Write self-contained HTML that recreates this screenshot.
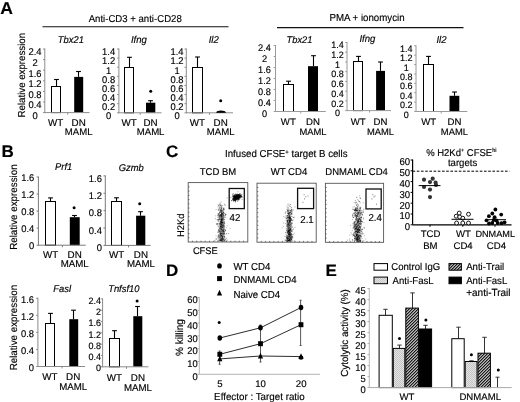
<!DOCTYPE html>
<html><head><meta charset="utf-8"><style>
html,body{margin:0;padding:0;background:#fff;}
svg{display:block;font-family:"Liberation Sans", sans-serif;filter:blur(0.3px);}
text{stroke:#000;stroke-width:0.15px;text-rendering:geometricPrecision;}
</style></head><body>
<svg width="520" height="402" viewBox="0 0 520 402">
<rect width="520" height="402" fill="#fff"/>
<text transform="translate(0.3 14) scale(1 0.98)" font-size="17.6" text-anchor="start" font-weight="bold" fill="#000">A</text>
<text transform="translate(135.2 21.6) scale(1 1.04)" font-size="9.6" text-anchor="middle" fill="#000">Anti-CD3 + anti-CD28</text>
<line x1="42.5" y1="26.8" x2="228.5" y2="26.8" stroke="#111" stroke-width="1.1"/>
<text transform="translate(367 21.4) scale(1 1.04)" font-size="9.7" text-anchor="middle" fill="#000">PMA + ionomycin</text>
<line x1="277" y1="27.6" x2="463.5" y2="27.6" stroke="#111" stroke-width="1.1"/>
<text transform="translate(70.9 42.7) scale(1 1.04)" font-size="9.4" text-anchor="middle" font-style="italic" fill="#000">Tbx21</text>
<text transform="translate(138.9 42.6) scale(1 1.04)" font-size="9.6" text-anchor="middle" font-style="italic" fill="#000">Ifng</text>
<text transform="translate(213.7 43.3) scale(1 1.04)" font-size="9.6" text-anchor="middle" font-style="italic" fill="#000">Il2</text>
<text transform="translate(299.5 42.7) scale(1 1.04)" font-size="9.3" text-anchor="middle" font-style="italic" fill="#000">Tbx21</text>
<text transform="translate(367.4 42.2) scale(1 1.04)" font-size="9.6" text-anchor="middle" font-style="italic" fill="#000">Ifng</text>
<text transform="translate(441.5 43) scale(1 1.04)" font-size="9.6" text-anchor="middle" font-style="italic" fill="#000">Il2</text>
<line x1="56.5" y1="79.5" x2="56.5" y2="86.1" stroke="#000" stroke-width="1.1"/>
<line x1="54.1" y1="79.5" x2="58.9" y2="79.5" stroke="#000" stroke-width="1.1"/>
<rect x="51.5" y="86.5" width="9" height="26.1" fill="#fff" stroke="#000" stroke-width="1"/>
<line x1="78.5" y1="71.5" x2="78.5" y2="76.9" stroke="#000" stroke-width="1.1"/>
<line x1="76.1" y1="71.5" x2="80.9" y2="71.5" stroke="#000" stroke-width="1.1"/>
<rect x="74.2" y="76.9" width="9" height="35.7" fill="#000" stroke="none" stroke-width="1"/>
<line x1="44.8" y1="48.5" x2="44.8" y2="113.1" stroke="#8c8c8c" stroke-width="1"/>
<line x1="44.8" y1="112.6" x2="89.5" y2="112.6" stroke="#8c8c8c" stroke-width="1"/>
<line x1="43" y1="49" x2="44.8" y2="49" stroke="#8c8c8c" stroke-width="1"/>
<text transform="translate(35 55.49) scale(1 1.04)" font-size="9.4" text-anchor="middle" fill="#000">2.4</text>
<line x1="43" y1="59.6" x2="44.8" y2="59.6" stroke="#8c8c8c" stroke-width="1"/>
<text transform="translate(35 66.09) scale(1 1.04)" font-size="9.4" text-anchor="middle" fill="#000">2</text>
<line x1="43" y1="70.2" x2="44.8" y2="70.2" stroke="#8c8c8c" stroke-width="1"/>
<text transform="translate(35 76.69) scale(1 1.04)" font-size="9.4" text-anchor="middle" fill="#000">1.6</text>
<line x1="43" y1="80.8" x2="44.8" y2="80.8" stroke="#8c8c8c" stroke-width="1"/>
<text transform="translate(35 87.29) scale(1 1.04)" font-size="9.4" text-anchor="middle" fill="#000">1.2</text>
<line x1="43" y1="91.4" x2="44.8" y2="91.4" stroke="#8c8c8c" stroke-width="1"/>
<text transform="translate(35 97.89) scale(1 1.04)" font-size="9.4" text-anchor="middle" fill="#000">0.8</text>
<line x1="43" y1="102" x2="44.8" y2="102" stroke="#8c8c8c" stroke-width="1"/>
<text transform="translate(35 108.49) scale(1 1.04)" font-size="9.4" text-anchor="middle" fill="#000">0.4</text>
<line x1="43" y1="112.6" x2="44.8" y2="112.6" stroke="#8c8c8c" stroke-width="1"/>
<text transform="translate(35 119.09) scale(1 1.04)" font-size="9.4" text-anchor="middle" fill="#000">0</text>
<line x1="67.7" y1="112.6" x2="67.7" y2="114.6" stroke="#8c8c8c" stroke-width="1"/>
<line x1="129.5" y1="57.3" x2="129.5" y2="67.3" stroke="#000" stroke-width="1.1"/>
<line x1="127.1" y1="57.3" x2="131.9" y2="57.3" stroke="#000" stroke-width="1.1"/>
<rect x="124.5" y="67.5" width="9" height="45.3" fill="#fff" stroke="#000" stroke-width="1"/>
<line x1="150.5" y1="100.7" x2="150.5" y2="102.7" stroke="#000" stroke-width="1.1"/>
<line x1="148.1" y1="100.7" x2="152.9" y2="100.7" stroke="#000" stroke-width="1.1"/>
<rect x="146" y="102.7" width="9.3" height="10.1" fill="#000" stroke="none" stroke-width="1"/>
<line x1="118.9" y1="48.5" x2="118.9" y2="113.3" stroke="#8c8c8c" stroke-width="1"/>
<line x1="118.9" y1="112.8" x2="161.5" y2="112.8" stroke="#8c8c8c" stroke-width="1"/>
<line x1="117.1" y1="49" x2="118.9" y2="49" stroke="#8c8c8c" stroke-width="1"/>
<text transform="translate(108.6 55.29) scale(1 1.04)" font-size="9.4" text-anchor="middle" fill="#000">1.4</text>
<line x1="117.1" y1="58.11" x2="118.9" y2="58.11" stroke="#8c8c8c" stroke-width="1"/>
<text transform="translate(108.6 64.4) scale(1 1.04)" font-size="9.4" text-anchor="middle" fill="#000">1.2</text>
<line x1="117.1" y1="67.23" x2="118.9" y2="67.23" stroke="#8c8c8c" stroke-width="1"/>
<text transform="translate(108.6 73.52) scale(1 1.04)" font-size="9.4" text-anchor="middle" fill="#000">1</text>
<line x1="117.1" y1="76.34" x2="118.9" y2="76.34" stroke="#8c8c8c" stroke-width="1"/>
<text transform="translate(108.6 82.63) scale(1 1.04)" font-size="9.4" text-anchor="middle" fill="#000">0.8</text>
<line x1="117.1" y1="85.46" x2="118.9" y2="85.46" stroke="#8c8c8c" stroke-width="1"/>
<text transform="translate(108.6 91.75) scale(1 1.04)" font-size="9.4" text-anchor="middle" fill="#000">0.6</text>
<line x1="117.1" y1="94.57" x2="118.9" y2="94.57" stroke="#8c8c8c" stroke-width="1"/>
<text transform="translate(108.6 100.86) scale(1 1.04)" font-size="9.4" text-anchor="middle" fill="#000">0.4</text>
<line x1="117.1" y1="103.69" x2="118.9" y2="103.69" stroke="#8c8c8c" stroke-width="1"/>
<text transform="translate(108.6 109.98) scale(1 1.04)" font-size="9.4" text-anchor="middle" fill="#000">0.2</text>
<line x1="117.1" y1="112.8" x2="118.9" y2="112.8" stroke="#8c8c8c" stroke-width="1"/>
<text transform="translate(108.6 119.09) scale(1 1.04)" font-size="9.4" text-anchor="middle" fill="#000">0</text>
<line x1="140.2" y1="112.8" x2="140.2" y2="114.8" stroke="#8c8c8c" stroke-width="1"/>
<circle cx="150.7" cy="91.3" r="1.5" fill="#000"/>
<line x1="197.5" y1="57" x2="197.5" y2="67.3" stroke="#000" stroke-width="1.1"/>
<line x1="195.1" y1="57" x2="199.9" y2="57" stroke="#000" stroke-width="1.1"/>
<rect x="192.5" y="67.5" width="10" height="45.3" fill="#fff" stroke="#000" stroke-width="1"/>
<rect x="216.8" y="111.6" width="7.9" height="1.2" fill="#000" stroke="none" stroke-width="1"/>
<line x1="186.3" y1="48.5" x2="186.3" y2="113.3" stroke="#8c8c8c" stroke-width="1"/>
<line x1="186.3" y1="112.8" x2="233" y2="112.8" stroke="#8c8c8c" stroke-width="1"/>
<line x1="184.5" y1="49" x2="186.3" y2="49" stroke="#8c8c8c" stroke-width="1"/>
<text transform="translate(177 55.29) scale(1 1.04)" font-size="9.4" text-anchor="middle" fill="#000">1.4</text>
<line x1="184.5" y1="58.11" x2="186.3" y2="58.11" stroke="#8c8c8c" stroke-width="1"/>
<text transform="translate(177 64.4) scale(1 1.04)" font-size="9.4" text-anchor="middle" fill="#000">1.2</text>
<line x1="184.5" y1="67.23" x2="186.3" y2="67.23" stroke="#8c8c8c" stroke-width="1"/>
<text transform="translate(177 73.52) scale(1 1.04)" font-size="9.4" text-anchor="middle" fill="#000">1</text>
<line x1="184.5" y1="76.34" x2="186.3" y2="76.34" stroke="#8c8c8c" stroke-width="1"/>
<text transform="translate(177 82.63) scale(1 1.04)" font-size="9.4" text-anchor="middle" fill="#000">0.8</text>
<line x1="184.5" y1="85.46" x2="186.3" y2="85.46" stroke="#8c8c8c" stroke-width="1"/>
<text transform="translate(177 91.75) scale(1 1.04)" font-size="9.4" text-anchor="middle" fill="#000">0.6</text>
<line x1="184.5" y1="94.57" x2="186.3" y2="94.57" stroke="#8c8c8c" stroke-width="1"/>
<text transform="translate(177 100.86) scale(1 1.04)" font-size="9.4" text-anchor="middle" fill="#000">0.4</text>
<line x1="184.5" y1="103.69" x2="186.3" y2="103.69" stroke="#8c8c8c" stroke-width="1"/>
<text transform="translate(177 109.98) scale(1 1.04)" font-size="9.4" text-anchor="middle" fill="#000">0.2</text>
<line x1="184.5" y1="112.8" x2="186.3" y2="112.8" stroke="#8c8c8c" stroke-width="1"/>
<text transform="translate(177 119.09) scale(1 1.04)" font-size="9.4" text-anchor="middle" fill="#000">0</text>
<line x1="209.5" y1="112.8" x2="209.5" y2="114.8" stroke="#8c8c8c" stroke-width="1"/>
<circle cx="220.7" cy="100.7" r="1.5" fill="#000"/>
<path d="M216,112.7 Q217,110.5 221,110.5 Q225,110.5 226.2,112.7 Z" fill="#000"/>
<text transform="translate(55.6 125.6) scale(1 1.0)" font-size="9.8" text-anchor="middle" fill="#000">WT</text>
<text transform="translate(78.7 125.6) scale(1 1.0)" font-size="9.8" text-anchor="middle" fill="#000">DN</text>
<text transform="translate(78.7 134.7) scale(1 1.0)" font-size="9.6" text-anchor="middle" fill="#000">MAML</text>
<text transform="translate(129.1 125.6) scale(1 1.0)" font-size="9.8" text-anchor="middle" fill="#000">WT</text>
<text transform="translate(150.6 125.6) scale(1 1.0)" font-size="9.8" text-anchor="middle" fill="#000">DN</text>
<text transform="translate(150.6 134.7) scale(1 1.0)" font-size="9.6" text-anchor="middle" fill="#000">MAML</text>
<text transform="translate(197.4 125.6) scale(1 1.0)" font-size="9.8" text-anchor="middle" fill="#000">WT</text>
<text transform="translate(220.7 125.6) scale(1 1.0)" font-size="9.8" text-anchor="middle" fill="#000">DN</text>
<text transform="translate(220.7 134.7) scale(1 1.0)" font-size="9.6" text-anchor="middle" fill="#000">MAML</text>
<line x1="288.5" y1="81.2" x2="288.5" y2="84.2" stroke="#000" stroke-width="1.1"/>
<line x1="286.1" y1="81.2" x2="290.9" y2="81.2" stroke="#000" stroke-width="1.1"/>
<rect x="283.5" y="84.5" width="10" height="27" fill="#fff" stroke="#000" stroke-width="1"/>
<line x1="313.5" y1="55.7" x2="313.5" y2="66.2" stroke="#000" stroke-width="1.1"/>
<line x1="311.1" y1="55.7" x2="315.9" y2="55.7" stroke="#000" stroke-width="1.1"/>
<rect x="308" y="66.2" width="10" height="45.3" fill="#000" stroke="none" stroke-width="1"/>
<line x1="275.5" y1="45" x2="275.5" y2="112" stroke="#9a9a9a" stroke-width="1"/>
<line x1="275.5" y1="111.5" x2="325.8" y2="111.5" stroke="#9a9a9a" stroke-width="1"/>
<line x1="273.7" y1="45.5" x2="275.5" y2="45.5" stroke="#9a9a9a" stroke-width="1"/>
<text transform="translate(264.5 50.52) scale(1 1.04)" font-size="9.2" text-anchor="middle" fill="#000">2.4</text>
<line x1="273.7" y1="56.5" x2="275.5" y2="56.5" stroke="#9a9a9a" stroke-width="1"/>
<text transform="translate(264.5 61.52) scale(1 1.04)" font-size="9.2" text-anchor="middle" fill="#000">2</text>
<line x1="273.7" y1="67.5" x2="275.5" y2="67.5" stroke="#9a9a9a" stroke-width="1"/>
<text transform="translate(264.5 72.52) scale(1 1.04)" font-size="9.2" text-anchor="middle" fill="#000">1.6</text>
<line x1="273.7" y1="78.5" x2="275.5" y2="78.5" stroke="#9a9a9a" stroke-width="1"/>
<text transform="translate(264.5 83.52) scale(1 1.04)" font-size="9.2" text-anchor="middle" fill="#000">1.2</text>
<line x1="273.7" y1="89.5" x2="275.5" y2="89.5" stroke="#9a9a9a" stroke-width="1"/>
<text transform="translate(264.5 94.52) scale(1 1.04)" font-size="9.2" text-anchor="middle" fill="#000">0.8</text>
<line x1="273.7" y1="100.5" x2="275.5" y2="100.5" stroke="#9a9a9a" stroke-width="1"/>
<text transform="translate(264.5 105.52) scale(1 1.04)" font-size="9.2" text-anchor="middle" fill="#000">0.4</text>
<line x1="273.7" y1="111.5" x2="275.5" y2="111.5" stroke="#9a9a9a" stroke-width="1"/>
<text transform="translate(264.5 116.52) scale(1 1.04)" font-size="9.2" text-anchor="middle" fill="#000">0</text>
<line x1="300.8" y1="111.5" x2="300.8" y2="113.5" stroke="#9a9a9a" stroke-width="1"/>
<line x1="358.5" y1="56.4" x2="358.5" y2="61.9" stroke="#000" stroke-width="1.1"/>
<line x1="356.1" y1="56.4" x2="360.9" y2="56.4" stroke="#000" stroke-width="1.1"/>
<rect x="353.5" y="61.5" width="9" height="49.1" fill="#fff" stroke="#000" stroke-width="1"/>
<line x1="380.5" y1="62" x2="380.5" y2="70.9" stroke="#000" stroke-width="1.1"/>
<line x1="378.1" y1="62" x2="382.9" y2="62" stroke="#000" stroke-width="1.1"/>
<rect x="376.1" y="70.9" width="8.9" height="39.7" fill="#000" stroke="none" stroke-width="1"/>
<line x1="347" y1="42" x2="347" y2="111.1" stroke="#9a9a9a" stroke-width="1"/>
<line x1="347" y1="110.6" x2="391" y2="110.6" stroke="#9a9a9a" stroke-width="1"/>
<line x1="345.2" y1="42.5" x2="347" y2="42.5" stroke="#9a9a9a" stroke-width="1"/>
<text transform="translate(337.4 48.15) scale(1 1.04)" font-size="9" text-anchor="middle" fill="#000">1.4</text>
<line x1="345.2" y1="52.23" x2="347" y2="52.23" stroke="#9a9a9a" stroke-width="1"/>
<text transform="translate(337.4 57.88) scale(1 1.04)" font-size="9" text-anchor="middle" fill="#000">1.2</text>
<line x1="345.2" y1="61.96" x2="347" y2="61.96" stroke="#9a9a9a" stroke-width="1"/>
<text transform="translate(337.4 67.61) scale(1 1.04)" font-size="9" text-anchor="middle" fill="#000">1</text>
<line x1="345.2" y1="71.69" x2="347" y2="71.69" stroke="#9a9a9a" stroke-width="1"/>
<text transform="translate(337.4 77.34) scale(1 1.04)" font-size="9" text-anchor="middle" fill="#000">0.8</text>
<line x1="345.2" y1="81.41" x2="347" y2="81.41" stroke="#9a9a9a" stroke-width="1"/>
<text transform="translate(337.4 87.06) scale(1 1.04)" font-size="9" text-anchor="middle" fill="#000">0.6</text>
<line x1="345.2" y1="91.14" x2="347" y2="91.14" stroke="#9a9a9a" stroke-width="1"/>
<text transform="translate(337.4 96.79) scale(1 1.04)" font-size="9" text-anchor="middle" fill="#000">0.4</text>
<line x1="345.2" y1="100.87" x2="347" y2="100.87" stroke="#9a9a9a" stroke-width="1"/>
<text transform="translate(337.4 106.52) scale(1 1.04)" font-size="9" text-anchor="middle" fill="#000">0.2</text>
<line x1="345.2" y1="110.6" x2="347" y2="110.6" stroke="#9a9a9a" stroke-width="1"/>
<text transform="translate(337.4 116.25) scale(1 1.04)" font-size="9" text-anchor="middle" fill="#000">0</text>
<line x1="369.6" y1="110.6" x2="369.6" y2="112.6" stroke="#9a9a9a" stroke-width="1"/>
<line x1="428.5" y1="56.4" x2="428.5" y2="64.4" stroke="#000" stroke-width="1.1"/>
<line x1="426.1" y1="56.4" x2="430.9" y2="56.4" stroke="#000" stroke-width="1.1"/>
<rect x="423.5" y="64.5" width="10" height="47" fill="#fff" stroke="#000" stroke-width="1"/>
<line x1="454.5" y1="92" x2="454.5" y2="95.8" stroke="#000" stroke-width="1.1"/>
<line x1="452.1" y1="92" x2="456.9" y2="92" stroke="#000" stroke-width="1.1"/>
<rect x="449.5" y="95.8" width="9.8" height="15.7" fill="#000" stroke="none" stroke-width="1"/>
<line x1="416" y1="45.3" x2="416" y2="112" stroke="#9a9a9a" stroke-width="1"/>
<line x1="416" y1="111.5" x2="467.3" y2="111.5" stroke="#9a9a9a" stroke-width="1"/>
<line x1="414.2" y1="45.8" x2="416" y2="45.8" stroke="#9a9a9a" stroke-width="1"/>
<text transform="translate(406.2 51.95) scale(1 1.04)" font-size="9" text-anchor="middle" fill="#000">1.4</text>
<line x1="414.2" y1="55.19" x2="416" y2="55.19" stroke="#9a9a9a" stroke-width="1"/>
<text transform="translate(406.2 61.34) scale(1 1.04)" font-size="9" text-anchor="middle" fill="#000">1.2</text>
<line x1="414.2" y1="64.57" x2="416" y2="64.57" stroke="#9a9a9a" stroke-width="1"/>
<text transform="translate(406.2 70.72) scale(1 1.04)" font-size="9" text-anchor="middle" fill="#000">1</text>
<line x1="414.2" y1="73.96" x2="416" y2="73.96" stroke="#9a9a9a" stroke-width="1"/>
<text transform="translate(406.2 80.11) scale(1 1.04)" font-size="9" text-anchor="middle" fill="#000">0.8</text>
<line x1="414.2" y1="83.34" x2="416" y2="83.34" stroke="#9a9a9a" stroke-width="1"/>
<text transform="translate(406.2 89.49) scale(1 1.04)" font-size="9" text-anchor="middle" fill="#000">0.6</text>
<line x1="414.2" y1="92.73" x2="416" y2="92.73" stroke="#9a9a9a" stroke-width="1"/>
<text transform="translate(406.2 98.88) scale(1 1.04)" font-size="9" text-anchor="middle" fill="#000">0.4</text>
<line x1="414.2" y1="102.11" x2="416" y2="102.11" stroke="#9a9a9a" stroke-width="1"/>
<text transform="translate(406.2 108.26) scale(1 1.04)" font-size="9" text-anchor="middle" fill="#000">0.2</text>
<line x1="414.2" y1="111.5" x2="416" y2="111.5" stroke="#9a9a9a" stroke-width="1"/>
<text transform="translate(406.2 117.65) scale(1 1.04)" font-size="9" text-anchor="middle" fill="#000">0</text>
<line x1="441.2" y1="111.5" x2="441.2" y2="113.5" stroke="#9a9a9a" stroke-width="1"/>
<text transform="translate(288.3 125) scale(1 1.0)" font-size="9.6" text-anchor="middle" fill="#000">WT</text>
<text transform="translate(313 125) scale(1 1.0)" font-size="9.6" text-anchor="middle" fill="#000">DN</text>
<text transform="translate(313 134.8) scale(1 1.0)" font-size="9.4" text-anchor="middle" fill="#000">MAML</text>
<text transform="translate(358.1 125) scale(1 1.0)" font-size="9.6" text-anchor="middle" fill="#000">WT</text>
<text transform="translate(380.5 125) scale(1 1.0)" font-size="9.6" text-anchor="middle" fill="#000">DN</text>
<text transform="translate(380.5 134.8) scale(1 1.0)" font-size="9.4" text-anchor="middle" fill="#000">MAML</text>
<text transform="translate(428.6 125) scale(1 1.0)" font-size="9.6" text-anchor="middle" fill="#000">WT</text>
<text transform="translate(454.4 125) scale(1 1.0)" font-size="9.6" text-anchor="middle" fill="#000">DN</text>
<text transform="translate(454.4 134.8) scale(1 1.0)" font-size="9.4" text-anchor="middle" fill="#000">MAML</text>
<text transform="translate(25 75.2) rotate(-90) scale(1 1.04)" font-size="9.7" text-anchor="middle" fill="#000">Relative expression</text>
<text transform="translate(1.5 157) scale(1 1.0)" font-size="17" text-anchor="start" font-weight="bold" fill="#000">B</text>
<text transform="translate(63.6 169.9) scale(1 1.04)" font-size="9.4" text-anchor="middle" font-style="italic" fill="#000">Prf1</text>
<text transform="translate(131.2 170.5) scale(1 1.04)" font-size="9.4" text-anchor="middle" font-style="italic" fill="#000">Gzmb</text>
<text transform="translate(62.2 292.3) scale(1 1.04)" font-size="9.4" text-anchor="middle" font-style="italic" fill="#000">Fasl</text>
<text transform="translate(123.8 292.3) scale(1 1.04)" font-size="9.4" text-anchor="middle" font-style="italic" fill="#000">Tnfsf10</text>
<line x1="50.5" y1="197.9" x2="50.5" y2="201.5" stroke="#000" stroke-width="1.1"/>
<line x1="48.1" y1="197.9" x2="52.9" y2="197.9" stroke="#000" stroke-width="1.1"/>
<rect x="45.5" y="201.5" width="10" height="43.7" fill="#fff" stroke="#000" stroke-width="1"/>
<line x1="74.5" y1="215.5" x2="74.5" y2="217.2" stroke="#000" stroke-width="1.1"/>
<line x1="72.1" y1="215.5" x2="76.9" y2="215.5" stroke="#000" stroke-width="1.1"/>
<rect x="69.8" y="217.2" width="9.9" height="28" fill="#000" stroke="none" stroke-width="1"/>
<line x1="38.4" y1="176.5" x2="38.4" y2="245.7" stroke="#7a7a7a" stroke-width="1"/>
<line x1="38.4" y1="245.2" x2="85.7" y2="245.2" stroke="#7a7a7a" stroke-width="1"/>
<line x1="36.6" y1="177" x2="38.4" y2="177" stroke="#7a7a7a" stroke-width="1"/>
<text transform="translate(34.3 180.99) scale(1 1.04)" font-size="9.4" text-anchor="end" fill="#000">1.6</text>
<line x1="36.6" y1="194.05" x2="38.4" y2="194.05" stroke="#7a7a7a" stroke-width="1"/>
<text transform="translate(34.3 198.04) scale(1 1.04)" font-size="9.4" text-anchor="end" fill="#000">1.2</text>
<line x1="36.6" y1="211.1" x2="38.4" y2="211.1" stroke="#7a7a7a" stroke-width="1"/>
<text transform="translate(34.3 215.09) scale(1 1.04)" font-size="9.4" text-anchor="end" fill="#000">0.8</text>
<line x1="36.6" y1="228.15" x2="38.4" y2="228.15" stroke="#7a7a7a" stroke-width="1"/>
<text transform="translate(34.3 232.14) scale(1 1.04)" font-size="9.4" text-anchor="end" fill="#000">0.4</text>
<line x1="36.6" y1="245.2" x2="38.4" y2="245.2" stroke="#7a7a7a" stroke-width="1"/>
<text transform="translate(34.3 249.19) scale(1 1.04)" font-size="9.4" text-anchor="end" fill="#000">0</text>
<line x1="62.4" y1="245.2" x2="62.4" y2="247.2" stroke="#7a7a7a" stroke-width="1"/>
<circle cx="74.1" cy="207.8" r="1.5" fill="#000"/>
<line x1="116.5" y1="197.8" x2="116.5" y2="201.3" stroke="#000" stroke-width="1.1"/>
<line x1="114.1" y1="197.8" x2="118.9" y2="197.8" stroke="#000" stroke-width="1.1"/>
<rect x="111.5" y="201.5" width="10" height="43.9" fill="#fff" stroke="#000" stroke-width="1"/>
<line x1="140.5" y1="211.7" x2="140.5" y2="215.7" stroke="#000" stroke-width="1.1"/>
<line x1="138.1" y1="211.7" x2="142.9" y2="211.7" stroke="#000" stroke-width="1.1"/>
<rect x="136.1" y="215.7" width="9.2" height="29.7" fill="#000" stroke="none" stroke-width="1"/>
<line x1="105.3" y1="175.4" x2="105.3" y2="245.9" stroke="#7a7a7a" stroke-width="1"/>
<line x1="105.3" y1="245.4" x2="150.6" y2="245.4" stroke="#7a7a7a" stroke-width="1"/>
<line x1="103.5" y1="175.9" x2="105.3" y2="175.9" stroke="#7a7a7a" stroke-width="1"/>
<text transform="translate(101.9 181.69) scale(1 1.04)" font-size="9.4" text-anchor="end" fill="#000">1.6</text>
<line x1="103.5" y1="193.28" x2="105.3" y2="193.28" stroke="#7a7a7a" stroke-width="1"/>
<text transform="translate(101.9 199.06) scale(1 1.04)" font-size="9.4" text-anchor="end" fill="#000">1.2</text>
<line x1="103.5" y1="210.65" x2="105.3" y2="210.65" stroke="#7a7a7a" stroke-width="1"/>
<text transform="translate(101.9 216.44) scale(1 1.04)" font-size="9.4" text-anchor="end" fill="#000">0.8</text>
<line x1="103.5" y1="228.03" x2="105.3" y2="228.03" stroke="#7a7a7a" stroke-width="1"/>
<text transform="translate(101.9 233.81) scale(1 1.04)" font-size="9.4" text-anchor="end" fill="#000">0.4</text>
<line x1="103.5" y1="245.4" x2="105.3" y2="245.4" stroke="#7a7a7a" stroke-width="1"/>
<text transform="translate(101.9 251.19) scale(1 1.04)" font-size="9.4" text-anchor="end" fill="#000">0</text>
<line x1="128.5" y1="245.4" x2="128.5" y2="247.4" stroke="#7a7a7a" stroke-width="1"/>
<circle cx="139.7" cy="203.7" r="1.5" fill="#000"/>
<line x1="50.5" y1="313.4" x2="50.5" y2="323.4" stroke="#000" stroke-width="1.1"/>
<line x1="48.1" y1="313.4" x2="52.9" y2="313.4" stroke="#000" stroke-width="1.1"/>
<rect x="45.5" y="323.5" width="9" height="43" fill="#fff" stroke="#000" stroke-width="1"/>
<line x1="73.5" y1="310.2" x2="73.5" y2="319.2" stroke="#000" stroke-width="1.1"/>
<line x1="71.1" y1="310.2" x2="75.9" y2="310.2" stroke="#000" stroke-width="1.1"/>
<rect x="69.3" y="319.2" width="8.9" height="47.3" fill="#000" stroke="none" stroke-width="1"/>
<line x1="37.9" y1="297.8" x2="37.9" y2="367" stroke="#8a8a8a" stroke-width="1"/>
<line x1="37.9" y1="366.5" x2="85" y2="366.5" stroke="#8a8a8a" stroke-width="1"/>
<line x1="36.1" y1="298.3" x2="37.9" y2="298.3" stroke="#8a8a8a" stroke-width="1"/>
<text transform="translate(34 302.59) scale(1 1.04)" font-size="9.4" text-anchor="end" fill="#000">1.6</text>
<line x1="36.1" y1="315.35" x2="37.9" y2="315.35" stroke="#8a8a8a" stroke-width="1"/>
<text transform="translate(34 319.64) scale(1 1.04)" font-size="9.4" text-anchor="end" fill="#000">1.2</text>
<line x1="36.1" y1="332.4" x2="37.9" y2="332.4" stroke="#8a8a8a" stroke-width="1"/>
<text transform="translate(34 336.69) scale(1 1.04)" font-size="9.4" text-anchor="end" fill="#000">0.8</text>
<line x1="36.1" y1="349.45" x2="37.9" y2="349.45" stroke="#8a8a8a" stroke-width="1"/>
<text transform="translate(34 353.74) scale(1 1.04)" font-size="9.4" text-anchor="end" fill="#000">0.4</text>
<line x1="36.1" y1="366.5" x2="37.9" y2="366.5" stroke="#8a8a8a" stroke-width="1"/>
<text transform="translate(34 370.79) scale(1 1.04)" font-size="9.4" text-anchor="end" fill="#000">0</text>
<line x1="62" y1="366.5" x2="62" y2="368.5" stroke="#8a8a8a" stroke-width="1"/>
<line x1="114.5" y1="330.7" x2="114.5" y2="338.3" stroke="#000" stroke-width="1.1"/>
<line x1="112.1" y1="330.7" x2="116.9" y2="330.7" stroke="#000" stroke-width="1.1"/>
<rect x="109.5" y="338.5" width="10" height="28.3" fill="#fff" stroke="#000" stroke-width="1"/>
<line x1="137.5" y1="306.5" x2="137.5" y2="316.2" stroke="#000" stroke-width="1.1"/>
<line x1="135.1" y1="306.5" x2="139.9" y2="306.5" stroke="#000" stroke-width="1.1"/>
<rect x="133.3" y="316.2" width="9" height="50.6" fill="#000" stroke="none" stroke-width="1"/>
<line x1="102.6" y1="298.4" x2="102.6" y2="367.3" stroke="#8a8a8a" stroke-width="1"/>
<line x1="102.6" y1="366.8" x2="148.5" y2="366.8" stroke="#8a8a8a" stroke-width="1"/>
<line x1="100.8" y1="298.9" x2="102.6" y2="298.9" stroke="#8a8a8a" stroke-width="1"/>
<text transform="translate(100.9 303.55) scale(1 1.04)" font-size="9" text-anchor="end" fill="#000">2.4</text>
<line x1="100.8" y1="310.22" x2="102.6" y2="310.22" stroke="#8a8a8a" stroke-width="1"/>
<text transform="translate(100.9 314.87) scale(1 1.04)" font-size="9" text-anchor="end" fill="#000">2</text>
<line x1="100.8" y1="321.53" x2="102.6" y2="321.53" stroke="#8a8a8a" stroke-width="1"/>
<text transform="translate(100.9 326.18) scale(1 1.04)" font-size="9" text-anchor="end" fill="#000">1.6</text>
<line x1="100.8" y1="332.85" x2="102.6" y2="332.85" stroke="#8a8a8a" stroke-width="1"/>
<text transform="translate(100.9 337.5) scale(1 1.04)" font-size="9" text-anchor="end" fill="#000">1.2</text>
<line x1="100.8" y1="344.17" x2="102.6" y2="344.17" stroke="#8a8a8a" stroke-width="1"/>
<text transform="translate(100.9 348.82) scale(1 1.04)" font-size="9" text-anchor="end" fill="#000">0.8</text>
<line x1="100.8" y1="355.48" x2="102.6" y2="355.48" stroke="#8a8a8a" stroke-width="1"/>
<text transform="translate(100.9 360.13) scale(1 1.04)" font-size="9" text-anchor="end" fill="#000">0.4</text>
<line x1="100.8" y1="366.8" x2="102.6" y2="366.8" stroke="#8a8a8a" stroke-width="1"/>
<text transform="translate(100.9 371.45) scale(1 1.04)" font-size="9" text-anchor="end" fill="#000">0</text>
<line x1="126.5" y1="366.8" x2="126.5" y2="368.8" stroke="#8a8a8a" stroke-width="1"/>
<circle cx="137.1" cy="300.9" r="1.5" fill="#000"/>
<text transform="translate(50.6 257.7) scale(1 1.0)" font-size="9.8" text-anchor="middle" fill="#000">WT</text>
<text transform="translate(74.7 257.7) scale(1 1.0)" font-size="9.8" text-anchor="middle" fill="#000">DN</text>
<text transform="translate(74.7 266.7) scale(1 1.0)" font-size="9.7" text-anchor="middle" fill="#000">MAML</text>
<text transform="translate(116.5 257.7) scale(1 1.0)" font-size="9.8" text-anchor="middle" fill="#000">WT</text>
<text transform="translate(140.9 257.7) scale(1 1.0)" font-size="9.8" text-anchor="middle" fill="#000">DN</text>
<text transform="translate(140.9 266.7) scale(1 1.0)" font-size="9.7" text-anchor="middle" fill="#000">MAML</text>
<text transform="translate(49.8 380.1) scale(1 1.0)" font-size="9.8" text-anchor="middle" fill="#000">WT</text>
<text transform="translate(73.2 380.1) scale(1 1.0)" font-size="9.8" text-anchor="middle" fill="#000">DN</text>
<text transform="translate(73.2 390) scale(1 1.0)" font-size="9.7" text-anchor="middle" fill="#000">MAML</text>
<text transform="translate(114.4 380.8) scale(1 1.0)" font-size="9.8" text-anchor="middle" fill="#000">WT</text>
<text transform="translate(137.9 380.8) scale(1 1.0)" font-size="9.8" text-anchor="middle" fill="#000">DN</text>
<text transform="translate(137.9 390.5) scale(1 1.0)" font-size="9.7" text-anchor="middle" fill="#000">MAML</text>
<text transform="translate(17.3 207.1) rotate(-90) scale(1 1.04)" font-size="9.8" text-anchor="middle" fill="#000">Relative expression</text>
<text transform="translate(17.3 327.6) rotate(-90) scale(1 1.04)" font-size="9.8" text-anchor="middle" fill="#000">Relative expression</text>
<text transform="translate(166 156.6) scale(1 0.98)" font-size="17" text-anchor="start" font-weight="bold" fill="#000">C</text>
<text transform="translate(225 157.2) scale(1 1.04)" font-size="9.7" text-anchor="start" fill="#000">Infused CFSE<tspan font-size="6" dy="-3.5">+</tspan><tspan dy="3.5"> target B cells</tspan></text>
<text transform="translate(218 175) scale(1 1.04)" font-size="9.5" text-anchor="middle" fill="#000">TCD BM</text>
<text transform="translate(289 175.4) scale(1 1.04)" font-size="9.6" text-anchor="middle" fill="#000">WT CD4</text>
<text transform="translate(356.6 175.4) scale(1 1.04)" font-size="9.5" text-anchor="middle" fill="#000">DNMAML CD4</text>
<rect x="222.4" y="221.5" width="1.0" height="1.0" fill-opacity="0.42"/>
<rect x="222.9" y="211.7" width="1.0" height="1.0" fill-opacity="0.42"/>
<rect x="220.6" y="228.2" width="1.0" height="1.0" fill-opacity="0.42"/>
<rect x="221.4" y="227.3" width="1.0" height="1.0" fill-opacity="0.42"/>
<rect x="220.4" y="209.9" width="1.0" height="1.0" fill-opacity="0.42"/>
<rect x="221.2" y="212.6" width="1.0" height="1.0" fill-opacity="0.42"/>
<rect x="221.4" y="224.8" width="1.0" height="1.0" fill-opacity="0.42"/>
<rect x="220.3" y="218.0" width="1.0" height="1.0" fill-opacity="0.42"/>
<rect x="223.0" y="230.8" width="1.0" height="1.0" fill-opacity="0.42"/>
<rect x="220.3" y="223.9" width="1.0" height="1.0" fill-opacity="0.42"/>
<rect x="224.0" y="240.2" width="1.0" height="1.0" fill-opacity="0.42"/>
<rect x="221.9" y="220.3" width="1.0" height="1.0" fill-opacity="0.42"/>
<rect x="222.0" y="214.9" width="1.0" height="1.0" fill-opacity="0.42"/>
<rect x="221.9" y="236.0" width="1.0" height="1.0" fill-opacity="0.42"/>
<rect x="219.0" y="216.4" width="1.0" height="1.0" fill-opacity="0.42"/>
<rect x="219.9" y="223.1" width="1.0" height="1.0" fill-opacity="0.42"/>
<rect x="221.5" y="228.5" width="1.0" height="1.0" fill-opacity="0.42"/>
<rect x="221.2" y="217.3" width="1.0" height="1.0" fill-opacity="0.42"/>
<rect x="219.8" y="232.3" width="1.0" height="1.0" fill-opacity="0.42"/>
<rect x="221.6" y="229.6" width="1.0" height="1.0" fill-opacity="0.42"/>
<rect x="220.1" y="225.7" width="1.0" height="1.0" fill-opacity="0.42"/>
<rect x="223.7" y="232.8" width="1.0" height="1.0" fill-opacity="0.42"/>
<rect x="219.3" y="218.7" width="1.0" height="1.0" fill-opacity="0.42"/>
<rect x="220.1" y="237.6" width="1.0" height="1.0" fill-opacity="0.42"/>
<rect x="219.9" y="233.7" width="1.0" height="1.0" fill-opacity="0.42"/>
<rect x="225.4" y="213.8" width="1.0" height="1.0" fill-opacity="0.42"/>
<rect x="221.0" y="224.6" width="1.0" height="1.0" fill-opacity="0.42"/>
<rect x="220.1" y="226.8" width="1.0" height="1.0" fill-opacity="0.42"/>
<rect x="219.7" y="210.0" width="1.0" height="1.0" fill-opacity="0.42"/>
<rect x="218.6" y="229.3" width="1.0" height="1.0" fill-opacity="0.42"/>
<rect x="220.0" y="237.6" width="1.0" height="1.0" fill-opacity="0.42"/>
<rect x="223.3" y="229.9" width="1.0" height="1.0" fill-opacity="0.42"/>
<rect x="218.1" y="229.5" width="1.0" height="1.0" fill-opacity="0.42"/>
<rect x="221.8" y="239.4" width="1.0" height="1.0" fill-opacity="0.42"/>
<rect x="220.7" y="226.3" width="1.0" height="1.0" fill-opacity="0.42"/>
<rect x="220.5" y="232.9" width="1.0" height="1.0" fill-opacity="0.42"/>
<rect x="224.0" y="231.4" width="1.0" height="1.0" fill-opacity="0.42"/>
<rect x="220.9" y="220.2" width="1.0" height="1.0" fill-opacity="0.42"/>
<rect x="220.8" y="223.5" width="1.0" height="1.0" fill-opacity="0.42"/>
<rect x="220.7" y="225.9" width="1.0" height="1.0" fill-opacity="0.42"/>
<rect x="221.4" y="215.9" width="1.0" height="1.0" fill-opacity="0.42"/>
<rect x="221.4" y="234.7" width="1.0" height="1.0" fill-opacity="0.42"/>
<rect x="221.0" y="214.3" width="1.0" height="1.0" fill-opacity="0.42"/>
<rect x="222.6" y="237.5" width="1.0" height="1.0" fill-opacity="0.42"/>
<rect x="219.1" y="212.1" width="1.0" height="1.0" fill-opacity="0.42"/>
<rect x="221.6" y="237.8" width="1.0" height="1.0" fill-opacity="0.42"/>
<rect x="221.8" y="236.1" width="1.0" height="1.0" fill-opacity="0.42"/>
<rect x="220.0" y="224.5" width="1.0" height="1.0" fill-opacity="0.42"/>
<rect x="224.0" y="222.7" width="1.0" height="1.0" fill-opacity="0.42"/>
<rect x="218.3" y="215.2" width="1.0" height="1.0" fill-opacity="0.42"/>
<rect x="221.1" y="216.2" width="1.0" height="1.0" fill-opacity="0.42"/>
<rect x="222.2" y="226.6" width="1.0" height="1.0" fill-opacity="0.42"/>
<rect x="221.0" y="229.7" width="1.0" height="1.0" fill-opacity="0.42"/>
<rect x="221.1" y="224.6" width="1.0" height="1.0" fill-opacity="0.42"/>
<rect x="217.4" y="223.0" width="1.0" height="1.0" fill-opacity="0.42"/>
<rect x="219.4" y="232.6" width="1.0" height="1.0" fill-opacity="0.42"/>
<rect x="219.2" y="227.6" width="1.0" height="1.0" fill-opacity="0.42"/>
<rect x="219.4" y="210.8" width="1.0" height="1.0" fill-opacity="0.42"/>
<rect x="221.6" y="238.2" width="1.0" height="1.0" fill-opacity="0.42"/>
<rect x="217.8" y="235.5" width="1.0" height="1.0" fill-opacity="0.42"/>
<rect x="220.4" y="223.8" width="1.0" height="1.0" fill-opacity="0.42"/>
<rect x="221.4" y="231.0" width="1.0" height="1.0" fill-opacity="0.42"/>
<rect x="222.0" y="211.2" width="1.0" height="1.0" fill-opacity="0.42"/>
<rect x="221.4" y="215.6" width="1.0" height="1.0" fill-opacity="0.42"/>
<rect x="221.0" y="222.1" width="1.0" height="1.0" fill-opacity="0.42"/>
<rect x="221.0" y="215.2" width="1.0" height="1.0" fill-opacity="0.42"/>
<rect x="220.8" y="213.1" width="1.0" height="1.0" fill-opacity="0.42"/>
<rect x="221.3" y="237.6" width="1.0" height="1.0" fill-opacity="0.42"/>
<rect x="221.7" y="230.4" width="1.0" height="1.0" fill-opacity="0.42"/>
<rect x="222.0" y="222.3" width="1.0" height="1.0" fill-opacity="0.42"/>
<rect x="223.2" y="222.8" width="1.0" height="1.0" fill-opacity="0.42"/>
<rect x="223.2" y="240.6" width="1.0" height="1.0" fill-opacity="0.42"/>
<rect x="220.3" y="226.1" width="1.0" height="1.0" fill-opacity="0.42"/>
<rect x="221.1" y="213.1" width="1.0" height="1.0" fill-opacity="0.42"/>
<rect x="220.7" y="222.1" width="1.0" height="1.0" fill-opacity="0.42"/>
<rect x="224.0" y="215.6" width="1.0" height="1.0" fill-opacity="0.42"/>
<rect x="222.9" y="209.0" width="1.0" height="1.0" fill-opacity="0.42"/>
<rect x="220.4" y="215.0" width="1.0" height="1.0" fill-opacity="0.42"/>
<rect x="222.9" y="228.4" width="1.0" height="1.0" fill-opacity="0.42"/>
<rect x="221.3" y="240.3" width="1.0" height="1.0" fill-opacity="0.42"/>
<rect x="220.6" y="237.3" width="1.0" height="1.0" fill-opacity="0.42"/>
<rect x="219.8" y="222.9" width="1.0" height="1.0" fill-opacity="0.42"/>
<rect x="221.3" y="215.8" width="1.0" height="1.0" fill-opacity="0.42"/>
<rect x="219.0" y="235.0" width="1.0" height="1.0" fill-opacity="0.42"/>
<rect x="221.5" y="221.7" width="1.0" height="1.0" fill-opacity="0.42"/>
<rect x="223.9" y="240.4" width="1.0" height="1.0" fill-opacity="0.42"/>
<rect x="222.0" y="237.0" width="1.0" height="1.0" fill-opacity="0.42"/>
<rect x="218.2" y="234.0" width="1.0" height="1.0" fill-opacity="0.42"/>
<rect x="219.5" y="218.1" width="1.0" height="1.0" fill-opacity="0.42"/>
<rect x="220.8" y="209.4" width="1.0" height="1.0" fill-opacity="0.42"/>
<rect x="220.8" y="209.3" width="1.0" height="1.0" fill-opacity="0.42"/>
<rect x="222.2" y="232.7" width="1.0" height="1.0" fill-opacity="0.42"/>
<rect x="217.4" y="239.7" width="1.0" height="1.0" fill-opacity="0.42"/>
<rect x="222.2" y="240.5" width="1.0" height="1.0" fill-opacity="0.42"/>
<rect x="220.3" y="239.7" width="1.0" height="1.0" fill-opacity="0.42"/>
<rect x="221.8" y="218.1" width="1.0" height="1.0" fill-opacity="0.42"/>
<rect x="221.6" y="217.0" width="1.0" height="1.0" fill-opacity="0.42"/>
<rect x="223.1" y="238.2" width="1.0" height="1.0" fill-opacity="0.42"/>
<rect x="218.7" y="236.7" width="1.0" height="1.0" fill-opacity="0.42"/>
<rect x="221.3" y="235.6" width="1.0" height="1.0" fill-opacity="0.42"/>
<rect x="219.1" y="212.3" width="1.0" height="1.0" fill-opacity="0.42"/>
<rect x="218.0" y="235.1" width="1.0" height="1.0" fill-opacity="0.42"/>
<rect x="220.0" y="234.2" width="1.0" height="1.0" fill-opacity="0.42"/>
<rect x="221.1" y="235.3" width="1.0" height="1.0" fill-opacity="0.42"/>
<rect x="222.3" y="221.8" width="1.0" height="1.0" fill-opacity="0.42"/>
<rect x="216.9" y="223.9" width="1.0" height="1.0" fill-opacity="0.42"/>
<rect x="223.4" y="224.0" width="1.0" height="1.0" fill-opacity="0.42"/>
<rect x="220.2" y="215.9" width="1.0" height="1.0" fill-opacity="0.42"/>
<rect x="223.0" y="214.2" width="1.0" height="1.0" fill-opacity="0.42"/>
<rect x="223.8" y="235.8" width="1.0" height="1.0" fill-opacity="0.42"/>
<rect x="223.1" y="215.0" width="1.0" height="1.0" fill-opacity="0.42"/>
<rect x="217.0" y="231.7" width="1.0" height="1.0" fill-opacity="0.42"/>
<rect x="220.2" y="222.4" width="1.0" height="1.0" fill-opacity="0.42"/>
<rect x="220.7" y="208.4" width="1.0" height="1.0" fill-opacity="0.42"/>
<rect x="219.8" y="240.1" width="1.0" height="1.0" fill-opacity="0.42"/>
<rect x="219.4" y="239.1" width="1.0" height="1.0" fill-opacity="0.42"/>
<rect x="223.1" y="225.1" width="1.0" height="1.0" fill-opacity="0.42"/>
<rect x="218.8" y="217.5" width="1.0" height="1.0" fill-opacity="0.42"/>
<rect x="220.7" y="219.0" width="1.0" height="1.0" fill-opacity="0.42"/>
<rect x="222.1" y="229.7" width="1.0" height="1.0" fill-opacity="0.42"/>
<rect x="220.3" y="219.3" width="1.0" height="1.0" fill-opacity="0.42"/>
<rect x="221.4" y="238.5" width="1.0" height="1.0" fill-opacity="0.42"/>
<rect x="219.0" y="222.5" width="1.0" height="1.0" fill-opacity="0.42"/>
<rect x="221.6" y="238.3" width="1.0" height="1.0" fill-opacity="0.42"/>
<rect x="222.6" y="224.7" width="1.0" height="1.0" fill-opacity="0.42"/>
<rect x="220.1" y="228.0" width="1.0" height="1.0" fill-opacity="0.42"/>
<rect x="222.7" y="227.8" width="1.0" height="1.0" fill-opacity="0.42"/>
<rect x="221.2" y="216.5" width="1.0" height="1.0" fill-opacity="0.42"/>
<rect x="221.3" y="207.5" width="1.0" height="1.0" fill-opacity="0.42"/>
<rect x="220.1" y="226.3" width="1.0" height="1.0" fill-opacity="0.42"/>
<rect x="219.7" y="233.6" width="1.0" height="1.0" fill-opacity="0.42"/>
<rect x="220.5" y="227.6" width="1.0" height="1.0" fill-opacity="0.42"/>
<rect x="221.2" y="228.7" width="1.0" height="1.0" fill-opacity="0.42"/>
<rect x="220.3" y="228.9" width="1.0" height="1.0" fill-opacity="0.42"/>
<rect x="220.5" y="218.9" width="1.0" height="1.0" fill-opacity="0.42"/>
<rect x="223.7" y="227.3" width="1.0" height="1.0" fill-opacity="0.42"/>
<rect x="221.2" y="228.9" width="1.0" height="1.0" fill-opacity="0.42"/>
<rect x="217.5" y="225.4" width="1.0" height="1.0" fill-opacity="0.42"/>
<rect x="219.1" y="230.4" width="1.0" height="1.0" fill-opacity="0.42"/>
<rect x="220.9" y="232.7" width="1.0" height="1.0" fill-opacity="0.42"/>
<rect x="219.2" y="225.6" width="1.0" height="1.0" fill-opacity="0.42"/>
<rect x="220.6" y="239.3" width="1.0" height="1.0" fill-opacity="0.42"/>
<rect x="223.7" y="232.8" width="1.0" height="1.0" fill-opacity="0.42"/>
<rect x="218.3" y="219.3" width="1.0" height="1.0" fill-opacity="0.42"/>
<rect x="223.9" y="228.9" width="1.0" height="1.0" fill-opacity="0.42"/>
<rect x="219.9" y="214.6" width="1.0" height="1.0" fill-opacity="0.42"/>
<rect x="220.4" y="214.0" width="1.0" height="1.0" fill-opacity="0.42"/>
<rect x="221.2" y="218.6" width="1.0" height="1.0" fill-opacity="0.42"/>
<rect x="219.6" y="211.8" width="1.0" height="1.0" fill-opacity="0.42"/>
<rect x="218.6" y="238.2" width="1.0" height="1.0" fill-opacity="0.42"/>
<rect x="220.5" y="215.3" width="1.0" height="1.0" fill-opacity="0.42"/>
<rect x="218.7" y="214.9" width="1.0" height="1.0" fill-opacity="0.42"/>
<rect x="222.1" y="237.8" width="1.0" height="1.0" fill-opacity="0.42"/>
<rect x="220.8" y="239.6" width="1.0" height="1.0" fill-opacity="0.42"/>
<rect x="216.2" y="223.9" width="1.0" height="1.0" fill-opacity="0.42"/>
<rect x="221.4" y="236.5" width="1.0" height="1.0" fill-opacity="0.42"/>
<rect x="219.2" y="215.6" width="1.0" height="1.0" fill-opacity="0.42"/>
<rect x="221.8" y="222.0" width="1.0" height="1.0" fill-opacity="0.42"/>
<rect x="219.9" y="216.9" width="1.0" height="1.0" fill-opacity="0.42"/>
<rect x="223.3" y="208.8" width="1.0" height="1.0" fill-opacity="0.42"/>
<rect x="220.7" y="228.7" width="1.0" height="1.0" fill-opacity="0.42"/>
<rect x="221.1" y="221.8" width="1.0" height="1.0" fill-opacity="0.42"/>
<rect x="220.4" y="230.7" width="1.0" height="1.0" fill-opacity="0.42"/>
<rect x="221.0" y="240.4" width="1.0" height="1.0" fill-opacity="0.42"/>
<rect x="221.7" y="235.3" width="1.0" height="1.0" fill-opacity="0.42"/>
<rect x="220.9" y="219.5" width="1.0" height="1.0" fill-opacity="0.42"/>
<rect x="221.2" y="210.0" width="1.0" height="1.0" fill-opacity="0.42"/>
<rect x="219.8" y="214.3" width="1.0" height="1.0" fill-opacity="0.42"/>
<rect x="223.5" y="224.7" width="1.0" height="1.0" fill-opacity="0.42"/>
<rect x="219.4" y="219.3" width="1.0" height="1.0" fill-opacity="0.42"/>
<rect x="222.8" y="215.1" width="1.0" height="1.0" fill-opacity="0.42"/>
<rect x="220.0" y="232.9" width="1.0" height="1.0" fill-opacity="0.42"/>
<rect x="223.3" y="212.5" width="1.0" height="1.0" fill-opacity="0.42"/>
<rect x="221.9" y="224.8" width="1.0" height="1.0" fill-opacity="0.42"/>
<rect x="223.1" y="211.7" width="1.0" height="1.0" fill-opacity="0.42"/>
<rect x="220.1" y="235.6" width="1.0" height="1.0" fill-opacity="0.42"/>
<rect x="221.4" y="212.3" width="1.0" height="1.0" fill-opacity="0.42"/>
<rect x="220.5" y="237.3" width="1.0" height="1.0" fill-opacity="0.42"/>
<rect x="219.9" y="225.7" width="1.0" height="1.0" fill-opacity="0.42"/>
<rect x="222.7" y="238.9" width="1.0" height="1.0" fill-opacity="0.42"/>
<rect x="222.3" y="219.6" width="1.0" height="1.0" fill-opacity="0.42"/>
<rect x="222.4" y="218.5" width="1.0" height="1.0" fill-opacity="0.42"/>
<rect x="221.3" y="213.4" width="1.0" height="1.0" fill-opacity="0.42"/>
<rect x="221.4" y="217.2" width="1.0" height="1.0" fill-opacity="0.42"/>
<rect x="220.1" y="221.1" width="1.0" height="1.0" fill-opacity="0.42"/>
<rect x="223.5" y="220.4" width="1.0" height="1.0" fill-opacity="0.42"/>
<rect x="221.6" y="227.1" width="1.0" height="1.0" fill-opacity="0.42"/>
<rect x="222.3" y="208.7" width="1.0" height="1.0" fill-opacity="0.42"/>
<rect x="223.6" y="219.0" width="1.0" height="1.0" fill-opacity="0.42"/>
<rect x="221.3" y="228.6" width="1.0" height="1.0" fill-opacity="0.42"/>
<rect x="217.3" y="216.7" width="1.0" height="1.0" fill-opacity="0.42"/>
<rect x="221.6" y="213.3" width="1.0" height="1.0" fill-opacity="0.42"/>
<rect x="219.3" y="236.1" width="1.0" height="1.0" fill-opacity="0.42"/>
<rect x="221.8" y="236.5" width="1.0" height="1.0" fill-opacity="0.42"/>
<rect x="218.6" y="223.8" width="1.0" height="1.0" fill-opacity="0.42"/>
<rect x="220.9" y="240.4" width="1.0" height="1.0" fill-opacity="0.42"/>
<rect x="222.2" y="222.1" width="1.0" height="1.0" fill-opacity="0.42"/>
<rect x="218.8" y="231.1" width="1.0" height="1.0" fill-opacity="0.42"/>
<rect x="220.7" y="224.2" width="1.0" height="1.0" fill-opacity="0.42"/>
<rect x="221.4" y="214.3" width="1.0" height="1.0" fill-opacity="0.42"/>
<rect x="220.9" y="211.6" width="1.0" height="1.0" fill-opacity="0.42"/>
<rect x="219.8" y="215.7" width="1.0" height="1.0" fill-opacity="0.42"/>
<rect x="222.8" y="212.3" width="1.0" height="1.0" fill-opacity="0.42"/>
<rect x="218.3" y="232.0" width="1.0" height="1.0" fill-opacity="0.42"/>
<rect x="221.1" y="220.1" width="1.0" height="1.0" fill-opacity="0.42"/>
<rect x="222.3" y="225.9" width="1.0" height="1.0" fill-opacity="0.42"/>
<rect x="219.8" y="215.5" width="1.0" height="1.0" fill-opacity="0.42"/>
<rect x="221.4" y="239.8" width="1.0" height="1.0" fill-opacity="0.42"/>
<rect x="219.9" y="240.1" width="1.0" height="1.0" fill-opacity="0.42"/>
<rect x="220.7" y="239.9" width="1.0" height="1.0" fill-opacity="0.42"/>
<rect x="221.0" y="221.0" width="1.0" height="1.0" fill-opacity="0.42"/>
<rect x="221.1" y="223.4" width="1.0" height="1.0" fill-opacity="0.42"/>
<rect x="219.9" y="226.3" width="1.0" height="1.0" fill-opacity="0.42"/>
<rect x="221.0" y="227.2" width="1.0" height="1.0" fill-opacity="0.42"/>
<rect x="220.9" y="207.6" width="1.0" height="1.0" fill-opacity="0.42"/>
<rect x="221.7" y="224.0" width="1.0" height="1.0" fill-opacity="0.42"/>
<rect x="222.3" y="210.1" width="1.0" height="1.0" fill-opacity="0.42"/>
<rect x="221.2" y="218.3" width="1.0" height="1.0" fill-opacity="0.42"/>
<rect x="218.4" y="229.6" width="1.0" height="1.0" fill-opacity="0.42"/>
<rect x="220.5" y="231.7" width="1.0" height="1.0" fill-opacity="0.42"/>
<rect x="222.2" y="233.3" width="1.0" height="1.0" fill-opacity="0.42"/>
<rect x="219.9" y="221.6" width="1.0" height="1.0" fill-opacity="0.42"/>
<rect x="222.5" y="240.4" width="1.0" height="1.0" fill-opacity="0.42"/>
<rect x="223.1" y="231.3" width="1.0" height="1.0" fill-opacity="0.42"/>
<rect x="222.7" y="210.2" width="1.0" height="1.0" fill-opacity="0.42"/>
<rect x="218.1" y="230.8" width="1.0" height="1.0" fill-opacity="0.42"/>
<rect x="221.3" y="233.8" width="1.0" height="1.0" fill-opacity="0.42"/>
<rect x="220.2" y="227.8" width="1.0" height="1.0" fill-opacity="0.42"/>
<rect x="222.5" y="227.2" width="1.0" height="1.0" fill-opacity="0.42"/>
<rect x="218.5" y="236.3" width="1.0" height="1.0" fill-opacity="0.42"/>
<rect x="222.9" y="229.6" width="1.0" height="1.0" fill-opacity="0.42"/>
<rect x="219.5" y="232.7" width="1.0" height="1.0" fill-opacity="0.42"/>
<rect x="221.8" y="218.2" width="1.0" height="1.0" fill-opacity="0.42"/>
<rect x="221.2" y="222.7" width="1.0" height="1.0" fill-opacity="0.42"/>
<rect x="222.1" y="213.2" width="1.0" height="1.0" fill-opacity="0.42"/>
<rect x="219.2" y="230.8" width="1.0" height="1.0" fill-opacity="0.42"/>
<rect x="220.2" y="230.8" width="1.0" height="1.0" fill-opacity="0.42"/>
<rect x="219.3" y="207.5" width="1.0" height="1.0" fill-opacity="0.42"/>
<rect x="221.0" y="235.5" width="1.0" height="1.0" fill-opacity="0.42"/>
<rect x="219.1" y="228.1" width="1.0" height="1.0" fill-opacity="0.42"/>
<rect x="223.4" y="231.7" width="1.0" height="1.0" fill-opacity="0.42"/>
<rect x="222.1" y="219.0" width="1.0" height="1.0" fill-opacity="0.42"/>
<rect x="220.7" y="211.8" width="1.0" height="1.0" fill-opacity="0.42"/>
<rect x="223.6" y="217.3" width="1.0" height="1.0" fill-opacity="0.42"/>
<rect x="222.8" y="234.0" width="1.0" height="1.0" fill-opacity="0.42"/>
<rect x="220.7" y="223.4" width="1.0" height="1.0" fill-opacity="0.42"/>
<rect x="219.9" y="226.5" width="1.0" height="1.0" fill-opacity="0.42"/>
<rect x="218.5" y="230.5" width="1.0" height="1.0" fill-opacity="0.42"/>
<rect x="221.8" y="231.3" width="1.0" height="1.0" fill-opacity="0.42"/>
<rect x="221.4" y="219.1" width="1.0" height="1.0" fill-opacity="0.42"/>
<rect x="220.3" y="234.1" width="1.0" height="1.0" fill-opacity="0.42"/>
<rect x="223.0" y="208.3" width="1.0" height="1.0" fill-opacity="0.42"/>
<rect x="220.7" y="211.1" width="1.0" height="1.0" fill-opacity="0.42"/>
<rect x="223.4" y="232.6" width="1.0" height="1.0" fill-opacity="0.42"/>
<rect x="220.5" y="232.2" width="1.0" height="1.0" fill-opacity="0.42"/>
<rect x="222.9" y="226.0" width="1.0" height="1.0" fill-opacity="0.42"/>
<rect x="223.5" y="226.1" width="1.0" height="1.0" fill-opacity="0.42"/>
<rect x="223.3" y="217.1" width="1.0" height="1.0" fill-opacity="0.42"/>
<rect x="221.3" y="240.2" width="1.0" height="1.0" fill-opacity="0.42"/>
<rect x="220.9" y="225.8" width="1.0" height="1.0" fill-opacity="0.42"/>
<rect x="222.7" y="236.1" width="1.0" height="1.0" fill-opacity="0.42"/>
<rect x="220.7" y="219.6" width="1.0" height="1.0" fill-opacity="0.42"/>
<rect x="222.0" y="217.5" width="1.0" height="1.0" fill-opacity="0.42"/>
<rect x="220.6" y="229.5" width="1.0" height="1.0" fill-opacity="0.42"/>
<rect x="217.1" y="214.8" width="1.0" height="1.0" fill-opacity="0.42"/>
<rect x="220.4" y="214.4" width="1.0" height="1.0" fill-opacity="0.42"/>
<rect x="217.7" y="236.1" width="1.0" height="1.0" fill-opacity="0.42"/>
<rect x="220.8" y="233.0" width="1.0" height="1.0" fill-opacity="0.42"/>
<rect x="222.5" y="218.3" width="1.0" height="1.0" fill-opacity="0.42"/>
<rect x="219.9" y="209.1" width="1.0" height="1.0" fill-opacity="0.42"/>
<rect x="219.3" y="207.5" width="1.0" height="1.0" fill-opacity="0.42"/>
<rect x="221.1" y="220.8" width="1.0" height="1.0" fill-opacity="0.42"/>
<rect x="220.2" y="214.8" width="1.0" height="1.0" fill-opacity="0.42"/>
<rect x="222.2" y="236.7" width="1.0" height="1.0" fill-opacity="0.42"/>
<rect x="221.0" y="207.3" width="1.0" height="1.0" fill-opacity="0.42"/>
<rect x="217.9" y="213.9" width="1.0" height="1.0" fill-opacity="0.42"/>
<rect x="220.2" y="238.9" width="1.0" height="1.0" fill-opacity="0.42"/>
<rect x="217.6" y="220.4" width="1.0" height="1.0" fill-opacity="0.42"/>
<rect x="216.4" y="223.1" width="1.0" height="1.0" fill-opacity="0.42"/>
<rect x="224.7" y="229.7" width="1.0" height="1.0" fill-opacity="0.42"/>
<rect x="219.8" y="222.7" width="1.0" height="1.0" fill-opacity="0.42"/>
<rect x="221.6" y="210.5" width="1.0" height="1.0" fill-opacity="0.42"/>
<rect x="221.7" y="213.1" width="1.0" height="1.0" fill-opacity="0.42"/>
<rect x="219.9" y="239.2" width="1.0" height="1.0" fill-opacity="0.42"/>
<rect x="220.8" y="218.9" width="1.0" height="1.0" fill-opacity="0.42"/>
<rect x="222.9" y="216.7" width="1.0" height="1.0" fill-opacity="0.42"/>
<rect x="224.2" y="223.1" width="1.0" height="1.0" fill-opacity="0.42"/>
<rect x="220.1" y="235.9" width="1.0" height="1.0" fill-opacity="0.42"/>
<rect x="224.3" y="230.9" width="1.0" height="1.0" fill-opacity="0.42"/>
<rect x="219.0" y="228.6" width="1.0" height="1.0" fill-opacity="0.42"/>
<rect x="223.5" y="233.4" width="1.0" height="1.0" fill-opacity="0.42"/>
<rect x="221.8" y="225.6" width="1.0" height="1.0" fill-opacity="0.42"/>
<rect x="220.2" y="234.3" width="1.0" height="1.0" fill-opacity="0.42"/>
<rect x="220.0" y="210.5" width="1.0" height="1.0" fill-opacity="0.42"/>
<rect x="222.3" y="238.9" width="1.0" height="1.0" fill-opacity="0.42"/>
<rect x="222.3" y="222.2" width="1.0" height="1.0" fill-opacity="0.42"/>
<rect x="220.7" y="220.6" width="1.0" height="1.0" fill-opacity="0.42"/>
<rect x="216.6" y="219.3" width="1.0" height="1.0" fill-opacity="0.42"/>
<rect x="220.4" y="231.6" width="1.0" height="1.0" fill-opacity="0.42"/>
<rect x="222.9" y="223.8" width="1.0" height="1.0" fill-opacity="0.42"/>
<rect x="221.6" y="215.8" width="1.0" height="1.0" fill-opacity="0.42"/>
<rect x="221.9" y="238.4" width="1.0" height="1.0" fill-opacity="0.42"/>
<rect x="221.7" y="227.0" width="1.0" height="1.0" fill-opacity="0.42"/>
<rect x="224.4" y="240.7" width="1.0" height="1.0" fill-opacity="0.42"/>
<rect x="221.7" y="225.6" width="1.0" height="1.0" fill-opacity="0.42"/>
<rect x="221.8" y="212.6" width="1.0" height="1.0" fill-opacity="0.42"/>
<rect x="222.0" y="222.1" width="1.0" height="1.0" fill-opacity="0.42"/>
<rect x="221.6" y="219.2" width="1.0" height="1.0" fill-opacity="0.42"/>
<rect x="223.0" y="229.2" width="1.0" height="1.0" fill-opacity="0.42"/>
<rect x="219.3" y="224.4" width="1.0" height="1.0" fill-opacity="0.42"/>
<rect x="219.5" y="224.4" width="1.0" height="1.0" fill-opacity="0.42"/>
<rect x="220.8" y="222.0" width="1.0" height="1.0" fill-opacity="0.42"/>
<rect x="220.3" y="211.2" width="1.0" height="1.0" fill-opacity="0.42"/>
<rect x="225.1" y="214.1" width="1.0" height="1.0" fill-opacity="0.42"/>
<rect x="218.8" y="227.2" width="1.0" height="1.0" fill-opacity="0.42"/>
<rect x="218.7" y="217.7" width="1.0" height="1.0" fill-opacity="0.42"/>
<rect x="221.0" y="219.7" width="1.0" height="1.0" fill-opacity="0.42"/>
<rect x="222.6" y="225.4" width="1.0" height="1.0" fill-opacity="0.42"/>
<rect x="222.9" y="239.6" width="1.0" height="1.0" fill-opacity="0.42"/>
<rect x="218.4" y="208.9" width="1.0" height="1.0" fill-opacity="0.42"/>
<rect x="220.1" y="209.6" width="1.0" height="1.0" fill-opacity="0.42"/>
<rect x="217.7" y="226.3" width="1.0" height="1.0" fill-opacity="0.42"/>
<rect x="222.6" y="229.7" width="1.0" height="1.0" fill-opacity="0.42"/>
<rect x="221.0" y="238.9" width="1.0" height="1.0" fill-opacity="0.42"/>
<rect x="223.6" y="236.3" width="1.0" height="1.0" fill-opacity="0.42"/>
<rect x="217.6" y="218.9" width="1.0" height="1.0" fill-opacity="0.42"/>
<rect x="222.1" y="213.4" width="1.0" height="1.0" fill-opacity="0.42"/>
<rect x="222.6" y="232.4" width="1.0" height="1.0" fill-opacity="0.42"/>
<rect x="220.6" y="239.3" width="1.0" height="1.0" fill-opacity="0.42"/>
<rect x="218.7" y="234.6" width="1.0" height="1.0" fill-opacity="0.42"/>
<rect x="220.6" y="225.8" width="1.0" height="1.0" fill-opacity="0.42"/>
<rect x="220.9" y="235.1" width="1.0" height="1.0" fill-opacity="0.42"/>
<rect x="223.0" y="218.3" width="1.0" height="1.0" fill-opacity="0.42"/>
<rect x="219.9" y="220.8" width="1.0" height="1.0" fill-opacity="0.42"/>
<rect x="221.0" y="214.2" width="1.0" height="1.0" fill-opacity="0.42"/>
<rect x="223.3" y="232.8" width="1.0" height="1.0" fill-opacity="0.42"/>
<rect x="222.8" y="213.5" width="1.0" height="1.0" fill-opacity="0.42"/>
<rect x="221.8" y="229.5" width="1.0" height="1.0" fill-opacity="0.42"/>
<rect x="221.4" y="223.6" width="1.0" height="1.0" fill-opacity="0.42"/>
<rect x="223.1" y="208.1" width="1.0" height="1.0" fill-opacity="0.42"/>
<rect x="215.0" y="218.2" width="1.0" height="1.0" fill-opacity="0.3"/>
<rect x="222.8" y="230.3" width="1.0" height="1.0" fill-opacity="0.3"/>
<rect x="218.7" y="237.5" width="1.0" height="1.0" fill-opacity="0.3"/>
<rect x="221.3" y="216.0" width="1.0" height="1.0" fill-opacity="0.3"/>
<rect x="220.2" y="239.7" width="1.0" height="1.0" fill-opacity="0.3"/>
<rect x="219.4" y="203.7" width="1.0" height="1.0" fill-opacity="0.3"/>
<rect x="219.7" y="225.4" width="1.0" height="1.0" fill-opacity="0.3"/>
<rect x="218.8" y="216.4" width="1.0" height="1.0" fill-opacity="0.3"/>
<rect x="222.9" y="231.0" width="1.0" height="1.0" fill-opacity="0.3"/>
<rect x="220.4" y="204.7" width="1.0" height="1.0" fill-opacity="0.3"/>
<rect x="217.7" y="219.6" width="1.0" height="1.0" fill-opacity="0.3"/>
<rect x="222.7" y="213.8" width="1.0" height="1.0" fill-opacity="0.3"/>
<rect x="220.8" y="235.0" width="1.0" height="1.0" fill-opacity="0.3"/>
<rect x="218.3" y="214.1" width="1.0" height="1.0" fill-opacity="0.3"/>
<rect x="218.7" y="240.0" width="1.0" height="1.0" fill-opacity="0.3"/>
<rect x="225.0" y="215.3" width="1.0" height="1.0" fill-opacity="0.3"/>
<rect x="221.1" y="214.9" width="1.0" height="1.0" fill-opacity="0.3"/>
<rect x="218.3" y="239.5" width="1.0" height="1.0" fill-opacity="0.3"/>
<rect x="221.7" y="225.4" width="1.0" height="1.0" fill-opacity="0.3"/>
<rect x="222.7" y="222.6" width="1.0" height="1.0" fill-opacity="0.3"/>
<rect x="222.6" y="230.9" width="1.0" height="1.0" fill-opacity="0.3"/>
<rect x="220.5" y="221.7" width="1.0" height="1.0" fill-opacity="0.3"/>
<rect x="222.3" y="214.5" width="1.0" height="1.0" fill-opacity="0.3"/>
<rect x="220.8" y="206.0" width="1.0" height="1.0" fill-opacity="0.3"/>
<rect x="217.6" y="206.6" width="1.0" height="1.0" fill-opacity="0.3"/>
<rect x="225.2" y="237.5" width="1.0" height="1.0" fill-opacity="0.3"/>
<rect x="228.0" y="233.0" width="1.0" height="1.0" fill-opacity="0.3"/>
<rect x="220.9" y="219.3" width="1.0" height="1.0" fill-opacity="0.3"/>
<rect x="224.5" y="213.2" width="1.0" height="1.0" fill-opacity="0.3"/>
<rect x="219.7" y="204.6" width="1.0" height="1.0" fill-opacity="0.3"/>
<rect x="218.9" y="230.9" width="1.0" height="1.0" fill-opacity="0.3"/>
<rect x="222.7" y="219.4" width="1.0" height="1.0" fill-opacity="0.3"/>
<rect x="222.8" y="212.5" width="1.0" height="1.0" fill-opacity="0.3"/>
<rect x="221.0" y="220.1" width="1.0" height="1.0" fill-opacity="0.3"/>
<rect x="227.0" y="239.6" width="1.0" height="1.0" fill-opacity="0.3"/>
<rect x="225.2" y="214.2" width="1.0" height="1.0" fill-opacity="0.3"/>
<rect x="223.0" y="220.3" width="1.0" height="1.0" fill-opacity="0.3"/>
<rect x="216.6" y="223.1" width="1.0" height="1.0" fill-opacity="0.3"/>
<rect x="219.1" y="205.8" width="1.0" height="1.0" fill-opacity="0.3"/>
<rect x="221.5" y="238.5" width="1.0" height="1.0" fill-opacity="0.3"/>
<rect x="217.8" y="213.6" width="1.0" height="1.0" fill-opacity="0.3"/>
<rect x="224.1" y="204.4" width="1.0" height="1.0" fill-opacity="0.3"/>
<rect x="222.7" y="222.4" width="1.0" height="1.0" fill-opacity="0.3"/>
<rect x="217.9" y="205.2" width="1.0" height="1.0" fill-opacity="0.3"/>
<rect x="225.1" y="204.8" width="1.0" height="1.0" fill-opacity="0.3"/>
<rect x="223.1" y="216.4" width="1.0" height="1.0" fill-opacity="0.3"/>
<rect x="223.2" y="233.5" width="1.0" height="1.0" fill-opacity="0.3"/>
<rect x="219.7" y="217.0" width="1.0" height="1.0" fill-opacity="0.3"/>
<rect x="219.1" y="239.6" width="1.0" height="1.0" fill-opacity="0.3"/>
<rect x="219.4" y="232.5" width="1.0" height="1.0" fill-opacity="0.3"/>
<rect x="221.0" y="218.8" width="1.0" height="1.0" fill-opacity="0.3"/>
<rect x="221.3" y="233.7" width="1.0" height="1.0" fill-opacity="0.3"/>
<rect x="215.9" y="238.4" width="1.0" height="1.0" fill-opacity="0.3"/>
<rect x="217.6" y="203.9" width="1.0" height="1.0" fill-opacity="0.3"/>
<rect x="215.2" y="215.4" width="1.0" height="1.0" fill-opacity="0.3"/>
<rect x="222.3" y="239.5" width="1.0" height="1.0" fill-opacity="0.3"/>
<rect x="221.0" y="221.5" width="1.0" height="1.0" fill-opacity="0.3"/>
<rect x="223.9" y="225.3" width="1.0" height="1.0" fill-opacity="0.3"/>
<rect x="223.4" y="238.8" width="1.0" height="1.0" fill-opacity="0.3"/>
<rect x="226.0" y="233.2" width="1.0" height="1.0" fill-opacity="0.3"/>
<rect x="221.6" y="235.7" width="1.0" height="1.0" fill-opacity="0.3"/>
<rect x="217.6" y="219.2" width="1.0" height="1.0" fill-opacity="0.3"/>
<rect x="218.2" y="218.9" width="1.0" height="1.0" fill-opacity="0.3"/>
<rect x="223.8" y="207.7" width="1.0" height="1.0" fill-opacity="0.3"/>
<rect x="221.0" y="213.8" width="1.0" height="1.0" fill-opacity="0.3"/>
<rect x="219.5" y="206.9" width="1.0" height="1.0" fill-opacity="0.3"/>
<rect x="219.4" y="204.7" width="1.0" height="1.0" fill-opacity="0.3"/>
<rect x="220.1" y="240.2" width="1.0" height="1.0" fill-opacity="0.3"/>
<rect x="223.5" y="237.5" width="1.0" height="1.0" fill-opacity="0.3"/>
<rect x="220.9" y="208.0" width="1.0" height="1.0" fill-opacity="0.3"/>
<rect x="217.7" y="208.7" width="1.0" height="1.0" fill-opacity="0.3"/>
<rect x="221.0" y="223.7" width="1.0" height="1.0" fill-opacity="0.3"/>
<rect x="218.2" y="215.4" width="1.0" height="1.0" fill-opacity="0.3"/>
<rect x="223.0" y="231.2" width="1.0" height="1.0" fill-opacity="0.3"/>
<rect x="223.6" y="233.5" width="1.0" height="1.0" fill-opacity="0.3"/>
<rect x="218.4" y="210.1" width="1.0" height="1.0" fill-opacity="0.3"/>
<rect x="219.9" y="236.3" width="1.0" height="1.0" fill-opacity="0.3"/>
<rect x="224.2" y="221.0" width="1.0" height="1.0" fill-opacity="0.3"/>
<rect x="221.7" y="233.2" width="1.0" height="1.0" fill-opacity="0.3"/>
<rect x="222.7" y="215.9" width="1.0" height="1.0" fill-opacity="0.3"/>
<rect x="223.2" y="211.7" width="1.0" height="1.0" fill-opacity="0.3"/>
<rect x="218.8" y="219.2" width="1.0" height="1.0" fill-opacity="0.3"/>
<rect x="224.1" y="221.8" width="1.0" height="1.0" fill-opacity="0.3"/>
<rect x="220.9" y="215.3" width="1.0" height="1.0" fill-opacity="0.3"/>
<rect x="215.6" y="235.3" width="1.0" height="1.0" fill-opacity="0.3"/>
<rect x="215.7" y="209.1" width="1.0" height="1.0" fill-opacity="0.3"/>
<rect x="223.2" y="224.6" width="1.0" height="1.0" fill-opacity="0.3"/>
<rect x="215.4" y="238.4" width="1.0" height="1.0" fill-opacity="0.3"/>
<rect x="220.7" y="205.2" width="1.0" height="1.0" fill-opacity="0.3"/>
<rect x="222.1" y="213.4" width="1.0" height="1.0" fill-opacity="0.3"/>
<rect x="214.5" y="240.0" width="1.0" height="1.0" fill-opacity="0.3"/>
<rect x="218.1" y="220.9" width="1.0" height="1.0" fill-opacity="0.3"/>
<rect x="218.7" y="237.0" width="1.0" height="1.0" fill-opacity="0.3"/>
<rect x="221.7" y="234.4" width="1.0" height="1.0" fill-opacity="0.3"/>
<rect x="224.4" y="239.3" width="1.0" height="1.0" fill-opacity="0.3"/>
<rect x="223.4" y="229.5" width="1.0" height="1.0" fill-opacity="0.3"/>
<rect x="220.1" y="214.7" width="1.0" height="1.0" fill-opacity="0.3"/>
<rect x="221.9" y="214.1" width="1.0" height="1.0" fill-opacity="0.3"/>
<rect x="218.2" y="216.3" width="1.0" height="1.0" fill-opacity="0.3"/>
<rect x="219.0" y="214.1" width="1.0" height="1.0" fill-opacity="0.3"/>
<rect x="219.7" y="202.7" width="1.0" height="1.0" fill-opacity="0.3"/>
<rect x="224.0" y="213.2" width="1.0" height="1.0" fill-opacity="0.3"/>
<rect x="222.3" y="218.6" width="1.0" height="1.0" fill-opacity="0.3"/>
<rect x="225.8" y="227.1" width="1.0" height="1.0" fill-opacity="0.3"/>
<rect x="222.6" y="206.8" width="1.0" height="1.0" fill-opacity="0.3"/>
<rect x="222.7" y="227.2" width="1.0" height="1.0" fill-opacity="0.3"/>
<rect x="222.5" y="230.1" width="1.0" height="1.0" fill-opacity="0.3"/>
<rect x="222.0" y="231.9" width="1.0" height="1.0" fill-opacity="0.3"/>
<rect x="220.5" y="222.3" width="1.0" height="1.0" fill-opacity="0.3"/>
<rect x="223.7" y="239.5" width="1.0" height="1.0" fill-opacity="0.3"/>
<rect x="218.9" y="218.6" width="1.0" height="1.0" fill-opacity="0.3"/>
<rect x="220.0" y="222.6" width="1.0" height="1.0" fill-opacity="0.3"/>
<rect x="224.0" y="236.9" width="1.0" height="1.0" fill-opacity="0.3"/>
<rect x="221.0" y="213.8" width="1.0" height="1.0" fill-opacity="0.3"/>
<rect x="221.1" y="232.9" width="1.0" height="1.0" fill-opacity="0.3"/>
<rect x="221.3" y="238.0" width="1.0" height="1.0" fill-opacity="0.3"/>
<rect x="222.1" y="222.8" width="1.0" height="1.0" fill-opacity="0.3"/>
<rect x="218.1" y="237.5" width="1.0" height="1.0" fill-opacity="0.3"/>
<rect x="221.2" y="224.1" width="1.0" height="1.0" fill-opacity="0.3"/>
<rect x="221.4" y="227.2" width="1.0" height="1.0" fill-opacity="0.3"/>
<rect x="222.1" y="230.1" width="1.0" height="1.0" fill-opacity="0.3"/>
<rect x="220.3" y="229.6" width="1.0" height="1.0" fill-opacity="0.3"/>
<rect x="219.6" y="220.9" width="1.0" height="1.0" fill-opacity="0.3"/>
<rect x="221.0" y="217.5" width="1.0" height="1.0" fill-opacity="0.3"/>
<rect x="222.2" y="226.2" width="1.0" height="1.0" fill-opacity="0.3"/>
<rect x="220.4" y="225.2" width="1.0" height="1.0" fill-opacity="0.3"/>
<rect x="223.0" y="235.2" width="1.0" height="1.0" fill-opacity="0.3"/>
<rect x="220.7" y="210.4" width="1.0" height="1.0" fill-opacity="0.3"/>
<rect x="224.7" y="239.2" width="1.0" height="1.0" fill-opacity="0.3"/>
<rect x="220.6" y="206.1" width="1.0" height="1.0" fill-opacity="0.3"/>
<rect x="215.7" y="238.7" width="1.0" height="1.0" fill-opacity="0.3"/>
<rect x="225.0" y="229.5" width="1.0" height="1.0" fill-opacity="0.3"/>
<rect x="223.9" y="235.8" width="1.0" height="1.0" fill-opacity="0.3"/>
<rect x="224.5" y="214.9" width="1.0" height="1.0" fill-opacity="0.3"/>
<rect x="223.8" y="222.1" width="1.0" height="1.0" fill-opacity="0.3"/>
<rect x="217.5" y="213.1" width="1.0" height="1.0" fill-opacity="0.3"/>
<rect x="218.7" y="214.7" width="1.0" height="1.0" fill-opacity="0.3"/>
<rect x="222.8" y="221.4" width="1.0" height="1.0" fill-opacity="0.3"/>
<rect x="221.1" y="210.2" width="1.0" height="1.0" fill-opacity="0.3"/>
<rect x="226.1" y="237.9" width="1.0" height="1.0" fill-opacity="0.3"/>
<rect x="217.9" y="205.3" width="1.0" height="1.0" fill-opacity="0.3"/>
<rect x="219.7" y="205.0" width="1.0" height="1.0" fill-opacity="0.3"/>
<rect x="224.1" y="236.2" width="1.0" height="1.0" fill-opacity="0.3"/>
<rect x="223.5" y="227.2" width="1.0" height="1.0" fill-opacity="0.3"/>
<rect x="220.0" y="229.7" width="1.0" height="1.0" fill-opacity="0.3"/>
<rect x="223.8" y="228.3" width="1.0" height="1.0" fill-opacity="0.3"/>
<rect x="219.4" y="222.9" width="1.0" height="1.0" fill-opacity="0.3"/>
<rect x="218.6" y="223.3" width="1.0" height="1.0" fill-opacity="0.3"/>
<rect x="219.4" y="203.9" width="1.0" height="1.0" fill-opacity="0.3"/>
<rect x="219.1" y="215.5" width="1.0" height="1.0" fill-opacity="0.3"/>
<rect x="221.6" y="234.0" width="1.0" height="1.0" fill-opacity="0.3"/>
<rect x="218.5" y="213.0" width="1.0" height="1.0" fill-opacity="0.3"/>
<rect x="222.1" y="224.6" width="1.0" height="1.0" fill-opacity="0.3"/>
<rect x="221.9" y="223.1" width="1.0" height="1.0" fill-opacity="0.3"/>
<rect x="218.7" y="208.5" width="1.0" height="1.0" fill-opacity="0.3"/>
<rect x="221.8" y="205.2" width="1.0" height="1.0" fill-opacity="0.3"/>
<rect x="225.1" y="230.0" width="1.0" height="1.0" fill-opacity="0.3"/>
<rect x="223.5" y="234.4" width="1.0" height="1.0" fill-opacity="0.3"/>
<rect x="224.1" y="225.9" width="1.0" height="1.0" fill-opacity="0.3"/>
<rect x="222.0" y="221.1" width="1.0" height="1.0" fill-opacity="0.3"/>
<rect x="225.2" y="239.4" width="1.0" height="1.0" fill-opacity="0.3"/>
<rect x="225.9" y="240.7" width="1.0" height="1.0" fill-opacity="0.3"/>
<rect x="221.8" y="233.0" width="1.0" height="1.0" fill-opacity="0.3"/>
<rect x="219.0" y="240.3" width="1.0" height="1.0" fill-opacity="0.3"/>
<rect x="226.8" y="225.2" width="1.0" height="1.0" fill-opacity="0.3"/>
<rect x="219.7" y="212.3" width="1.0" height="1.0" fill-opacity="0.3"/>
<rect x="222.0" y="234.7" width="1.0" height="1.0" fill-opacity="0.3"/>
<rect x="220.6" y="220.1" width="1.0" height="1.0" fill-opacity="0.3"/>
<rect x="224.5" y="233.7" width="1.0" height="1.0" fill-opacity="0.3"/>
<rect x="225.3" y="217.1" width="1.0" height="1.0" fill-opacity="0.3"/>
<rect x="223.3" y="235.5" width="1.0" height="1.0" fill-opacity="0.3"/>
<rect x="224.0" y="238.5" width="1.0" height="1.0" fill-opacity="0.3"/>
<rect x="220.8" y="214.3" width="1.0" height="1.0" fill-opacity="0.3"/>
<rect x="223.9" y="218.9" width="1.0" height="1.0" fill-opacity="0.3"/>
<rect x="221.5" y="204.9" width="1.0" height="1.0" fill-opacity="0.3"/>
<rect x="222.7" y="239.0" width="1.0" height="1.0" fill-opacity="0.3"/>
<rect x="222.4" y="231.4" width="1.0" height="1.0" fill-opacity="0.3"/>
<rect x="219.9" y="234.6" width="1.0" height="1.0" fill-opacity="0.3"/>
<rect x="218.0" y="209.8" width="1.0" height="1.0" fill-opacity="0.3"/>
<rect x="220.3" y="220.5" width="1.0" height="1.0" fill-opacity="0.3"/>
<rect x="217.1" y="237.2" width="1.0" height="1.0" fill-opacity="0.3"/>
<rect x="219.6" y="237.5" width="1.0" height="1.0" fill-opacity="0.3"/>
<rect x="224.0" y="209.2" width="1.0" height="1.0" fill-opacity="0.3"/>
<rect x="220.8" y="221.7" width="1.0" height="1.0" fill-opacity="0.3"/>
<rect x="220.1" y="235.0" width="1.0" height="1.0" fill-opacity="0.3"/>
<rect x="229.6" y="228.1" width="1.0" height="1.0" fill-opacity="0.3"/>
<rect x="221.3" y="220.5" width="1.0" height="1.0" fill-opacity="0.3"/>
<rect x="218.6" y="212.8" width="1.0" height="1.0" fill-opacity="0.3"/>
<rect x="226.3" y="233.3" width="1.0" height="1.0" fill-opacity="0.3"/>
<rect x="222.3" y="216.2" width="1.0" height="1.0" fill-opacity="0.3"/>
<rect x="224.8" y="230.1" width="1.0" height="1.0" fill-opacity="0.3"/>
<rect x="220.6" y="230.9" width="1.0" height="1.0" fill-opacity="0.3"/>
<rect x="221.6" y="218.6" width="1.0" height="1.0" fill-opacity="0.3"/>
<rect x="221.0" y="211.5" width="1.0" height="1.0" fill-opacity="0.3"/>
<rect x="217.9" y="229.4" width="1.0" height="1.0" fill-opacity="0.3"/>
<rect x="222.6" y="237.8" width="1.0" height="1.0" fill-opacity="0.3"/>
<rect x="221.5" y="210.6" width="1.0" height="1.0" fill-opacity="0.3"/>
<rect x="223.8" y="203.8" width="1.0" height="1.0" fill-opacity="0.3"/>
<rect x="220.5" y="201.6" width="1.0" height="1.0" fill-opacity="0.3"/>
<rect x="222.0" y="220.4" width="1.0" height="1.0" fill-opacity="0.3"/>
<rect x="237.5" y="198.0" width="1.0" height="1.0" fill-opacity="0.6"/>
<rect x="234.8" y="197.1" width="1.0" height="1.0" fill-opacity="0.6"/>
<rect x="234.1" y="196.8" width="1.0" height="1.0" fill-opacity="0.6"/>
<rect x="240.4" y="197.0" width="1.0" height="1.0" fill-opacity="0.6"/>
<rect x="236.6" y="197.4" width="1.0" height="1.0" fill-opacity="0.6"/>
<rect x="239.0" y="196.4" width="1.0" height="1.0" fill-opacity="0.6"/>
<rect x="237.8" y="194.0" width="1.0" height="1.0" fill-opacity="0.6"/>
<rect x="235.2" y="198.0" width="1.0" height="1.0" fill-opacity="0.6"/>
<rect x="239.1" y="195.3" width="1.0" height="1.0" fill-opacity="0.6"/>
<rect x="234.3" y="197.4" width="1.0" height="1.0" fill-opacity="0.6"/>
<rect x="234.3" y="196.6" width="1.0" height="1.0" fill-opacity="0.6"/>
<rect x="238.8" y="194.4" width="1.0" height="1.0" fill-opacity="0.6"/>
<rect x="237.6" y="199.2" width="1.0" height="1.0" fill-opacity="0.6"/>
<rect x="238.8" y="195.8" width="1.0" height="1.0" fill-opacity="0.6"/>
<rect x="235.3" y="198.0" width="1.0" height="1.0" fill-opacity="0.6"/>
<rect x="239.8" y="195.6" width="1.0" height="1.0" fill-opacity="0.6"/>
<rect x="238.8" y="195.5" width="1.0" height="1.0" fill-opacity="0.6"/>
<rect x="237.1" y="196.0" width="1.0" height="1.0" fill-opacity="0.6"/>
<rect x="237.9" y="197.8" width="1.0" height="1.0" fill-opacity="0.6"/>
<rect x="233.3" y="198.4" width="1.0" height="1.0" fill-opacity="0.6"/>
<rect x="236.3" y="195.9" width="1.0" height="1.0" fill-opacity="0.6"/>
<rect x="236.1" y="198.0" width="1.0" height="1.0" fill-opacity="0.6"/>
<rect x="240.6" y="195.2" width="1.0" height="1.0" fill-opacity="0.6"/>
<rect x="235.8" y="194.7" width="1.0" height="1.0" fill-opacity="0.6"/>
<rect x="240.1" y="194.7" width="1.0" height="1.0" fill-opacity="0.6"/>
<rect x="235.4" y="195.6" width="1.0" height="1.0" fill-opacity="0.6"/>
<rect x="235.4" y="195.6" width="1.0" height="1.0" fill-opacity="0.6"/>
<rect x="236.6" y="197.2" width="1.0" height="1.0" fill-opacity="0.6"/>
<rect x="236.4" y="197.1" width="1.0" height="1.0" fill-opacity="0.6"/>
<rect x="235.4" y="199.4" width="1.0" height="1.0" fill-opacity="0.6"/>
<rect x="233.7" y="195.5" width="1.0" height="1.0" fill-opacity="0.6"/>
<rect x="235.3" y="196.2" width="1.0" height="1.0" fill-opacity="0.6"/>
<rect x="234.0" y="197.6" width="1.0" height="1.0" fill-opacity="0.6"/>
<rect x="236.0" y="195.1" width="1.0" height="1.0" fill-opacity="0.6"/>
<rect x="236.9" y="198.6" width="1.0" height="1.0" fill-opacity="0.6"/>
<rect x="237.5" y="195.8" width="1.0" height="1.0" fill-opacity="0.6"/>
<rect x="236.4" y="196.5" width="1.0" height="1.0" fill-opacity="0.6"/>
<rect x="236.6" y="197.7" width="1.0" height="1.0" fill-opacity="0.6"/>
<rect x="234.5" y="194.2" width="1.0" height="1.0" fill-opacity="0.6"/>
<rect x="235.6" y="195.8" width="1.0" height="1.0" fill-opacity="0.6"/>
<rect x="237.1" y="195.4" width="1.0" height="1.0" fill-opacity="0.6"/>
<rect x="237.9" y="199.1" width="1.0" height="1.0" fill-opacity="0.6"/>
<rect x="233.4" y="196.7" width="1.0" height="1.0" fill-opacity="0.6"/>
<rect x="231.9" y="195.7" width="1.0" height="1.0" fill-opacity="0.6"/>
<rect x="232.7" y="199.4" width="1.0" height="1.0" fill-opacity="0.6"/>
<rect x="233.7" y="195.4" width="1.0" height="1.0" fill-opacity="0.6"/>
<rect x="233.7" y="199.2" width="1.0" height="1.0" fill-opacity="0.6"/>
<rect x="234.4" y="197.3" width="1.0" height="1.0" fill-opacity="0.6"/>
<rect x="237.7" y="197.9" width="1.0" height="1.0" fill-opacity="0.6"/>
<rect x="240.7" y="195.7" width="1.0" height="1.0" fill-opacity="0.6"/>
<rect x="236.6" y="196.8" width="1.0" height="1.0" fill-opacity="0.6"/>
<rect x="240.7" y="196.3" width="1.0" height="1.0" fill-opacity="0.6"/>
<rect x="235.9" y="197.7" width="1.0" height="1.0" fill-opacity="0.6"/>
<rect x="236.8" y="196.5" width="1.0" height="1.0" fill-opacity="0.6"/>
<rect x="234.3" y="195.9" width="1.0" height="1.0" fill-opacity="0.6"/>
<rect x="234.1" y="195.7" width="1.0" height="1.0" fill-opacity="0.6"/>
<rect x="239.0" y="196.0" width="1.0" height="1.0" fill-opacity="0.6"/>
<rect x="234.7" y="199.7" width="1.0" height="1.0" fill-opacity="0.6"/>
<rect x="236.7" y="193.6" width="1.0" height="1.0" fill-opacity="0.6"/>
<rect x="240.4" y="195.6" width="1.0" height="1.0" fill-opacity="0.6"/>
<rect x="239.5" y="193.0" width="1.0" height="1.0" fill-opacity="0.6"/>
<rect x="237.5" y="196.7" width="1.0" height="1.0" fill-opacity="0.6"/>
<rect x="236.7" y="196.8" width="1.0" height="1.0" fill-opacity="0.6"/>
<rect x="237.3" y="193.9" width="1.0" height="1.0" fill-opacity="0.6"/>
<rect x="232.8" y="196.7" width="1.0" height="1.0" fill-opacity="0.6"/>
<rect x="234.7" y="196.8" width="1.0" height="1.0" fill-opacity="0.6"/>
<rect x="237.1" y="196.7" width="1.0" height="1.0" fill-opacity="0.6"/>
<rect x="235.8" y="196.0" width="1.0" height="1.0" fill-opacity="0.6"/>
<rect x="235.9" y="198.4" width="1.0" height="1.0" fill-opacity="0.6"/>
<rect x="237.8" y="196.0" width="1.0" height="1.0" fill-opacity="0.6"/>
<rect x="236.6" y="198.9" width="1.0" height="1.0" fill-opacity="0.6"/>
<rect x="235.4" y="198.2" width="1.0" height="1.0" fill-opacity="0.6"/>
<rect x="238.3" y="195.2" width="1.0" height="1.0" fill-opacity="0.6"/>
<rect x="237.1" y="194.6" width="1.0" height="1.0" fill-opacity="0.6"/>
<rect x="238.3" y="195.9" width="1.0" height="1.0" fill-opacity="0.6"/>
<rect x="233.5" y="199.4" width="1.0" height="1.0" fill-opacity="0.6"/>
<rect x="235.3" y="199.3" width="1.0" height="1.0" fill-opacity="0.6"/>
<rect x="234.7" y="197.4" width="1.0" height="1.0" fill-opacity="0.6"/>
<rect x="236.5" y="196.1" width="1.0" height="1.0" fill-opacity="0.6"/>
<rect x="236.4" y="195.9" width="1.0" height="1.0" fill-opacity="0.6"/>
<rect x="237.5" y="196.0" width="1.0" height="1.0" fill-opacity="0.6"/>
<rect x="234.8" y="193.5" width="1.0" height="1.0" fill-opacity="0.6"/>
<rect x="238.5" y="195.5" width="1.0" height="1.0" fill-opacity="0.6"/>
<rect x="232.7" y="199.0" width="1.0" height="1.0" fill-opacity="0.6"/>
<rect x="237.8" y="197.5" width="1.0" height="1.0" fill-opacity="0.6"/>
<rect x="235.1" y="199.8" width="1.0" height="1.0" fill-opacity="0.6"/>
<rect x="237.4" y="199.7" width="1.0" height="1.0" fill-opacity="0.6"/>
<rect x="236.4" y="197.7" width="1.0" height="1.0" fill-opacity="0.6"/>
<rect x="234.7" y="196.0" width="1.0" height="1.0" fill-opacity="0.6"/>
<rect x="239.0" y="196.6" width="1.0" height="1.0" fill-opacity="0.6"/>
<rect x="239.8" y="196.0" width="1.0" height="1.0" fill-opacity="0.6"/>
<rect x="234.0" y="195.6" width="1.0" height="1.0" fill-opacity="0.6"/>
<rect x="234.5" y="196.8" width="1.0" height="1.0" fill-opacity="0.6"/>
<rect x="235.0" y="198.4" width="1.0" height="1.0" fill-opacity="0.6"/>
<rect x="236.7" y="196.1" width="1.0" height="1.0" fill-opacity="0.6"/>
<rect x="236.4" y="196.4" width="1.0" height="1.0" fill-opacity="0.6"/>
<rect x="237.1" y="197.4" width="1.0" height="1.0" fill-opacity="0.6"/>
<rect x="237.7" y="194.9" width="1.0" height="1.0" fill-opacity="0.6"/>
<rect x="234.1" y="200.1" width="1.0" height="1.0" fill-opacity="0.6"/>
<rect x="237.1" y="197.9" width="1.0" height="1.0" fill-opacity="0.6"/>
<rect x="232.7" y="198.3" width="1.0" height="1.0" fill-opacity="0.6"/>
<rect x="235.3" y="195.2" width="1.0" height="1.0" fill-opacity="0.6"/>
<rect x="235.7" y="198.2" width="1.0" height="1.0" fill-opacity="0.6"/>
<rect x="239.4" y="197.3" width="1.0" height="1.0" fill-opacity="0.6"/>
<rect x="233.6" y="196.2" width="1.0" height="1.0" fill-opacity="0.6"/>
<rect x="237.8" y="197.3" width="1.0" height="1.0" fill-opacity="0.6"/>
<rect x="235.7" y="195.1" width="1.0" height="1.0" fill-opacity="0.6"/>
<rect x="238.3" y="196.8" width="1.0" height="1.0" fill-opacity="0.6"/>
<rect x="237.0" y="195.6" width="1.0" height="1.0" fill-opacity="0.6"/>
<rect x="237.3" y="197.3" width="1.0" height="1.0" fill-opacity="0.6"/>
<rect x="233.9" y="195.4" width="1.0" height="1.0" fill-opacity="0.6"/>
<rect x="237.2" y="197.0" width="1.0" height="1.0" fill-opacity="0.6"/>
<rect x="236.8" y="197.8" width="1.0" height="1.0" fill-opacity="0.6"/>
<rect x="235.0" y="197.4" width="1.0" height="1.0" fill-opacity="0.6"/>
<rect x="236.0" y="197.8" width="1.0" height="1.0" fill-opacity="0.6"/>
<rect x="239.2" y="194.7" width="1.0" height="1.0" fill-opacity="0.6"/>
<rect x="241.3" y="196.1" width="1.0" height="1.0" fill-opacity="0.6"/>
<rect x="238.1" y="196.5" width="1.0" height="1.0" fill-opacity="0.6"/>
<rect x="239.6" y="194.6" width="1.0" height="1.0" fill-opacity="0.6"/>
<rect x="235.3" y="195.7" width="1.0" height="1.0" fill-opacity="0.6"/>
<rect x="238.0" y="197.8" width="1.0" height="1.0" fill-opacity="0.6"/>
<rect x="237.5" y="196.7" width="1.0" height="1.0" fill-opacity="0.6"/>
<rect x="235.9" y="197.2" width="1.0" height="1.0" fill-opacity="0.6"/>
<rect x="234.1" y="199.6" width="1.0" height="1.0" fill-opacity="0.6"/>
<rect x="234.7" y="196.0" width="1.0" height="1.0" fill-opacity="0.6"/>
<rect x="234.2" y="196.7" width="1.0" height="1.0" fill-opacity="0.6"/>
<rect x="238.6" y="197.0" width="1.0" height="1.0" fill-opacity="0.6"/>
<rect x="234.1" y="199.4" width="1.0" height="1.0" fill-opacity="0.6"/>
<rect x="237.6" y="195.1" width="1.0" height="1.0" fill-opacity="0.6"/>
<rect x="232.8" y="197.7" width="1.0" height="1.0" fill-opacity="0.6"/>
<rect x="235.2" y="197.9" width="1.0" height="1.0" fill-opacity="0.6"/>
<rect x="234.2" y="194.9" width="1.0" height="1.0" fill-opacity="0.6"/>
<rect x="235.7" y="194.8" width="1.0" height="1.0" fill-opacity="0.6"/>
<rect x="237.2" y="194.4" width="1.0" height="1.0" fill-opacity="0.6"/>
<rect x="234.3" y="196.6" width="1.0" height="1.0" fill-opacity="0.6"/>
<rect x="236.0" y="198.9" width="1.0" height="1.0" fill-opacity="0.6"/>
<rect x="238.3" y="196.5" width="1.0" height="1.0" fill-opacity="0.6"/>
<rect x="235.8" y="194.7" width="1.0" height="1.0" fill-opacity="0.6"/>
<rect x="234.8" y="196.8" width="1.0" height="1.0" fill-opacity="0.6"/>
<rect x="234.6" y="198.5" width="1.0" height="1.0" fill-opacity="0.6"/>
<rect x="234.3" y="196.9" width="1.0" height="1.0" fill-opacity="0.6"/>
<rect x="232.8" y="195.7" width="1.0" height="1.0" fill-opacity="0.6"/>
<rect x="238.2" y="197.6" width="1.0" height="1.0" fill-opacity="0.6"/>
<rect x="235.9" y="195.5" width="1.0" height="1.0" fill-opacity="0.6"/>
<rect x="231.0" y="200.1" width="1.0" height="1.0" fill-opacity="0.6"/>
<rect x="238.8" y="195.7" width="1.0" height="1.0" fill-opacity="0.6"/>
<rect x="239.0" y="197.4" width="1.0" height="1.0" fill-opacity="0.6"/>
<rect x="238.1" y="195.0" width="1.0" height="1.0" fill-opacity="0.6"/>
<rect x="238.8" y="196.5" width="1.0" height="1.0" fill-opacity="0.6"/>
<rect x="232.9" y="198.1" width="1.0" height="1.0" fill-opacity="0.6"/>
<rect x="233.3" y="198.3" width="1.0" height="1.0" fill-opacity="0.6"/>
<rect x="236.6" y="194.9" width="1.0" height="1.0" fill-opacity="0.6"/>
<rect x="233.0" y="200.6" width="1.0" height="1.0" fill-opacity="0.6"/>
<rect x="237.9" y="198.0" width="1.0" height="1.0" fill-opacity="0.6"/>
<rect x="234.3" y="199.5" width="1.0" height="1.0" fill-opacity="0.6"/>
<rect x="241.6" y="196.7" width="1.0" height="1.0" fill-opacity="0.6"/>
<rect x="236.0" y="197.3" width="1.0" height="1.0" fill-opacity="0.6"/>
<rect x="236.5" y="198.1" width="1.0" height="1.0" fill-opacity="0.6"/>
<rect x="238.3" y="195.7" width="1.0" height="1.0" fill-opacity="0.6"/>
<rect x="234.0" y="199.2" width="1.0" height="1.0" fill-opacity="0.6"/>
<rect x="235.7" y="198.0" width="1.0" height="1.0" fill-opacity="0.6"/>
<rect x="237.8" y="198.3" width="1.0" height="1.0" fill-opacity="0.6"/>
<rect x="238.2" y="195.0" width="1.0" height="1.0" fill-opacity="0.6"/>
<rect x="238.0" y="198.4" width="1.0" height="1.0" fill-opacity="0.6"/>
<rect x="235.4" y="197.9" width="1.0" height="1.0" fill-opacity="0.6"/>
<rect x="239.4" y="196.8" width="1.0" height="1.0" fill-opacity="0.6"/>
<rect x="236.4" y="194.7" width="1.0" height="1.0" fill-opacity="0.6"/>
<rect x="233.9" y="198.5" width="1.0" height="1.0" fill-opacity="0.6"/>
<rect x="238.6" y="199.2" width="1.0" height="1.0" fill-opacity="0.6"/>
<rect x="235.2" y="199.1" width="1.0" height="1.0" fill-opacity="0.6"/>
<rect x="236.6" y="194.0" width="1.0" height="1.0" fill-opacity="0.6"/>
<rect x="234.7" y="197.9" width="1.0" height="1.0" fill-opacity="0.6"/>
<rect x="235.1" y="197.2" width="1.0" height="1.0" fill-opacity="0.6"/>
<rect x="236.6" y="195.4" width="1.0" height="1.0" fill-opacity="0.6"/>
<rect x="236.7" y="195.6" width="1.0" height="1.0" fill-opacity="0.6"/>
<rect x="235.5" y="198.0" width="1.0" height="1.0" fill-opacity="0.6"/>
<rect x="235.3" y="197.8" width="1.0" height="1.0" fill-opacity="0.6"/>
<rect x="239.4" y="195.0" width="1.0" height="1.0" fill-opacity="0.6"/>
<rect x="236.4" y="197.8" width="1.0" height="1.0" fill-opacity="0.6"/>
<rect x="236.2" y="198.4" width="1.0" height="1.0" fill-opacity="0.6"/>
<rect x="234.1" y="199.0" width="1.0" height="1.0" fill-opacity="0.6"/>
<rect x="234.7" y="196.5" width="1.0" height="1.0" fill-opacity="0.6"/>
<rect x="239.1" y="193.8" width="1.0" height="1.0" fill-opacity="0.6"/>
<rect x="240.1" y="195.5" width="1.0" height="1.0" fill-opacity="0.6"/>
<rect x="238.4" y="194.0" width="1.0" height="1.0" fill-opacity="0.6"/>
<rect x="239.5" y="197.0" width="1.0" height="1.0" fill-opacity="0.6"/>
<rect x="235.9" y="196.8" width="1.0" height="1.0" fill-opacity="0.6"/>
<rect x="241.2" y="194.2" width="1.0" height="1.0" fill-opacity="0.6"/>
<rect x="235.0" y="196.6" width="1.0" height="1.0" fill-opacity="0.6"/>
<rect x="237.3" y="196.7" width="1.0" height="1.0" fill-opacity="0.6"/>
<rect x="237.7" y="198.5" width="1.0" height="1.0" fill-opacity="0.6"/>
<rect x="235.9" y="197.7" width="1.0" height="1.0" fill-opacity="0.6"/>
<rect x="238.4" y="194.0" width="1.0" height="1.0" fill-opacity="0.6"/>
<rect x="239.4" y="197.7" width="1.0" height="1.0" fill-opacity="0.6"/>
<rect x="232.8" y="197.1" width="1.0" height="1.0" fill-opacity="0.6"/>
<rect x="232.9" y="195.9" width="1.0" height="1.0" fill-opacity="0.6"/>
<rect x="235.9" y="194.2" width="1.0" height="1.0" fill-opacity="0.6"/>
<rect x="238.1" y="197.9" width="1.0" height="1.0" fill-opacity="0.6"/>
<rect x="232.8" y="198.3" width="1.0" height="1.0" fill-opacity="0.6"/>
<rect x="232.9" y="199.9" width="1.0" height="1.0" fill-opacity="0.6"/>
<rect x="234.6" y="197.4" width="1.0" height="1.0" fill-opacity="0.6"/>
<rect x="236.7" y="197.3" width="1.0" height="1.0" fill-opacity="0.6"/>
<rect x="235.5" y="197.2" width="1.0" height="1.0" fill-opacity="0.6"/>
<rect x="235.2" y="197.6" width="1.0" height="1.0" fill-opacity="0.6"/>
<rect x="233.9" y="198.2" width="1.0" height="1.0" fill-opacity="0.6"/>
<rect x="232.1" y="198.5" width="1.0" height="1.0" fill-opacity="0.6"/>
<rect x="240.0" y="194.7" width="1.0" height="1.0" fill-opacity="0.6"/>
<rect x="233.9" y="198.5" width="1.0" height="1.0" fill-opacity="0.6"/>
<rect x="233.2" y="196.1" width="1.0" height="1.0" fill-opacity="0.6"/>
<rect x="235.2" y="198.5" width="1.0" height="1.0" fill-opacity="0.6"/>
<rect x="236.9" y="196.3" width="1.0" height="1.0" fill-opacity="0.6"/>
<rect x="233.7" y="196.7" width="1.0" height="1.0" fill-opacity="0.6"/>
<rect x="239.0" y="195.5" width="1.0" height="1.0" fill-opacity="0.6"/>
<rect x="232.9" y="195.5" width="1.0" height="1.0" fill-opacity="0.6"/>
<rect x="235.1" y="201.1" width="1.0" height="1.0" fill-opacity="0.6"/>
<rect x="233.9" y="198.0" width="1.0" height="1.0" fill-opacity="0.6"/>
<rect x="236.5" y="196.4" width="1.0" height="1.0" fill-opacity="0.6"/>
<rect x="234.8" y="195.6" width="1.0" height="1.0" fill-opacity="0.6"/>
<rect x="235.2" y="199.9" width="1.0" height="1.0" fill-opacity="0.6"/>
<rect x="235.3" y="198.6" width="1.0" height="1.0" fill-opacity="0.6"/>
<rect x="230.3" y="197.0" width="1.0" height="1.0" fill-opacity="0.35"/>
<rect x="237.1" y="200.9" width="1.0" height="1.0" fill-opacity="0.35"/>
<rect x="232.3" y="199.6" width="1.0" height="1.0" fill-opacity="0.35"/>
<rect x="237.6" y="195.6" width="1.0" height="1.0" fill-opacity="0.35"/>
<rect x="237.9" y="195.1" width="1.0" height="1.0" fill-opacity="0.35"/>
<rect x="233.4" y="197.7" width="1.0" height="1.0" fill-opacity="0.35"/>
<rect x="226.7" y="197.5" width="1.0" height="1.0" fill-opacity="0.35"/>
<rect x="232.7" y="193.4" width="1.0" height="1.0" fill-opacity="0.35"/>
<rect x="234.7" y="200.1" width="1.0" height="1.0" fill-opacity="0.35"/>
<rect x="234.8" y="201.6" width="1.0" height="1.0" fill-opacity="0.35"/>
<rect x="232.1" y="193.9" width="1.0" height="1.0" fill-opacity="0.35"/>
<rect x="241.6" y="199.0" width="1.0" height="1.0" fill-opacity="0.35"/>
<rect x="239.5" y="195.3" width="1.0" height="1.0" fill-opacity="0.35"/>
<rect x="239.0" y="198.6" width="1.0" height="1.0" fill-opacity="0.35"/>
<rect x="238.5" y="197.9" width="1.0" height="1.0" fill-opacity="0.35"/>
<rect x="240.4" y="195.9" width="1.0" height="1.0" fill-opacity="0.35"/>
<rect x="232.8" y="193.4" width="1.0" height="1.0" fill-opacity="0.35"/>
<rect x="240.3" y="195.6" width="1.0" height="1.0" fill-opacity="0.35"/>
<rect x="232.5" y="195.0" width="1.0" height="1.0" fill-opacity="0.35"/>
<rect x="234.6" y="194.0" width="1.0" height="1.0" fill-opacity="0.35"/>
<rect x="235.2" y="195.9" width="1.0" height="1.0" fill-opacity="0.35"/>
<rect x="234.3" y="194.9" width="1.0" height="1.0" fill-opacity="0.35"/>
<rect x="236.3" y="196.4" width="1.0" height="1.0" fill-opacity="0.35"/>
<rect x="236.6" y="198.5" width="1.0" height="1.0" fill-opacity="0.35"/>
<rect x="237.4" y="191.2" width="1.0" height="1.0" fill-opacity="0.35"/>
<rect x="188.2" y="182.6" width="59.6" height="59.4" fill="none" stroke="#555" stroke-width="0.9"/>
<line x1="188.2" y1="186.84" x2="189.5" y2="186.84" stroke="#444" stroke-width="0.7"/>
<line x1="192.46" y1="242" x2="192.46" y2="240.7" stroke="#444" stroke-width="0.7"/>
<line x1="188.2" y1="191.09" x2="189.5" y2="191.09" stroke="#444" stroke-width="0.7"/>
<line x1="196.71" y1="242" x2="196.71" y2="240.7" stroke="#444" stroke-width="0.7"/>
<line x1="188.2" y1="195.33" x2="189.5" y2="195.33" stroke="#444" stroke-width="0.7"/>
<line x1="200.97" y1="242" x2="200.97" y2="240.7" stroke="#444" stroke-width="0.7"/>
<line x1="188.2" y1="199.57" x2="189.5" y2="199.57" stroke="#444" stroke-width="0.7"/>
<line x1="205.23" y1="242" x2="205.23" y2="240.7" stroke="#444" stroke-width="0.7"/>
<line x1="188.2" y1="203.81" x2="189.5" y2="203.81" stroke="#444" stroke-width="0.7"/>
<line x1="209.49" y1="242" x2="209.49" y2="240.7" stroke="#444" stroke-width="0.7"/>
<line x1="188.2" y1="208.06" x2="189.5" y2="208.06" stroke="#444" stroke-width="0.7"/>
<line x1="213.74" y1="242" x2="213.74" y2="240.7" stroke="#444" stroke-width="0.7"/>
<line x1="188.2" y1="212.3" x2="189.5" y2="212.3" stroke="#444" stroke-width="0.7"/>
<line x1="218" y1="242" x2="218" y2="240.7" stroke="#444" stroke-width="0.7"/>
<line x1="188.2" y1="216.54" x2="189.5" y2="216.54" stroke="#444" stroke-width="0.7"/>
<line x1="222.26" y1="242" x2="222.26" y2="240.7" stroke="#444" stroke-width="0.7"/>
<line x1="188.2" y1="220.79" x2="189.5" y2="220.79" stroke="#444" stroke-width="0.7"/>
<line x1="226.51" y1="242" x2="226.51" y2="240.7" stroke="#444" stroke-width="0.7"/>
<line x1="188.2" y1="225.03" x2="189.5" y2="225.03" stroke="#444" stroke-width="0.7"/>
<line x1="230.77" y1="242" x2="230.77" y2="240.7" stroke="#444" stroke-width="0.7"/>
<line x1="188.2" y1="229.27" x2="189.5" y2="229.27" stroke="#444" stroke-width="0.7"/>
<line x1="235.03" y1="242" x2="235.03" y2="240.7" stroke="#444" stroke-width="0.7"/>
<line x1="188.2" y1="233.51" x2="189.5" y2="233.51" stroke="#444" stroke-width="0.7"/>
<line x1="239.29" y1="242" x2="239.29" y2="240.7" stroke="#444" stroke-width="0.7"/>
<line x1="188.2" y1="237.76" x2="189.5" y2="237.76" stroke="#444" stroke-width="0.7"/>
<line x1="243.54" y1="242" x2="243.54" y2="240.7" stroke="#444" stroke-width="0.7"/>
<rect x="229.2" y="188.5" width="15.1" height="20.1" fill="none" stroke="#111" stroke-width="1.3"/>
<text transform="translate(235 220.7) scale(1 1.04)" font-size="9.7" text-anchor="middle" fill="#000">42</text>
<rect x="286.8" y="232.3" width="1.0" height="1.0" fill-opacity="0.42"/>
<rect x="290.7" y="235.7" width="1.0" height="1.0" fill-opacity="0.42"/>
<rect x="288.6" y="229.8" width="1.0" height="1.0" fill-opacity="0.42"/>
<rect x="290.0" y="225.7" width="1.0" height="1.0" fill-opacity="0.42"/>
<rect x="286.8" y="222.6" width="1.0" height="1.0" fill-opacity="0.42"/>
<rect x="289.6" y="239.4" width="1.0" height="1.0" fill-opacity="0.42"/>
<rect x="288.3" y="212.6" width="1.0" height="1.0" fill-opacity="0.42"/>
<rect x="288.5" y="215.5" width="1.0" height="1.0" fill-opacity="0.42"/>
<rect x="285.7" y="236.3" width="1.0" height="1.0" fill-opacity="0.42"/>
<rect x="287.2" y="226.5" width="1.0" height="1.0" fill-opacity="0.42"/>
<rect x="287.2" y="210.3" width="1.0" height="1.0" fill-opacity="0.42"/>
<rect x="290.0" y="239.5" width="1.0" height="1.0" fill-opacity="0.42"/>
<rect x="287.2" y="240.5" width="1.0" height="1.0" fill-opacity="0.42"/>
<rect x="288.9" y="214.8" width="1.0" height="1.0" fill-opacity="0.42"/>
<rect x="288.9" y="232.0" width="1.0" height="1.0" fill-opacity="0.42"/>
<rect x="289.5" y="210.4" width="1.0" height="1.0" fill-opacity="0.42"/>
<rect x="288.4" y="209.6" width="1.0" height="1.0" fill-opacity="0.42"/>
<rect x="288.0" y="240.2" width="1.0" height="1.0" fill-opacity="0.42"/>
<rect x="289.2" y="214.2" width="1.0" height="1.0" fill-opacity="0.42"/>
<rect x="288.1" y="210.6" width="1.0" height="1.0" fill-opacity="0.42"/>
<rect x="288.8" y="234.0" width="1.0" height="1.0" fill-opacity="0.42"/>
<rect x="291.1" y="218.1" width="1.0" height="1.0" fill-opacity="0.42"/>
<rect x="289.1" y="212.4" width="1.0" height="1.0" fill-opacity="0.42"/>
<rect x="286.4" y="237.5" width="1.0" height="1.0" fill-opacity="0.42"/>
<rect x="290.5" y="234.3" width="1.0" height="1.0" fill-opacity="0.42"/>
<rect x="289.8" y="233.7" width="1.0" height="1.0" fill-opacity="0.42"/>
<rect x="289.7" y="226.9" width="1.0" height="1.0" fill-opacity="0.42"/>
<rect x="288.2" y="240.1" width="1.0" height="1.0" fill-opacity="0.42"/>
<rect x="289.0" y="233.9" width="1.0" height="1.0" fill-opacity="0.42"/>
<rect x="288.7" y="232.2" width="1.0" height="1.0" fill-opacity="0.42"/>
<rect x="289.8" y="236.5" width="1.0" height="1.0" fill-opacity="0.42"/>
<rect x="289.3" y="234.3" width="1.0" height="1.0" fill-opacity="0.42"/>
<rect x="289.8" y="217.3" width="1.0" height="1.0" fill-opacity="0.42"/>
<rect x="287.4" y="212.9" width="1.0" height="1.0" fill-opacity="0.42"/>
<rect x="287.3" y="224.1" width="1.0" height="1.0" fill-opacity="0.42"/>
<rect x="288.0" y="232.9" width="1.0" height="1.0" fill-opacity="0.42"/>
<rect x="289.1" y="216.5" width="1.0" height="1.0" fill-opacity="0.42"/>
<rect x="287.3" y="232.0" width="1.0" height="1.0" fill-opacity="0.42"/>
<rect x="287.4" y="231.6" width="1.0" height="1.0" fill-opacity="0.42"/>
<rect x="289.4" y="235.7" width="1.0" height="1.0" fill-opacity="0.42"/>
<rect x="289.1" y="239.7" width="1.0" height="1.0" fill-opacity="0.42"/>
<rect x="286.8" y="221.7" width="1.0" height="1.0" fill-opacity="0.42"/>
<rect x="291.0" y="212.9" width="1.0" height="1.0" fill-opacity="0.42"/>
<rect x="288.3" y="236.8" width="1.0" height="1.0" fill-opacity="0.42"/>
<rect x="285.4" y="223.0" width="1.0" height="1.0" fill-opacity="0.42"/>
<rect x="286.2" y="236.9" width="1.0" height="1.0" fill-opacity="0.42"/>
<rect x="288.1" y="230.8" width="1.0" height="1.0" fill-opacity="0.42"/>
<rect x="290.2" y="238.3" width="1.0" height="1.0" fill-opacity="0.42"/>
<rect x="287.9" y="224.4" width="1.0" height="1.0" fill-opacity="0.42"/>
<rect x="286.8" y="238.5" width="1.0" height="1.0" fill-opacity="0.42"/>
<rect x="288.7" y="236.3" width="1.0" height="1.0" fill-opacity="0.42"/>
<rect x="288.8" y="220.8" width="1.0" height="1.0" fill-opacity="0.42"/>
<rect x="286.3" y="225.8" width="1.0" height="1.0" fill-opacity="0.42"/>
<rect x="287.3" y="238.3" width="1.0" height="1.0" fill-opacity="0.42"/>
<rect x="290.1" y="212.0" width="1.0" height="1.0" fill-opacity="0.42"/>
<rect x="286.3" y="237.8" width="1.0" height="1.0" fill-opacity="0.42"/>
<rect x="288.3" y="230.0" width="1.0" height="1.0" fill-opacity="0.42"/>
<rect x="291.6" y="236.2" width="1.0" height="1.0" fill-opacity="0.42"/>
<rect x="289.9" y="233.1" width="1.0" height="1.0" fill-opacity="0.42"/>
<rect x="288.0" y="214.0" width="1.0" height="1.0" fill-opacity="0.42"/>
<rect x="289.0" y="229.5" width="1.0" height="1.0" fill-opacity="0.42"/>
<rect x="287.7" y="234.8" width="1.0" height="1.0" fill-opacity="0.42"/>
<rect x="288.9" y="239.3" width="1.0" height="1.0" fill-opacity="0.42"/>
<rect x="290.7" y="232.9" width="1.0" height="1.0" fill-opacity="0.42"/>
<rect x="289.0" y="227.0" width="1.0" height="1.0" fill-opacity="0.42"/>
<rect x="289.8" y="234.8" width="1.0" height="1.0" fill-opacity="0.42"/>
<rect x="288.1" y="235.9" width="1.0" height="1.0" fill-opacity="0.42"/>
<rect x="288.9" y="236.2" width="1.0" height="1.0" fill-opacity="0.42"/>
<rect x="288.9" y="235.4" width="1.0" height="1.0" fill-opacity="0.42"/>
<rect x="290.7" y="238.5" width="1.0" height="1.0" fill-opacity="0.42"/>
<rect x="287.0" y="238.2" width="1.0" height="1.0" fill-opacity="0.42"/>
<rect x="288.5" y="230.5" width="1.0" height="1.0" fill-opacity="0.42"/>
<rect x="289.0" y="218.2" width="1.0" height="1.0" fill-opacity="0.42"/>
<rect x="289.6" y="233.5" width="1.0" height="1.0" fill-opacity="0.42"/>
<rect x="287.3" y="224.0" width="1.0" height="1.0" fill-opacity="0.42"/>
<rect x="288.1" y="228.5" width="1.0" height="1.0" fill-opacity="0.42"/>
<rect x="293.6" y="216.7" width="1.0" height="1.0" fill-opacity="0.42"/>
<rect x="290.1" y="224.3" width="1.0" height="1.0" fill-opacity="0.42"/>
<rect x="286.9" y="214.9" width="1.0" height="1.0" fill-opacity="0.42"/>
<rect x="286.7" y="216.9" width="1.0" height="1.0" fill-opacity="0.42"/>
<rect x="287.7" y="230.7" width="1.0" height="1.0" fill-opacity="0.42"/>
<rect x="290.2" y="210.7" width="1.0" height="1.0" fill-opacity="0.42"/>
<rect x="291.7" y="211.5" width="1.0" height="1.0" fill-opacity="0.42"/>
<rect x="288.5" y="227.6" width="1.0" height="1.0" fill-opacity="0.42"/>
<rect x="288.5" y="229.9" width="1.0" height="1.0" fill-opacity="0.42"/>
<rect x="291.3" y="225.9" width="1.0" height="1.0" fill-opacity="0.42"/>
<rect x="289.0" y="239.7" width="1.0" height="1.0" fill-opacity="0.42"/>
<rect x="285.9" y="240.1" width="1.0" height="1.0" fill-opacity="0.42"/>
<rect x="289.7" y="220.4" width="1.0" height="1.0" fill-opacity="0.42"/>
<rect x="288.9" y="217.9" width="1.0" height="1.0" fill-opacity="0.42"/>
<rect x="290.5" y="214.0" width="1.0" height="1.0" fill-opacity="0.42"/>
<rect x="289.3" y="237.8" width="1.0" height="1.0" fill-opacity="0.42"/>
<rect x="291.8" y="226.8" width="1.0" height="1.0" fill-opacity="0.42"/>
<rect x="287.6" y="213.1" width="1.0" height="1.0" fill-opacity="0.42"/>
<rect x="288.1" y="230.8" width="1.0" height="1.0" fill-opacity="0.42"/>
<rect x="289.2" y="240.0" width="1.0" height="1.0" fill-opacity="0.42"/>
<rect x="286.7" y="220.6" width="1.0" height="1.0" fill-opacity="0.42"/>
<rect x="287.9" y="239.9" width="1.0" height="1.0" fill-opacity="0.42"/>
<rect x="287.4" y="232.7" width="1.0" height="1.0" fill-opacity="0.42"/>
<rect x="289.7" y="217.1" width="1.0" height="1.0" fill-opacity="0.42"/>
<rect x="289.8" y="240.2" width="1.0" height="1.0" fill-opacity="0.42"/>
<rect x="288.6" y="211.8" width="1.0" height="1.0" fill-opacity="0.42"/>
<rect x="286.8" y="220.5" width="1.0" height="1.0" fill-opacity="0.42"/>
<rect x="291.3" y="238.7" width="1.0" height="1.0" fill-opacity="0.42"/>
<rect x="291.2" y="237.0" width="1.0" height="1.0" fill-opacity="0.42"/>
<rect x="289.5" y="233.7" width="1.0" height="1.0" fill-opacity="0.42"/>
<rect x="289.2" y="232.1" width="1.0" height="1.0" fill-opacity="0.42"/>
<rect x="288.7" y="216.5" width="1.0" height="1.0" fill-opacity="0.42"/>
<rect x="290.8" y="234.9" width="1.0" height="1.0" fill-opacity="0.42"/>
<rect x="287.9" y="221.9" width="1.0" height="1.0" fill-opacity="0.42"/>
<rect x="288.7" y="230.6" width="1.0" height="1.0" fill-opacity="0.42"/>
<rect x="288.0" y="222.7" width="1.0" height="1.0" fill-opacity="0.42"/>
<rect x="289.9" y="220.6" width="1.0" height="1.0" fill-opacity="0.42"/>
<rect x="289.9" y="217.4" width="1.0" height="1.0" fill-opacity="0.42"/>
<rect x="290.1" y="219.9" width="1.0" height="1.0" fill-opacity="0.42"/>
<rect x="290.5" y="210.2" width="1.0" height="1.0" fill-opacity="0.42"/>
<rect x="288.8" y="233.9" width="1.0" height="1.0" fill-opacity="0.42"/>
<rect x="289.1" y="239.2" width="1.0" height="1.0" fill-opacity="0.42"/>
<rect x="291.5" y="219.3" width="1.0" height="1.0" fill-opacity="0.42"/>
<rect x="287.5" y="238.3" width="1.0" height="1.0" fill-opacity="0.42"/>
<rect x="288.1" y="216.3" width="1.0" height="1.0" fill-opacity="0.42"/>
<rect x="288.9" y="239.3" width="1.0" height="1.0" fill-opacity="0.42"/>
<rect x="287.6" y="237.1" width="1.0" height="1.0" fill-opacity="0.42"/>
<rect x="287.5" y="223.2" width="1.0" height="1.0" fill-opacity="0.42"/>
<rect x="286.6" y="236.7" width="1.0" height="1.0" fill-opacity="0.42"/>
<rect x="289.0" y="216.4" width="1.0" height="1.0" fill-opacity="0.42"/>
<rect x="290.9" y="219.3" width="1.0" height="1.0" fill-opacity="0.42"/>
<rect x="289.5" y="229.5" width="1.0" height="1.0" fill-opacity="0.42"/>
<rect x="289.5" y="216.5" width="1.0" height="1.0" fill-opacity="0.42"/>
<rect x="287.8" y="225.4" width="1.0" height="1.0" fill-opacity="0.42"/>
<rect x="288.3" y="216.9" width="1.0" height="1.0" fill-opacity="0.42"/>
<rect x="291.5" y="223.1" width="1.0" height="1.0" fill-opacity="0.42"/>
<rect x="287.4" y="217.4" width="1.0" height="1.0" fill-opacity="0.42"/>
<rect x="288.8" y="238.6" width="1.0" height="1.0" fill-opacity="0.42"/>
<rect x="289.2" y="215.3" width="1.0" height="1.0" fill-opacity="0.42"/>
<rect x="288.6" y="238.4" width="1.0" height="1.0" fill-opacity="0.42"/>
<rect x="289.1" y="232.7" width="1.0" height="1.0" fill-opacity="0.42"/>
<rect x="290.4" y="221.5" width="1.0" height="1.0" fill-opacity="0.42"/>
<rect x="289.1" y="220.6" width="1.0" height="1.0" fill-opacity="0.42"/>
<rect x="290.1" y="240.8" width="1.0" height="1.0" fill-opacity="0.42"/>
<rect x="289.3" y="241.0" width="1.0" height="1.0" fill-opacity="0.42"/>
<rect x="288.4" y="221.6" width="1.0" height="1.0" fill-opacity="0.42"/>
<rect x="291.0" y="238.5" width="1.0" height="1.0" fill-opacity="0.42"/>
<rect x="289.6" y="221.8" width="1.0" height="1.0" fill-opacity="0.42"/>
<rect x="291.4" y="240.5" width="1.0" height="1.0" fill-opacity="0.42"/>
<rect x="289.0" y="223.3" width="1.0" height="1.0" fill-opacity="0.42"/>
<rect x="291.5" y="216.3" width="1.0" height="1.0" fill-opacity="0.42"/>
<rect x="288.7" y="228.8" width="1.0" height="1.0" fill-opacity="0.42"/>
<rect x="285.7" y="218.1" width="1.0" height="1.0" fill-opacity="0.42"/>
<rect x="290.0" y="219.2" width="1.0" height="1.0" fill-opacity="0.42"/>
<rect x="289.3" y="230.0" width="1.0" height="1.0" fill-opacity="0.42"/>
<rect x="289.4" y="235.3" width="1.0" height="1.0" fill-opacity="0.42"/>
<rect x="288.9" y="233.8" width="1.0" height="1.0" fill-opacity="0.42"/>
<rect x="289.3" y="214.1" width="1.0" height="1.0" fill-opacity="0.42"/>
<rect x="287.5" y="231.0" width="1.0" height="1.0" fill-opacity="0.42"/>
<rect x="288.7" y="218.8" width="1.0" height="1.0" fill-opacity="0.42"/>
<rect x="288.0" y="231.2" width="1.0" height="1.0" fill-opacity="0.42"/>
<rect x="286.1" y="230.3" width="1.0" height="1.0" fill-opacity="0.42"/>
<rect x="290.9" y="218.7" width="1.0" height="1.0" fill-opacity="0.42"/>
<rect x="289.7" y="225.3" width="1.0" height="1.0" fill-opacity="0.42"/>
<rect x="291.3" y="234.1" width="1.0" height="1.0" fill-opacity="0.42"/>
<rect x="289.6" y="223.1" width="1.0" height="1.0" fill-opacity="0.42"/>
<rect x="289.9" y="237.1" width="1.0" height="1.0" fill-opacity="0.42"/>
<rect x="287.4" y="210.4" width="1.0" height="1.0" fill-opacity="0.42"/>
<rect x="285.7" y="238.8" width="1.0" height="1.0" fill-opacity="0.42"/>
<rect x="289.1" y="220.9" width="1.0" height="1.0" fill-opacity="0.42"/>
<rect x="289.4" y="218.1" width="1.0" height="1.0" fill-opacity="0.42"/>
<rect x="287.4" y="217.2" width="1.0" height="1.0" fill-opacity="0.42"/>
<rect x="288.6" y="224.2" width="1.0" height="1.0" fill-opacity="0.42"/>
<rect x="288.6" y="228.6" width="1.0" height="1.0" fill-opacity="0.42"/>
<rect x="287.9" y="226.5" width="1.0" height="1.0" fill-opacity="0.42"/>
<rect x="288.6" y="233.9" width="1.0" height="1.0" fill-opacity="0.42"/>
<rect x="289.6" y="236.5" width="1.0" height="1.0" fill-opacity="0.42"/>
<rect x="287.7" y="233.8" width="1.0" height="1.0" fill-opacity="0.42"/>
<rect x="288.7" y="224.5" width="1.0" height="1.0" fill-opacity="0.42"/>
<rect x="288.2" y="237.9" width="1.0" height="1.0" fill-opacity="0.42"/>
<rect x="286.9" y="239.9" width="1.0" height="1.0" fill-opacity="0.42"/>
<rect x="288.8" y="228.9" width="1.0" height="1.0" fill-opacity="0.42"/>
<rect x="292.6" y="229.1" width="1.0" height="1.0" fill-opacity="0.42"/>
<rect x="289.2" y="219.4" width="1.0" height="1.0" fill-opacity="0.42"/>
<rect x="289.6" y="217.9" width="1.0" height="1.0" fill-opacity="0.42"/>
<rect x="289.4" y="236.5" width="1.0" height="1.0" fill-opacity="0.42"/>
<rect x="290.6" y="211.3" width="1.0" height="1.0" fill-opacity="0.42"/>
<rect x="290.0" y="218.4" width="1.0" height="1.0" fill-opacity="0.42"/>
<rect x="287.1" y="210.6" width="1.0" height="1.0" fill-opacity="0.42"/>
<rect x="287.6" y="228.7" width="1.0" height="1.0" fill-opacity="0.42"/>
<rect x="291.1" y="233.6" width="1.0" height="1.0" fill-opacity="0.42"/>
<rect x="290.5" y="233.9" width="1.0" height="1.0" fill-opacity="0.42"/>
<rect x="290.0" y="212.1" width="1.0" height="1.0" fill-opacity="0.42"/>
<rect x="289.9" y="228.0" width="1.0" height="1.0" fill-opacity="0.42"/>
<rect x="289.8" y="221.3" width="1.0" height="1.0" fill-opacity="0.42"/>
<rect x="289.8" y="216.2" width="1.0" height="1.0" fill-opacity="0.42"/>
<rect x="289.2" y="230.6" width="1.0" height="1.0" fill-opacity="0.42"/>
<rect x="288.1" y="230.1" width="1.0" height="1.0" fill-opacity="0.42"/>
<rect x="290.1" y="234.7" width="1.0" height="1.0" fill-opacity="0.42"/>
<rect x="291.1" y="239.5" width="1.0" height="1.0" fill-opacity="0.42"/>
<rect x="286.2" y="224.8" width="1.0" height="1.0" fill-opacity="0.42"/>
<rect x="290.1" y="228.8" width="1.0" height="1.0" fill-opacity="0.42"/>
<rect x="291.1" y="225.0" width="1.0" height="1.0" fill-opacity="0.42"/>
<rect x="287.8" y="223.2" width="1.0" height="1.0" fill-opacity="0.42"/>
<rect x="287.9" y="220.0" width="1.0" height="1.0" fill-opacity="0.42"/>
<rect x="290.1" y="240.5" width="1.0" height="1.0" fill-opacity="0.42"/>
<rect x="291.1" y="236.2" width="1.0" height="1.0" fill-opacity="0.42"/>
<rect x="287.3" y="237.3" width="1.0" height="1.0" fill-opacity="0.42"/>
<rect x="284.9" y="212.6" width="1.0" height="1.0" fill-opacity="0.42"/>
<rect x="288.3" y="239.4" width="1.0" height="1.0" fill-opacity="0.42"/>
<rect x="286.8" y="220.3" width="1.0" height="1.0" fill-opacity="0.42"/>
<rect x="289.7" y="224.0" width="1.0" height="1.0" fill-opacity="0.42"/>
<rect x="290.1" y="228.9" width="1.0" height="1.0" fill-opacity="0.42"/>
<rect x="289.4" y="228.2" width="1.0" height="1.0" fill-opacity="0.42"/>
<rect x="291.2" y="210.8" width="1.0" height="1.0" fill-opacity="0.42"/>
<rect x="291.7" y="235.5" width="1.0" height="1.0" fill-opacity="0.42"/>
<rect x="286.9" y="239.5" width="1.0" height="1.0" fill-opacity="0.42"/>
<rect x="286.7" y="238.2" width="1.0" height="1.0" fill-opacity="0.42"/>
<rect x="290.8" y="238.2" width="1.0" height="1.0" fill-opacity="0.42"/>
<rect x="289.2" y="220.8" width="1.0" height="1.0" fill-opacity="0.42"/>
<rect x="288.4" y="232.9" width="1.0" height="1.0" fill-opacity="0.42"/>
<rect x="290.6" y="239.2" width="1.0" height="1.0" fill-opacity="0.42"/>
<rect x="288.7" y="231.4" width="1.0" height="1.0" fill-opacity="0.42"/>
<rect x="290.5" y="226.1" width="1.0" height="1.0" fill-opacity="0.42"/>
<rect x="288.4" y="239.8" width="1.0" height="1.0" fill-opacity="0.42"/>
<rect x="289.9" y="232.1" width="1.0" height="1.0" fill-opacity="0.42"/>
<rect x="285.6" y="215.5" width="1.0" height="1.0" fill-opacity="0.42"/>
<rect x="286.6" y="228.4" width="1.0" height="1.0" fill-opacity="0.42"/>
<rect x="286.9" y="220.9" width="1.0" height="1.0" fill-opacity="0.42"/>
<rect x="289.1" y="216.7" width="1.0" height="1.0" fill-opacity="0.42"/>
<rect x="289.5" y="215.7" width="1.0" height="1.0" fill-opacity="0.42"/>
<rect x="289.6" y="225.3" width="1.0" height="1.0" fill-opacity="0.42"/>
<rect x="288.7" y="221.6" width="1.0" height="1.0" fill-opacity="0.42"/>
<rect x="289.3" y="229.3" width="1.0" height="1.0" fill-opacity="0.42"/>
<rect x="287.2" y="237.1" width="1.0" height="1.0" fill-opacity="0.42"/>
<rect x="287.5" y="232.2" width="1.0" height="1.0" fill-opacity="0.42"/>
<rect x="288.3" y="218.6" width="1.0" height="1.0" fill-opacity="0.42"/>
<rect x="287.1" y="229.4" width="1.0" height="1.0" fill-opacity="0.42"/>
<rect x="287.4" y="231.2" width="1.0" height="1.0" fill-opacity="0.42"/>
<rect x="289.0" y="220.0" width="1.0" height="1.0" fill-opacity="0.42"/>
<rect x="287.2" y="219.3" width="1.0" height="1.0" fill-opacity="0.42"/>
<rect x="288.6" y="230.4" width="1.0" height="1.0" fill-opacity="0.42"/>
<rect x="286.9" y="210.2" width="1.0" height="1.0" fill-opacity="0.42"/>
<rect x="291.1" y="219.9" width="1.0" height="1.0" fill-opacity="0.42"/>
<rect x="287.5" y="229.6" width="1.0" height="1.0" fill-opacity="0.42"/>
<rect x="288.8" y="240.7" width="1.0" height="1.0" fill-opacity="0.42"/>
<rect x="288.8" y="221.8" width="1.0" height="1.0" fill-opacity="0.42"/>
<rect x="287.8" y="213.2" width="1.0" height="1.0" fill-opacity="0.42"/>
<rect x="288.2" y="237.9" width="1.0" height="1.0" fill-opacity="0.42"/>
<rect x="288.9" y="224.7" width="1.0" height="1.0" fill-opacity="0.42"/>
<rect x="288.6" y="226.3" width="1.0" height="1.0" fill-opacity="0.42"/>
<rect x="288.0" y="219.5" width="1.0" height="1.0" fill-opacity="0.42"/>
<rect x="288.6" y="240.0" width="1.0" height="1.0" fill-opacity="0.42"/>
<rect x="287.8" y="223.2" width="1.0" height="1.0" fill-opacity="0.42"/>
<rect x="287.8" y="223.6" width="1.0" height="1.0" fill-opacity="0.42"/>
<rect x="286.8" y="237.3" width="1.0" height="1.0" fill-opacity="0.42"/>
<rect x="286.3" y="236.6" width="1.0" height="1.0" fill-opacity="0.42"/>
<rect x="288.4" y="234.6" width="1.0" height="1.0" fill-opacity="0.42"/>
<rect x="286.1" y="235.0" width="1.0" height="1.0" fill-opacity="0.42"/>
<rect x="289.1" y="233.7" width="1.0" height="1.0" fill-opacity="0.42"/>
<rect x="290.8" y="238.9" width="1.0" height="1.0" fill-opacity="0.42"/>
<rect x="290.9" y="209.5" width="1.0" height="1.0" fill-opacity="0.42"/>
<rect x="287.2" y="235.2" width="1.0" height="1.0" fill-opacity="0.42"/>
<rect x="287.8" y="240.1" width="1.0" height="1.0" fill-opacity="0.42"/>
<rect x="286.4" y="230.0" width="1.0" height="1.0" fill-opacity="0.42"/>
<rect x="290.0" y="237.9" width="1.0" height="1.0" fill-opacity="0.42"/>
<rect x="287.5" y="231.0" width="1.0" height="1.0" fill-opacity="0.42"/>
<rect x="289.8" y="226.8" width="1.0" height="1.0" fill-opacity="0.42"/>
<rect x="288.3" y="234.1" width="1.0" height="1.0" fill-opacity="0.42"/>
<rect x="290.1" y="229.6" width="1.0" height="1.0" fill-opacity="0.42"/>
<rect x="287.5" y="224.6" width="1.0" height="1.0" fill-opacity="0.42"/>
<rect x="291.1" y="237.3" width="1.0" height="1.0" fill-opacity="0.42"/>
<rect x="287.8" y="228.0" width="1.0" height="1.0" fill-opacity="0.42"/>
<rect x="289.0" y="222.1" width="1.0" height="1.0" fill-opacity="0.42"/>
<rect x="286.9" y="216.5" width="1.0" height="1.0" fill-opacity="0.42"/>
<rect x="287.8" y="214.2" width="1.0" height="1.0" fill-opacity="0.42"/>
<rect x="287.4" y="239.1" width="1.0" height="1.0" fill-opacity="0.42"/>
<rect x="291.3" y="237.0" width="1.0" height="1.0" fill-opacity="0.42"/>
<rect x="289.1" y="240.0" width="1.0" height="1.0" fill-opacity="0.42"/>
<rect x="290.2" y="238.8" width="1.0" height="1.0" fill-opacity="0.42"/>
<rect x="290.5" y="210.1" width="1.0" height="1.0" fill-opacity="0.42"/>
<rect x="289.3" y="228.0" width="1.0" height="1.0" fill-opacity="0.42"/>
<rect x="289.0" y="239.1" width="1.0" height="1.0" fill-opacity="0.42"/>
<rect x="286.9" y="241.0" width="1.0" height="1.0" fill-opacity="0.42"/>
<rect x="286.4" y="228.5" width="1.0" height="1.0" fill-opacity="0.42"/>
<rect x="288.5" y="224.8" width="1.0" height="1.0" fill-opacity="0.42"/>
<rect x="287.5" y="223.8" width="1.0" height="1.0" fill-opacity="0.42"/>
<rect x="287.9" y="239.7" width="1.0" height="1.0" fill-opacity="0.42"/>
<rect x="288.0" y="232.9" width="1.0" height="1.0" fill-opacity="0.42"/>
<rect x="288.6" y="224.3" width="1.0" height="1.0" fill-opacity="0.42"/>
<rect x="286.9" y="225.1" width="1.0" height="1.0" fill-opacity="0.42"/>
<rect x="288.0" y="238.1" width="1.0" height="1.0" fill-opacity="0.42"/>
<rect x="287.1" y="240.1" width="1.0" height="1.0" fill-opacity="0.42"/>
<rect x="288.8" y="231.5" width="1.0" height="1.0" fill-opacity="0.42"/>
<rect x="287.7" y="240.9" width="1.0" height="1.0" fill-opacity="0.42"/>
<rect x="290.2" y="236.5" width="1.0" height="1.0" fill-opacity="0.42"/>
<rect x="287.0" y="217.5" width="1.0" height="1.0" fill-opacity="0.42"/>
<rect x="292.5" y="236.7" width="1.0" height="1.0" fill-opacity="0.42"/>
<rect x="291.1" y="228.4" width="1.0" height="1.0" fill-opacity="0.42"/>
<rect x="290.7" y="233.2" width="1.0" height="1.0" fill-opacity="0.42"/>
<rect x="291.8" y="236.6" width="1.0" height="1.0" fill-opacity="0.42"/>
<rect x="288.5" y="225.7" width="1.0" height="1.0" fill-opacity="0.42"/>
<rect x="288.3" y="217.0" width="1.0" height="1.0" fill-opacity="0.42"/>
<rect x="290.4" y="228.2" width="1.0" height="1.0" fill-opacity="0.42"/>
<rect x="289.6" y="218.1" width="1.0" height="1.0" fill-opacity="0.42"/>
<rect x="290.6" y="230.9" width="1.0" height="1.0" fill-opacity="0.42"/>
<rect x="290.8" y="223.7" width="1.0" height="1.0" fill-opacity="0.42"/>
<rect x="288.6" y="212.0" width="1.0" height="1.0" fill-opacity="0.42"/>
<rect x="289.0" y="225.4" width="1.0" height="1.0" fill-opacity="0.42"/>
<rect x="287.5" y="233.2" width="1.0" height="1.0" fill-opacity="0.42"/>
<rect x="287.7" y="209.5" width="1.0" height="1.0" fill-opacity="0.42"/>
<rect x="291.4" y="230.4" width="1.0" height="1.0" fill-opacity="0.42"/>
<rect x="289.3" y="232.6" width="1.0" height="1.0" fill-opacity="0.42"/>
<rect x="290.4" y="229.5" width="1.0" height="1.0" fill-opacity="0.42"/>
<rect x="287.6" y="220.9" width="1.0" height="1.0" fill-opacity="0.42"/>
<rect x="287.2" y="240.9" width="1.0" height="1.0" fill-opacity="0.42"/>
<rect x="288.1" y="230.1" width="1.0" height="1.0" fill-opacity="0.42"/>
<rect x="289.1" y="217.0" width="1.0" height="1.0" fill-opacity="0.42"/>
<rect x="289.2" y="235.0" width="1.0" height="1.0" fill-opacity="0.42"/>
<rect x="289.1" y="217.5" width="1.0" height="1.0" fill-opacity="0.42"/>
<rect x="289.6" y="228.7" width="1.0" height="1.0" fill-opacity="0.42"/>
<rect x="286.8" y="236.2" width="1.0" height="1.0" fill-opacity="0.42"/>
<rect x="291.3" y="213.0" width="1.0" height="1.0" fill-opacity="0.42"/>
<rect x="288.9" y="222.7" width="1.0" height="1.0" fill-opacity="0.42"/>
<rect x="288.1" y="233.9" width="1.0" height="1.0" fill-opacity="0.42"/>
<rect x="289.4" y="220.9" width="1.0" height="1.0" fill-opacity="0.42"/>
<rect x="290.3" y="214.7" width="1.0" height="1.0" fill-opacity="0.42"/>
<rect x="287.6" y="223.5" width="1.0" height="1.0" fill-opacity="0.42"/>
<rect x="288.3" y="226.6" width="1.0" height="1.0" fill-opacity="0.42"/>
<rect x="289.0" y="238.3" width="1.0" height="1.0" fill-opacity="0.42"/>
<rect x="290.3" y="230.3" width="1.0" height="1.0" fill-opacity="0.42"/>
<rect x="288.3" y="231.4" width="1.0" height="1.0" fill-opacity="0.42"/>
<rect x="292.0" y="220.3" width="1.0" height="1.0" fill-opacity="0.42"/>
<rect x="289.6" y="237.4" width="1.0" height="1.0" fill-opacity="0.42"/>
<rect x="290.9" y="222.4" width="1.0" height="1.0" fill-opacity="0.42"/>
<rect x="287.1" y="222.1" width="1.0" height="1.0" fill-opacity="0.42"/>
<rect x="290.4" y="230.9" width="1.0" height="1.0" fill-opacity="0.42"/>
<rect x="288.3" y="239.8" width="1.0" height="1.0" fill-opacity="0.42"/>
<rect x="286.9" y="220.1" width="1.0" height="1.0" fill-opacity="0.42"/>
<rect x="290.2" y="219.3" width="1.0" height="1.0" fill-opacity="0.42"/>
<rect x="289.9" y="222.3" width="1.0" height="1.0" fill-opacity="0.42"/>
<rect x="287.5" y="235.9" width="1.0" height="1.0" fill-opacity="0.42"/>
<rect x="289.4" y="220.1" width="1.0" height="1.0" fill-opacity="0.42"/>
<rect x="290.0" y="218.1" width="1.0" height="1.0" fill-opacity="0.42"/>
<rect x="287.7" y="240.2" width="1.0" height="1.0" fill-opacity="0.3"/>
<rect x="291.1" y="209.0" width="1.0" height="1.0" fill-opacity="0.3"/>
<rect x="286.8" y="226.4" width="1.0" height="1.0" fill-opacity="0.3"/>
<rect x="289.9" y="206.1" width="1.0" height="1.0" fill-opacity="0.3"/>
<rect x="289.5" y="209.5" width="1.0" height="1.0" fill-opacity="0.3"/>
<rect x="286.9" y="215.3" width="1.0" height="1.0" fill-opacity="0.3"/>
<rect x="288.4" y="212.9" width="1.0" height="1.0" fill-opacity="0.3"/>
<rect x="290.0" y="203.9" width="1.0" height="1.0" fill-opacity="0.3"/>
<rect x="287.9" y="230.8" width="1.0" height="1.0" fill-opacity="0.3"/>
<rect x="290.0" y="232.1" width="1.0" height="1.0" fill-opacity="0.3"/>
<rect x="288.3" y="207.8" width="1.0" height="1.0" fill-opacity="0.3"/>
<rect x="292.4" y="209.7" width="1.0" height="1.0" fill-opacity="0.3"/>
<rect x="291.0" y="223.2" width="1.0" height="1.0" fill-opacity="0.3"/>
<rect x="285.6" y="211.3" width="1.0" height="1.0" fill-opacity="0.3"/>
<rect x="288.3" y="219.8" width="1.0" height="1.0" fill-opacity="0.3"/>
<rect x="285.9" y="239.8" width="1.0" height="1.0" fill-opacity="0.3"/>
<rect x="291.1" y="213.7" width="1.0" height="1.0" fill-opacity="0.3"/>
<rect x="287.9" y="214.5" width="1.0" height="1.0" fill-opacity="0.3"/>
<rect x="291.3" y="223.5" width="1.0" height="1.0" fill-opacity="0.3"/>
<rect x="291.2" y="216.0" width="1.0" height="1.0" fill-opacity="0.3"/>
<rect x="286.3" y="238.1" width="1.0" height="1.0" fill-opacity="0.3"/>
<rect x="287.6" y="215.4" width="1.0" height="1.0" fill-opacity="0.3"/>
<rect x="289.9" y="228.9" width="1.0" height="1.0" fill-opacity="0.3"/>
<rect x="292.6" y="209.4" width="1.0" height="1.0" fill-opacity="0.3"/>
<rect x="286.8" y="225.7" width="1.0" height="1.0" fill-opacity="0.3"/>
<rect x="288.1" y="234.2" width="1.0" height="1.0" fill-opacity="0.3"/>
<rect x="287.0" y="221.0" width="1.0" height="1.0" fill-opacity="0.3"/>
<rect x="286.3" y="218.1" width="1.0" height="1.0" fill-opacity="0.3"/>
<rect x="290.0" y="221.2" width="1.0" height="1.0" fill-opacity="0.3"/>
<rect x="289.6" y="236.6" width="1.0" height="1.0" fill-opacity="0.3"/>
<rect x="288.1" y="218.5" width="1.0" height="1.0" fill-opacity="0.3"/>
<rect x="287.7" y="227.4" width="1.0" height="1.0" fill-opacity="0.3"/>
<rect x="286.8" y="220.1" width="1.0" height="1.0" fill-opacity="0.3"/>
<rect x="288.7" y="206.1" width="1.0" height="1.0" fill-opacity="0.3"/>
<rect x="288.9" y="218.1" width="1.0" height="1.0" fill-opacity="0.3"/>
<rect x="290.1" y="232.5" width="1.0" height="1.0" fill-opacity="0.3"/>
<rect x="284.7" y="216.9" width="1.0" height="1.0" fill-opacity="0.3"/>
<rect x="292.2" y="234.3" width="1.0" height="1.0" fill-opacity="0.3"/>
<rect x="289.7" y="237.6" width="1.0" height="1.0" fill-opacity="0.3"/>
<rect x="287.8" y="216.7" width="1.0" height="1.0" fill-opacity="0.3"/>
<rect x="287.6" y="203.5" width="1.0" height="1.0" fill-opacity="0.3"/>
<rect x="285.6" y="219.7" width="1.0" height="1.0" fill-opacity="0.3"/>
<rect x="286.7" y="222.1" width="1.0" height="1.0" fill-opacity="0.3"/>
<rect x="285.9" y="215.5" width="1.0" height="1.0" fill-opacity="0.3"/>
<rect x="286.3" y="236.5" width="1.0" height="1.0" fill-opacity="0.3"/>
<rect x="291.0" y="212.4" width="1.0" height="1.0" fill-opacity="0.3"/>
<rect x="291.4" y="209.0" width="1.0" height="1.0" fill-opacity="0.3"/>
<rect x="286.4" y="232.3" width="1.0" height="1.0" fill-opacity="0.3"/>
<rect x="289.7" y="204.3" width="1.0" height="1.0" fill-opacity="0.3"/>
<rect x="289.0" y="213.2" width="1.0" height="1.0" fill-opacity="0.3"/>
<rect x="288.2" y="217.8" width="1.0" height="1.0" fill-opacity="0.3"/>
<rect x="289.1" y="218.1" width="1.0" height="1.0" fill-opacity="0.3"/>
<rect x="290.9" y="229.9" width="1.0" height="1.0" fill-opacity="0.3"/>
<rect x="293.1" y="227.7" width="1.0" height="1.0" fill-opacity="0.3"/>
<rect x="288.6" y="232.5" width="1.0" height="1.0" fill-opacity="0.3"/>
<rect x="291.6" y="231.4" width="1.0" height="1.0" fill-opacity="0.3"/>
<rect x="293.1" y="219.6" width="1.0" height="1.0" fill-opacity="0.3"/>
<rect x="288.7" y="234.3" width="1.0" height="1.0" fill-opacity="0.3"/>
<rect x="292.9" y="217.1" width="1.0" height="1.0" fill-opacity="0.3"/>
<rect x="290.1" y="228.9" width="1.0" height="1.0" fill-opacity="0.3"/>
<rect x="288.7" y="204.8" width="1.0" height="1.0" fill-opacity="0.3"/>
<rect x="290.1" y="234.8" width="1.0" height="1.0" fill-opacity="0.3"/>
<rect x="291.7" y="213.8" width="1.0" height="1.0" fill-opacity="0.3"/>
<rect x="287.1" y="207.4" width="1.0" height="1.0" fill-opacity="0.3"/>
<rect x="285.2" y="231.8" width="1.0" height="1.0" fill-opacity="0.3"/>
<rect x="291.6" y="235.9" width="1.0" height="1.0" fill-opacity="0.3"/>
<rect x="293.2" y="216.9" width="1.0" height="1.0" fill-opacity="0.3"/>
<rect x="291.8" y="222.5" width="1.0" height="1.0" fill-opacity="0.3"/>
<rect x="287.0" y="239.0" width="1.0" height="1.0" fill-opacity="0.3"/>
<rect x="284.4" y="236.0" width="1.0" height="1.0" fill-opacity="0.3"/>
<rect x="287.9" y="229.6" width="1.0" height="1.0" fill-opacity="0.3"/>
<rect x="289.0" y="231.9" width="1.0" height="1.0" fill-opacity="0.3"/>
<rect x="283.2" y="222.6" width="1.0" height="1.0" fill-opacity="0.3"/>
<rect x="288.4" y="209.7" width="1.0" height="1.0" fill-opacity="0.3"/>
<rect x="292.8" y="233.9" width="1.0" height="1.0" fill-opacity="0.3"/>
<rect x="289.9" y="235.2" width="1.0" height="1.0" fill-opacity="0.3"/>
<rect x="283.2" y="216.0" width="1.0" height="1.0" fill-opacity="0.3"/>
<rect x="286.7" y="229.9" width="1.0" height="1.0" fill-opacity="0.3"/>
<rect x="288.7" y="226.8" width="1.0" height="1.0" fill-opacity="0.3"/>
<rect x="289.5" y="220.0" width="1.0" height="1.0" fill-opacity="0.3"/>
<rect x="289.3" y="222.0" width="1.0" height="1.0" fill-opacity="0.3"/>
<rect x="290.3" y="210.2" width="1.0" height="1.0" fill-opacity="0.3"/>
<rect x="287.7" y="232.2" width="1.0" height="1.0" fill-opacity="0.3"/>
<rect x="287.3" y="215.2" width="1.0" height="1.0" fill-opacity="0.3"/>
<rect x="283.2" y="225.8" width="1.0" height="1.0" fill-opacity="0.3"/>
<rect x="290.5" y="219.7" width="1.0" height="1.0" fill-opacity="0.3"/>
<rect x="289.6" y="217.6" width="1.0" height="1.0" fill-opacity="0.3"/>
<rect x="287.8" y="227.4" width="1.0" height="1.0" fill-opacity="0.3"/>
<rect x="289.8" y="219.0" width="1.0" height="1.0" fill-opacity="0.3"/>
<rect x="285.5" y="233.9" width="1.0" height="1.0" fill-opacity="0.3"/>
<rect x="287.3" y="211.8" width="1.0" height="1.0" fill-opacity="0.3"/>
<rect x="285.9" y="223.9" width="1.0" height="1.0" fill-opacity="0.3"/>
<rect x="289.4" y="234.0" width="1.0" height="1.0" fill-opacity="0.3"/>
<rect x="287.7" y="217.2" width="1.0" height="1.0" fill-opacity="0.3"/>
<rect x="288.9" y="220.1" width="1.0" height="1.0" fill-opacity="0.3"/>
<rect x="289.4" y="216.9" width="1.0" height="1.0" fill-opacity="0.3"/>
<rect x="288.0" y="213.2" width="1.0" height="1.0" fill-opacity="0.3"/>
<rect x="286.7" y="208.9" width="1.0" height="1.0" fill-opacity="0.3"/>
<rect x="286.6" y="218.6" width="1.0" height="1.0" fill-opacity="0.3"/>
<rect x="289.1" y="211.8" width="1.0" height="1.0" fill-opacity="0.3"/>
<rect x="294.5" y="206.5" width="1.0" height="1.0" fill-opacity="0.3"/>
<rect x="289.3" y="233.5" width="1.0" height="1.0" fill-opacity="0.3"/>
<rect x="287.6" y="207.2" width="1.0" height="1.0" fill-opacity="0.3"/>
<rect x="281.7" y="227.4" width="1.0" height="1.0" fill-opacity="0.3"/>
<rect x="286.6" y="208.7" width="1.0" height="1.0" fill-opacity="0.3"/>
<rect x="288.9" y="212.8" width="1.0" height="1.0" fill-opacity="0.3"/>
<rect x="294.4" y="226.7" width="1.0" height="1.0" fill-opacity="0.3"/>
<rect x="289.0" y="230.1" width="1.0" height="1.0" fill-opacity="0.3"/>
<rect x="292.2" y="229.6" width="1.0" height="1.0" fill-opacity="0.3"/>
<rect x="287.5" y="215.6" width="1.0" height="1.0" fill-opacity="0.3"/>
<rect x="289.0" y="215.4" width="1.0" height="1.0" fill-opacity="0.3"/>
<rect x="289.2" y="234.3" width="1.0" height="1.0" fill-opacity="0.3"/>
<rect x="288.2" y="236.3" width="1.0" height="1.0" fill-opacity="0.3"/>
<rect x="290.3" y="229.9" width="1.0" height="1.0" fill-opacity="0.3"/>
<rect x="290.3" y="236.5" width="1.0" height="1.0" fill-opacity="0.3"/>
<rect x="287.9" y="234.6" width="1.0" height="1.0" fill-opacity="0.3"/>
<rect x="288.6" y="236.0" width="1.0" height="1.0" fill-opacity="0.3"/>
<rect x="286.9" y="212.6" width="1.0" height="1.0" fill-opacity="0.3"/>
<rect x="287.5" y="235.8" width="1.0" height="1.0" fill-opacity="0.3"/>
<rect x="290.9" y="227.0" width="1.0" height="1.0" fill-opacity="0.3"/>
<rect x="289.5" y="220.4" width="1.0" height="1.0" fill-opacity="0.3"/>
<rect x="287.5" y="204.4" width="1.0" height="1.0" fill-opacity="0.3"/>
<rect x="285.4" y="227.6" width="1.0" height="1.0" fill-opacity="0.3"/>
<rect x="285.1" y="232.1" width="1.0" height="1.0" fill-opacity="0.3"/>
<rect x="291.9" y="238.2" width="1.0" height="1.0" fill-opacity="0.3"/>
<rect x="287.7" y="225.2" width="1.0" height="1.0" fill-opacity="0.3"/>
<rect x="287.9" y="211.2" width="1.0" height="1.0" fill-opacity="0.3"/>
<rect x="291.1" y="207.0" width="1.0" height="1.0" fill-opacity="0.3"/>
<rect x="290.2" y="231.6" width="1.0" height="1.0" fill-opacity="0.3"/>
<rect x="291.5" y="240.1" width="1.0" height="1.0" fill-opacity="0.3"/>
<rect x="290.7" y="207.6" width="1.0" height="1.0" fill-opacity="0.3"/>
<rect x="289.3" y="212.9" width="1.0" height="1.0" fill-opacity="0.3"/>
<rect x="293.9" y="232.7" width="1.0" height="1.0" fill-opacity="0.3"/>
<rect x="288.8" y="236.8" width="1.0" height="1.0" fill-opacity="0.3"/>
<rect x="286.7" y="234.7" width="1.0" height="1.0" fill-opacity="0.3"/>
<rect x="289.7" y="230.7" width="1.0" height="1.0" fill-opacity="0.3"/>
<rect x="286.7" y="225.8" width="1.0" height="1.0" fill-opacity="0.3"/>
<rect x="289.7" y="223.0" width="1.0" height="1.0" fill-opacity="0.3"/>
<rect x="291.4" y="230.9" width="1.0" height="1.0" fill-opacity="0.3"/>
<rect x="284.8" y="211.6" width="1.0" height="1.0" fill-opacity="0.3"/>
<rect x="286.0" y="217.5" width="1.0" height="1.0" fill-opacity="0.3"/>
<rect x="289.7" y="219.6" width="1.0" height="1.0" fill-opacity="0.3"/>
<rect x="290.3" y="213.1" width="1.0" height="1.0" fill-opacity="0.3"/>
<rect x="289.8" y="223.8" width="1.0" height="1.0" fill-opacity="0.3"/>
<rect x="293.7" y="240.2" width="1.0" height="1.0" fill-opacity="0.3"/>
<rect x="285.5" y="240.3" width="1.0" height="1.0" fill-opacity="0.3"/>
<rect x="284.8" y="239.9" width="1.0" height="1.0" fill-opacity="0.3"/>
<rect x="286.4" y="205.7" width="1.0" height="1.0" fill-opacity="0.3"/>
<rect x="287.0" y="231.2" width="1.0" height="1.0" fill-opacity="0.3"/>
<rect x="287.3" y="227.7" width="1.0" height="1.0" fill-opacity="0.3"/>
<rect x="284.5" y="239.6" width="1.0" height="1.0" fill-opacity="0.3"/>
<rect x="289.1" y="217.6" width="1.0" height="1.0" fill-opacity="0.3"/>
<rect x="289.1" y="219.4" width="1.0" height="1.0" fill-opacity="0.3"/>
<rect x="288.4" y="212.8" width="1.0" height="1.0" fill-opacity="0.3"/>
<rect x="287.6" y="231.3" width="1.0" height="1.0" fill-opacity="0.3"/>
<rect x="289.1" y="230.7" width="1.0" height="1.0" fill-opacity="0.3"/>
<rect x="286.6" y="220.5" width="1.0" height="1.0" fill-opacity="0.3"/>
<rect x="287.4" y="226.3" width="1.0" height="1.0" fill-opacity="0.3"/>
<rect x="287.7" y="227.5" width="1.0" height="1.0" fill-opacity="0.3"/>
<rect x="289.3" y="212.4" width="1.0" height="1.0" fill-opacity="0.3"/>
<rect x="303.6" y="194.2" width="1.0" height="1.0" fill-opacity="0.5"/>
<rect x="305.2" y="196.3" width="1.0" height="1.0" fill-opacity="0.5"/>
<rect x="304.0" y="198.4" width="1.0" height="1.0" fill-opacity="0.5"/>
<rect x="307.5" y="195.5" width="1.0" height="1.0" fill-opacity="0.5"/>
<rect x="302.5" y="201.8" width="1.0" height="1.0" fill-opacity="0.5"/>
<rect x="257" y="183.2" width="59.2" height="59" fill="none" stroke="#555" stroke-width="0.9"/>
<line x1="257" y1="187.41" x2="258.3" y2="187.41" stroke="#444" stroke-width="0.7"/>
<line x1="261.23" y1="242.2" x2="261.23" y2="240.9" stroke="#444" stroke-width="0.7"/>
<line x1="257" y1="191.63" x2="258.3" y2="191.63" stroke="#444" stroke-width="0.7"/>
<line x1="265.46" y1="242.2" x2="265.46" y2="240.9" stroke="#444" stroke-width="0.7"/>
<line x1="257" y1="195.84" x2="258.3" y2="195.84" stroke="#444" stroke-width="0.7"/>
<line x1="269.69" y1="242.2" x2="269.69" y2="240.9" stroke="#444" stroke-width="0.7"/>
<line x1="257" y1="200.06" x2="258.3" y2="200.06" stroke="#444" stroke-width="0.7"/>
<line x1="273.91" y1="242.2" x2="273.91" y2="240.9" stroke="#444" stroke-width="0.7"/>
<line x1="257" y1="204.27" x2="258.3" y2="204.27" stroke="#444" stroke-width="0.7"/>
<line x1="278.14" y1="242.2" x2="278.14" y2="240.9" stroke="#444" stroke-width="0.7"/>
<line x1="257" y1="208.49" x2="258.3" y2="208.49" stroke="#444" stroke-width="0.7"/>
<line x1="282.37" y1="242.2" x2="282.37" y2="240.9" stroke="#444" stroke-width="0.7"/>
<line x1="257" y1="212.7" x2="258.3" y2="212.7" stroke="#444" stroke-width="0.7"/>
<line x1="286.6" y1="242.2" x2="286.6" y2="240.9" stroke="#444" stroke-width="0.7"/>
<line x1="257" y1="216.91" x2="258.3" y2="216.91" stroke="#444" stroke-width="0.7"/>
<line x1="290.83" y1="242.2" x2="290.83" y2="240.9" stroke="#444" stroke-width="0.7"/>
<line x1="257" y1="221.13" x2="258.3" y2="221.13" stroke="#444" stroke-width="0.7"/>
<line x1="295.06" y1="242.2" x2="295.06" y2="240.9" stroke="#444" stroke-width="0.7"/>
<line x1="257" y1="225.34" x2="258.3" y2="225.34" stroke="#444" stroke-width="0.7"/>
<line x1="299.29" y1="242.2" x2="299.29" y2="240.9" stroke="#444" stroke-width="0.7"/>
<line x1="257" y1="229.56" x2="258.3" y2="229.56" stroke="#444" stroke-width="0.7"/>
<line x1="303.51" y1="242.2" x2="303.51" y2="240.9" stroke="#444" stroke-width="0.7"/>
<line x1="257" y1="233.77" x2="258.3" y2="233.77" stroke="#444" stroke-width="0.7"/>
<line x1="307.74" y1="242.2" x2="307.74" y2="240.9" stroke="#444" stroke-width="0.7"/>
<line x1="257" y1="237.99" x2="258.3" y2="237.99" stroke="#444" stroke-width="0.7"/>
<line x1="311.97" y1="242.2" x2="311.97" y2="240.9" stroke="#444" stroke-width="0.7"/>
<rect x="297.6" y="188.3" width="16" height="20.3" fill="none" stroke="#111" stroke-width="1.3"/>
<text transform="translate(307 222.6) scale(1 1.04)" font-size="9.7" text-anchor="middle" fill="#000">2.1</text>
<rect x="356.3" y="238.2" width="1.0" height="1.0" fill-opacity="0.42"/>
<rect x="356.9" y="237.4" width="1.0" height="1.0" fill-opacity="0.42"/>
<rect x="359.7" y="218.5" width="1.0" height="1.0" fill-opacity="0.42"/>
<rect x="358.9" y="218.5" width="1.0" height="1.0" fill-opacity="0.42"/>
<rect x="355.7" y="226.5" width="1.0" height="1.0" fill-opacity="0.42"/>
<rect x="356.7" y="229.1" width="1.0" height="1.0" fill-opacity="0.42"/>
<rect x="353.7" y="212.8" width="1.0" height="1.0" fill-opacity="0.42"/>
<rect x="356.9" y="211.3" width="1.0" height="1.0" fill-opacity="0.42"/>
<rect x="359.4" y="223.9" width="1.0" height="1.0" fill-opacity="0.42"/>
<rect x="358.1" y="237.4" width="1.0" height="1.0" fill-opacity="0.42"/>
<rect x="356.4" y="228.4" width="1.0" height="1.0" fill-opacity="0.42"/>
<rect x="352.9" y="212.9" width="1.0" height="1.0" fill-opacity="0.42"/>
<rect x="357.1" y="240.9" width="1.0" height="1.0" fill-opacity="0.42"/>
<rect x="356.3" y="236.5" width="1.0" height="1.0" fill-opacity="0.42"/>
<rect x="360.0" y="223.4" width="1.0" height="1.0" fill-opacity="0.42"/>
<rect x="362.0" y="228.8" width="1.0" height="1.0" fill-opacity="0.42"/>
<rect x="359.4" y="235.0" width="1.0" height="1.0" fill-opacity="0.42"/>
<rect x="360.7" y="210.1" width="1.0" height="1.0" fill-opacity="0.42"/>
<rect x="356.9" y="217.9" width="1.0" height="1.0" fill-opacity="0.42"/>
<rect x="357.5" y="229.8" width="1.0" height="1.0" fill-opacity="0.42"/>
<rect x="356.0" y="217.0" width="1.0" height="1.0" fill-opacity="0.42"/>
<rect x="360.6" y="224.5" width="1.0" height="1.0" fill-opacity="0.42"/>
<rect x="354.4" y="238.1" width="1.0" height="1.0" fill-opacity="0.42"/>
<rect x="354.2" y="228.8" width="1.0" height="1.0" fill-opacity="0.42"/>
<rect x="358.0" y="238.9" width="1.0" height="1.0" fill-opacity="0.42"/>
<rect x="356.3" y="234.2" width="1.0" height="1.0" fill-opacity="0.42"/>
<rect x="357.5" y="221.7" width="1.0" height="1.0" fill-opacity="0.42"/>
<rect x="354.3" y="236.4" width="1.0" height="1.0" fill-opacity="0.42"/>
<rect x="354.2" y="213.3" width="1.0" height="1.0" fill-opacity="0.42"/>
<rect x="359.4" y="239.7" width="1.0" height="1.0" fill-opacity="0.42"/>
<rect x="359.9" y="233.5" width="1.0" height="1.0" fill-opacity="0.42"/>
<rect x="358.2" y="212.2" width="1.0" height="1.0" fill-opacity="0.42"/>
<rect x="357.5" y="228.4" width="1.0" height="1.0" fill-opacity="0.42"/>
<rect x="356.3" y="239.1" width="1.0" height="1.0" fill-opacity="0.42"/>
<rect x="357.2" y="232.1" width="1.0" height="1.0" fill-opacity="0.42"/>
<rect x="358.7" y="225.2" width="1.0" height="1.0" fill-opacity="0.42"/>
<rect x="356.4" y="236.7" width="1.0" height="1.0" fill-opacity="0.42"/>
<rect x="356.6" y="207.9" width="1.0" height="1.0" fill-opacity="0.42"/>
<rect x="357.7" y="212.7" width="1.0" height="1.0" fill-opacity="0.42"/>
<rect x="355.9" y="228.5" width="1.0" height="1.0" fill-opacity="0.42"/>
<rect x="356.3" y="219.9" width="1.0" height="1.0" fill-opacity="0.42"/>
<rect x="354.8" y="214.2" width="1.0" height="1.0" fill-opacity="0.42"/>
<rect x="354.4" y="237.8" width="1.0" height="1.0" fill-opacity="0.42"/>
<rect x="356.5" y="235.9" width="1.0" height="1.0" fill-opacity="0.42"/>
<rect x="358.9" y="239.7" width="1.0" height="1.0" fill-opacity="0.42"/>
<rect x="357.4" y="214.5" width="1.0" height="1.0" fill-opacity="0.42"/>
<rect x="360.0" y="226.9" width="1.0" height="1.0" fill-opacity="0.42"/>
<rect x="353.7" y="208.9" width="1.0" height="1.0" fill-opacity="0.42"/>
<rect x="358.8" y="215.8" width="1.0" height="1.0" fill-opacity="0.42"/>
<rect x="354.0" y="223.4" width="1.0" height="1.0" fill-opacity="0.42"/>
<rect x="359.6" y="226.1" width="1.0" height="1.0" fill-opacity="0.42"/>
<rect x="361.0" y="223.4" width="1.0" height="1.0" fill-opacity="0.42"/>
<rect x="356.6" y="237.7" width="1.0" height="1.0" fill-opacity="0.42"/>
<rect x="356.6" y="221.3" width="1.0" height="1.0" fill-opacity="0.42"/>
<rect x="359.8" y="217.1" width="1.0" height="1.0" fill-opacity="0.42"/>
<rect x="355.0" y="209.4" width="1.0" height="1.0" fill-opacity="0.42"/>
<rect x="355.3" y="215.3" width="1.0" height="1.0" fill-opacity="0.42"/>
<rect x="359.1" y="229.2" width="1.0" height="1.0" fill-opacity="0.42"/>
<rect x="357.0" y="223.3" width="1.0" height="1.0" fill-opacity="0.42"/>
<rect x="357.4" y="229.3" width="1.0" height="1.0" fill-opacity="0.42"/>
<rect x="359.8" y="221.4" width="1.0" height="1.0" fill-opacity="0.42"/>
<rect x="357.5" y="240.7" width="1.0" height="1.0" fill-opacity="0.42"/>
<rect x="359.7" y="209.5" width="1.0" height="1.0" fill-opacity="0.42"/>
<rect x="360.1" y="219.2" width="1.0" height="1.0" fill-opacity="0.42"/>
<rect x="355.3" y="219.3" width="1.0" height="1.0" fill-opacity="0.42"/>
<rect x="357.2" y="229.0" width="1.0" height="1.0" fill-opacity="0.42"/>
<rect x="363.8" y="227.7" width="1.0" height="1.0" fill-opacity="0.42"/>
<rect x="355.0" y="208.8" width="1.0" height="1.0" fill-opacity="0.42"/>
<rect x="357.8" y="228.7" width="1.0" height="1.0" fill-opacity="0.42"/>
<rect x="353.2" y="235.0" width="1.0" height="1.0" fill-opacity="0.42"/>
<rect x="355.9" y="230.9" width="1.0" height="1.0" fill-opacity="0.42"/>
<rect x="355.5" y="219.6" width="1.0" height="1.0" fill-opacity="0.42"/>
<rect x="360.4" y="235.6" width="1.0" height="1.0" fill-opacity="0.42"/>
<rect x="353.7" y="232.3" width="1.0" height="1.0" fill-opacity="0.42"/>
<rect x="357.5" y="220.4" width="1.0" height="1.0" fill-opacity="0.42"/>
<rect x="353.6" y="227.1" width="1.0" height="1.0" fill-opacity="0.42"/>
<rect x="355.6" y="231.0" width="1.0" height="1.0" fill-opacity="0.42"/>
<rect x="359.6" y="223.9" width="1.0" height="1.0" fill-opacity="0.42"/>
<rect x="356.0" y="210.3" width="1.0" height="1.0" fill-opacity="0.42"/>
<rect x="358.6" y="240.8" width="1.0" height="1.0" fill-opacity="0.42"/>
<rect x="356.1" y="226.3" width="1.0" height="1.0" fill-opacity="0.42"/>
<rect x="358.6" y="217.8" width="1.0" height="1.0" fill-opacity="0.42"/>
<rect x="357.4" y="221.9" width="1.0" height="1.0" fill-opacity="0.42"/>
<rect x="357.4" y="237.6" width="1.0" height="1.0" fill-opacity="0.42"/>
<rect x="354.4" y="225.4" width="1.0" height="1.0" fill-opacity="0.42"/>
<rect x="358.3" y="220.3" width="1.0" height="1.0" fill-opacity="0.42"/>
<rect x="359.2" y="215.2" width="1.0" height="1.0" fill-opacity="0.42"/>
<rect x="358.0" y="220.5" width="1.0" height="1.0" fill-opacity="0.42"/>
<rect x="352.7" y="233.6" width="1.0" height="1.0" fill-opacity="0.42"/>
<rect x="355.4" y="221.6" width="1.0" height="1.0" fill-opacity="0.42"/>
<rect x="356.5" y="239.0" width="1.0" height="1.0" fill-opacity="0.42"/>
<rect x="356.7" y="215.6" width="1.0" height="1.0" fill-opacity="0.42"/>
<rect x="359.2" y="229.3" width="1.0" height="1.0" fill-opacity="0.42"/>
<rect x="357.1" y="235.0" width="1.0" height="1.0" fill-opacity="0.42"/>
<rect x="357.8" y="224.6" width="1.0" height="1.0" fill-opacity="0.42"/>
<rect x="356.6" y="226.4" width="1.0" height="1.0" fill-opacity="0.42"/>
<rect x="357.0" y="238.4" width="1.0" height="1.0" fill-opacity="0.42"/>
<rect x="359.3" y="208.1" width="1.0" height="1.0" fill-opacity="0.42"/>
<rect x="356.7" y="215.1" width="1.0" height="1.0" fill-opacity="0.42"/>
<rect x="361.1" y="217.2" width="1.0" height="1.0" fill-opacity="0.42"/>
<rect x="358.2" y="223.6" width="1.0" height="1.0" fill-opacity="0.42"/>
<rect x="359.7" y="237.5" width="1.0" height="1.0" fill-opacity="0.42"/>
<rect x="358.3" y="231.4" width="1.0" height="1.0" fill-opacity="0.42"/>
<rect x="360.0" y="240.1" width="1.0" height="1.0" fill-opacity="0.42"/>
<rect x="360.6" y="230.0" width="1.0" height="1.0" fill-opacity="0.42"/>
<rect x="358.9" y="237.8" width="1.0" height="1.0" fill-opacity="0.42"/>
<rect x="358.2" y="221.7" width="1.0" height="1.0" fill-opacity="0.42"/>
<rect x="358.3" y="228.0" width="1.0" height="1.0" fill-opacity="0.42"/>
<rect x="354.5" y="237.8" width="1.0" height="1.0" fill-opacity="0.42"/>
<rect x="352.8" y="217.0" width="1.0" height="1.0" fill-opacity="0.42"/>
<rect x="357.2" y="221.2" width="1.0" height="1.0" fill-opacity="0.42"/>
<rect x="353.8" y="223.8" width="1.0" height="1.0" fill-opacity="0.42"/>
<rect x="356.8" y="232.3" width="1.0" height="1.0" fill-opacity="0.42"/>
<rect x="357.9" y="224.1" width="1.0" height="1.0" fill-opacity="0.42"/>
<rect x="355.5" y="209.5" width="1.0" height="1.0" fill-opacity="0.42"/>
<rect x="355.8" y="226.7" width="1.0" height="1.0" fill-opacity="0.42"/>
<rect x="357.1" y="229.9" width="1.0" height="1.0" fill-opacity="0.42"/>
<rect x="360.2" y="207.4" width="1.0" height="1.0" fill-opacity="0.42"/>
<rect x="352.1" y="239.1" width="1.0" height="1.0" fill-opacity="0.42"/>
<rect x="354.1" y="210.0" width="1.0" height="1.0" fill-opacity="0.42"/>
<rect x="356.9" y="230.3" width="1.0" height="1.0" fill-opacity="0.42"/>
<rect x="354.8" y="211.9" width="1.0" height="1.0" fill-opacity="0.42"/>
<rect x="360.0" y="214.7" width="1.0" height="1.0" fill-opacity="0.42"/>
<rect x="360.8" y="211.8" width="1.0" height="1.0" fill-opacity="0.42"/>
<rect x="355.1" y="236.1" width="1.0" height="1.0" fill-opacity="0.42"/>
<rect x="358.4" y="229.6" width="1.0" height="1.0" fill-opacity="0.42"/>
<rect x="355.6" y="228.6" width="1.0" height="1.0" fill-opacity="0.42"/>
<rect x="354.5" y="221.3" width="1.0" height="1.0" fill-opacity="0.42"/>
<rect x="357.0" y="234.0" width="1.0" height="1.0" fill-opacity="0.42"/>
<rect x="360.3" y="234.7" width="1.0" height="1.0" fill-opacity="0.42"/>
<rect x="356.0" y="235.0" width="1.0" height="1.0" fill-opacity="0.42"/>
<rect x="360.1" y="240.5" width="1.0" height="1.0" fill-opacity="0.42"/>
<rect x="356.7" y="225.4" width="1.0" height="1.0" fill-opacity="0.42"/>
<rect x="359.4" y="239.5" width="1.0" height="1.0" fill-opacity="0.42"/>
<rect x="360.2" y="213.7" width="1.0" height="1.0" fill-opacity="0.42"/>
<rect x="357.3" y="231.6" width="1.0" height="1.0" fill-opacity="0.42"/>
<rect x="353.3" y="235.0" width="1.0" height="1.0" fill-opacity="0.42"/>
<rect x="362.9" y="217.6" width="1.0" height="1.0" fill-opacity="0.42"/>
<rect x="357.6" y="234.5" width="1.0" height="1.0" fill-opacity="0.42"/>
<rect x="357.5" y="213.8" width="1.0" height="1.0" fill-opacity="0.42"/>
<rect x="353.8" y="210.3" width="1.0" height="1.0" fill-opacity="0.42"/>
<rect x="357.2" y="215.8" width="1.0" height="1.0" fill-opacity="0.42"/>
<rect x="356.5" y="239.5" width="1.0" height="1.0" fill-opacity="0.42"/>
<rect x="358.3" y="215.6" width="1.0" height="1.0" fill-opacity="0.42"/>
<rect x="358.3" y="233.9" width="1.0" height="1.0" fill-opacity="0.42"/>
<rect x="356.4" y="208.5" width="1.0" height="1.0" fill-opacity="0.42"/>
<rect x="357.5" y="235.1" width="1.0" height="1.0" fill-opacity="0.42"/>
<rect x="363.5" y="226.8" width="1.0" height="1.0" fill-opacity="0.42"/>
<rect x="355.1" y="231.0" width="1.0" height="1.0" fill-opacity="0.42"/>
<rect x="360.6" y="225.6" width="1.0" height="1.0" fill-opacity="0.42"/>
<rect x="358.1" y="221.1" width="1.0" height="1.0" fill-opacity="0.42"/>
<rect x="356.7" y="233.8" width="1.0" height="1.0" fill-opacity="0.42"/>
<rect x="355.5" y="210.5" width="1.0" height="1.0" fill-opacity="0.42"/>
<rect x="355.7" y="237.5" width="1.0" height="1.0" fill-opacity="0.42"/>
<rect x="354.6" y="210.3" width="1.0" height="1.0" fill-opacity="0.42"/>
<rect x="356.4" y="238.9" width="1.0" height="1.0" fill-opacity="0.42"/>
<rect x="356.3" y="239.6" width="1.0" height="1.0" fill-opacity="0.42"/>
<rect x="355.9" y="218.5" width="1.0" height="1.0" fill-opacity="0.42"/>
<rect x="355.6" y="218.9" width="1.0" height="1.0" fill-opacity="0.42"/>
<rect x="357.9" y="216.6" width="1.0" height="1.0" fill-opacity="0.42"/>
<rect x="356.2" y="234.5" width="1.0" height="1.0" fill-opacity="0.42"/>
<rect x="356.0" y="241.0" width="1.0" height="1.0" fill-opacity="0.42"/>
<rect x="355.9" y="217.1" width="1.0" height="1.0" fill-opacity="0.42"/>
<rect x="356.7" y="237.4" width="1.0" height="1.0" fill-opacity="0.42"/>
<rect x="356.9" y="237.6" width="1.0" height="1.0" fill-opacity="0.42"/>
<rect x="360.4" y="236.3" width="1.0" height="1.0" fill-opacity="0.42"/>
<rect x="355.8" y="219.6" width="1.0" height="1.0" fill-opacity="0.42"/>
<rect x="359.1" y="238.2" width="1.0" height="1.0" fill-opacity="0.42"/>
<rect x="355.8" y="214.9" width="1.0" height="1.0" fill-opacity="0.42"/>
<rect x="354.4" y="225.4" width="1.0" height="1.0" fill-opacity="0.42"/>
<rect x="358.3" y="229.3" width="1.0" height="1.0" fill-opacity="0.42"/>
<rect x="356.3" y="238.0" width="1.0" height="1.0" fill-opacity="0.42"/>
<rect x="358.1" y="222.3" width="1.0" height="1.0" fill-opacity="0.42"/>
<rect x="352.2" y="215.8" width="1.0" height="1.0" fill-opacity="0.42"/>
<rect x="358.8" y="237.5" width="1.0" height="1.0" fill-opacity="0.42"/>
<rect x="357.1" y="208.2" width="1.0" height="1.0" fill-opacity="0.42"/>
<rect x="357.6" y="212.8" width="1.0" height="1.0" fill-opacity="0.42"/>
<rect x="357.2" y="238.7" width="1.0" height="1.0" fill-opacity="0.42"/>
<rect x="357.1" y="214.5" width="1.0" height="1.0" fill-opacity="0.42"/>
<rect x="356.0" y="215.2" width="1.0" height="1.0" fill-opacity="0.42"/>
<rect x="358.8" y="232.4" width="1.0" height="1.0" fill-opacity="0.42"/>
<rect x="358.1" y="238.9" width="1.0" height="1.0" fill-opacity="0.42"/>
<rect x="361.4" y="233.3" width="1.0" height="1.0" fill-opacity="0.42"/>
<rect x="352.1" y="208.7" width="1.0" height="1.0" fill-opacity="0.42"/>
<rect x="358.2" y="217.8" width="1.0" height="1.0" fill-opacity="0.42"/>
<rect x="353.2" y="209.0" width="1.0" height="1.0" fill-opacity="0.42"/>
<rect x="357.5" y="227.0" width="1.0" height="1.0" fill-opacity="0.42"/>
<rect x="360.0" y="212.5" width="1.0" height="1.0" fill-opacity="0.42"/>
<rect x="359.6" y="207.9" width="1.0" height="1.0" fill-opacity="0.42"/>
<rect x="357.1" y="237.9" width="1.0" height="1.0" fill-opacity="0.42"/>
<rect x="355.8" y="213.2" width="1.0" height="1.0" fill-opacity="0.42"/>
<rect x="357.3" y="224.6" width="1.0" height="1.0" fill-opacity="0.42"/>
<rect x="356.6" y="215.7" width="1.0" height="1.0" fill-opacity="0.42"/>
<rect x="356.2" y="234.0" width="1.0" height="1.0" fill-opacity="0.42"/>
<rect x="358.8" y="226.9" width="1.0" height="1.0" fill-opacity="0.42"/>
<rect x="358.6" y="226.8" width="1.0" height="1.0" fill-opacity="0.42"/>
<rect x="356.4" y="238.9" width="1.0" height="1.0" fill-opacity="0.42"/>
<rect x="358.2" y="240.2" width="1.0" height="1.0" fill-opacity="0.42"/>
<rect x="357.0" y="238.0" width="1.0" height="1.0" fill-opacity="0.42"/>
<rect x="355.2" y="215.6" width="1.0" height="1.0" fill-opacity="0.42"/>
<rect x="357.9" y="219.0" width="1.0" height="1.0" fill-opacity="0.42"/>
<rect x="357.5" y="227.1" width="1.0" height="1.0" fill-opacity="0.42"/>
<rect x="355.1" y="223.9" width="1.0" height="1.0" fill-opacity="0.42"/>
<rect x="356.3" y="207.2" width="1.0" height="1.0" fill-opacity="0.42"/>
<rect x="355.7" y="232.5" width="1.0" height="1.0" fill-opacity="0.42"/>
<rect x="355.0" y="228.4" width="1.0" height="1.0" fill-opacity="0.42"/>
<rect x="361.4" y="232.6" width="1.0" height="1.0" fill-opacity="0.42"/>
<rect x="356.7" y="233.4" width="1.0" height="1.0" fill-opacity="0.42"/>
<rect x="356.2" y="223.6" width="1.0" height="1.0" fill-opacity="0.42"/>
<rect x="358.9" y="240.4" width="1.0" height="1.0" fill-opacity="0.42"/>
<rect x="355.4" y="223.2" width="1.0" height="1.0" fill-opacity="0.42"/>
<rect x="359.0" y="214.2" width="1.0" height="1.0" fill-opacity="0.42"/>
<rect x="359.7" y="241.1" width="1.0" height="1.0" fill-opacity="0.42"/>
<rect x="357.3" y="239.1" width="1.0" height="1.0" fill-opacity="0.42"/>
<rect x="355.4" y="218.6" width="1.0" height="1.0" fill-opacity="0.42"/>
<rect x="355.6" y="218.1" width="1.0" height="1.0" fill-opacity="0.42"/>
<rect x="360.8" y="216.4" width="1.0" height="1.0" fill-opacity="0.42"/>
<rect x="359.7" y="235.2" width="1.0" height="1.0" fill-opacity="0.42"/>
<rect x="359.9" y="238.7" width="1.0" height="1.0" fill-opacity="0.42"/>
<rect x="358.3" y="221.1" width="1.0" height="1.0" fill-opacity="0.42"/>
<rect x="355.5" y="231.3" width="1.0" height="1.0" fill-opacity="0.42"/>
<rect x="356.7" y="240.4" width="1.0" height="1.0" fill-opacity="0.42"/>
<rect x="357.1" y="206.2" width="1.0" height="1.0" fill-opacity="0.42"/>
<rect x="352.9" y="227.2" width="1.0" height="1.0" fill-opacity="0.42"/>
<rect x="358.8" y="229.7" width="1.0" height="1.0" fill-opacity="0.42"/>
<rect x="357.1" y="230.8" width="1.0" height="1.0" fill-opacity="0.42"/>
<rect x="354.9" y="234.1" width="1.0" height="1.0" fill-opacity="0.42"/>
<rect x="359.7" y="223.4" width="1.0" height="1.0" fill-opacity="0.42"/>
<rect x="354.7" y="227.7" width="1.0" height="1.0" fill-opacity="0.42"/>
<rect x="354.8" y="221.0" width="1.0" height="1.0" fill-opacity="0.42"/>
<rect x="355.8" y="230.8" width="1.0" height="1.0" fill-opacity="0.42"/>
<rect x="356.8" y="230.3" width="1.0" height="1.0" fill-opacity="0.42"/>
<rect x="359.5" y="219.0" width="1.0" height="1.0" fill-opacity="0.42"/>
<rect x="356.0" y="233.5" width="1.0" height="1.0" fill-opacity="0.42"/>
<rect x="355.7" y="227.6" width="1.0" height="1.0" fill-opacity="0.42"/>
<rect x="357.5" y="214.1" width="1.0" height="1.0" fill-opacity="0.42"/>
<rect x="355.0" y="239.2" width="1.0" height="1.0" fill-opacity="0.42"/>
<rect x="356.7" y="227.7" width="1.0" height="1.0" fill-opacity="0.42"/>
<rect x="357.3" y="236.1" width="1.0" height="1.0" fill-opacity="0.42"/>
<rect x="358.4" y="236.3" width="1.0" height="1.0" fill-opacity="0.42"/>
<rect x="354.5" y="225.6" width="1.0" height="1.0" fill-opacity="0.42"/>
<rect x="354.5" y="238.3" width="1.0" height="1.0" fill-opacity="0.42"/>
<rect x="359.0" y="237.6" width="1.0" height="1.0" fill-opacity="0.42"/>
<rect x="357.7" y="236.6" width="1.0" height="1.0" fill-opacity="0.42"/>
<rect x="358.0" y="236.2" width="1.0" height="1.0" fill-opacity="0.42"/>
<rect x="358.2" y="218.5" width="1.0" height="1.0" fill-opacity="0.42"/>
<rect x="354.2" y="212.4" width="1.0" height="1.0" fill-opacity="0.42"/>
<rect x="360.3" y="227.5" width="1.0" height="1.0" fill-opacity="0.42"/>
<rect x="359.1" y="225.4" width="1.0" height="1.0" fill-opacity="0.42"/>
<rect x="358.1" y="241.0" width="1.0" height="1.0" fill-opacity="0.42"/>
<rect x="355.0" y="232.7" width="1.0" height="1.0" fill-opacity="0.42"/>
<rect x="357.9" y="235.6" width="1.0" height="1.0" fill-opacity="0.42"/>
<rect x="359.0" y="234.5" width="1.0" height="1.0" fill-opacity="0.42"/>
<rect x="360.1" y="222.5" width="1.0" height="1.0" fill-opacity="0.42"/>
<rect x="357.4" y="227.5" width="1.0" height="1.0" fill-opacity="0.42"/>
<rect x="359.5" y="221.6" width="1.0" height="1.0" fill-opacity="0.42"/>
<rect x="358.8" y="223.0" width="1.0" height="1.0" fill-opacity="0.42"/>
<rect x="357.4" y="229.0" width="1.0" height="1.0" fill-opacity="0.42"/>
<rect x="359.1" y="210.1" width="1.0" height="1.0" fill-opacity="0.42"/>
<rect x="360.7" y="219.3" width="1.0" height="1.0" fill-opacity="0.42"/>
<rect x="357.4" y="221.1" width="1.0" height="1.0" fill-opacity="0.42"/>
<rect x="362.3" y="211.8" width="1.0" height="1.0" fill-opacity="0.42"/>
<rect x="358.1" y="231.0" width="1.0" height="1.0" fill-opacity="0.42"/>
<rect x="356.0" y="224.4" width="1.0" height="1.0" fill-opacity="0.42"/>
<rect x="355.8" y="235.5" width="1.0" height="1.0" fill-opacity="0.42"/>
<rect x="355.4" y="209.4" width="1.0" height="1.0" fill-opacity="0.42"/>
<rect x="354.8" y="225.0" width="1.0" height="1.0" fill-opacity="0.42"/>
<rect x="360.0" y="220.1" width="1.0" height="1.0" fill-opacity="0.42"/>
<rect x="354.7" y="223.9" width="1.0" height="1.0" fill-opacity="0.42"/>
<rect x="353.7" y="222.1" width="1.0" height="1.0" fill-opacity="0.42"/>
<rect x="352.5" y="223.2" width="1.0" height="1.0" fill-opacity="0.42"/>
<rect x="354.5" y="216.2" width="1.0" height="1.0" fill-opacity="0.42"/>
<rect x="356.8" y="240.3" width="1.0" height="1.0" fill-opacity="0.42"/>
<rect x="355.3" y="231.9" width="1.0" height="1.0" fill-opacity="0.42"/>
<rect x="360.8" y="221.3" width="1.0" height="1.0" fill-opacity="0.42"/>
<rect x="358.9" y="223.0" width="1.0" height="1.0" fill-opacity="0.42"/>
<rect x="352.5" y="227.7" width="1.0" height="1.0" fill-opacity="0.42"/>
<rect x="357.3" y="234.5" width="1.0" height="1.0" fill-opacity="0.42"/>
<rect x="354.7" y="208.2" width="1.0" height="1.0" fill-opacity="0.42"/>
<rect x="355.8" y="225.7" width="1.0" height="1.0" fill-opacity="0.42"/>
<rect x="355.3" y="236.8" width="1.0" height="1.0" fill-opacity="0.42"/>
<rect x="358.3" y="238.2" width="1.0" height="1.0" fill-opacity="0.42"/>
<rect x="354.5" y="225.0" width="1.0" height="1.0" fill-opacity="0.42"/>
<rect x="357.3" y="236.4" width="1.0" height="1.0" fill-opacity="0.42"/>
<rect x="357.1" y="232.0" width="1.0" height="1.0" fill-opacity="0.42"/>
<rect x="354.5" y="209.2" width="1.0" height="1.0" fill-opacity="0.42"/>
<rect x="353.9" y="232.3" width="1.0" height="1.0" fill-opacity="0.42"/>
<rect x="356.1" y="234.8" width="1.0" height="1.0" fill-opacity="0.42"/>
<rect x="357.4" y="213.1" width="1.0" height="1.0" fill-opacity="0.42"/>
<rect x="358.0" y="236.2" width="1.0" height="1.0" fill-opacity="0.42"/>
<rect x="361.0" y="212.3" width="1.0" height="1.0" fill-opacity="0.42"/>
<rect x="359.1" y="228.9" width="1.0" height="1.0" fill-opacity="0.42"/>
<rect x="355.4" y="210.0" width="1.0" height="1.0" fill-opacity="0.42"/>
<rect x="354.0" y="226.3" width="1.0" height="1.0" fill-opacity="0.42"/>
<rect x="356.2" y="210.0" width="1.0" height="1.0" fill-opacity="0.42"/>
<rect x="355.1" y="229.4" width="1.0" height="1.0" fill-opacity="0.42"/>
<rect x="358.7" y="241.0" width="1.0" height="1.0" fill-opacity="0.42"/>
<rect x="352.4" y="214.3" width="1.0" height="1.0" fill-opacity="0.42"/>
<rect x="356.9" y="221.4" width="1.0" height="1.0" fill-opacity="0.42"/>
<rect x="357.2" y="240.8" width="1.0" height="1.0" fill-opacity="0.42"/>
<rect x="357.0" y="219.3" width="1.0" height="1.0" fill-opacity="0.42"/>
<rect x="359.3" y="218.6" width="1.0" height="1.0" fill-opacity="0.42"/>
<rect x="355.1" y="237.3" width="1.0" height="1.0" fill-opacity="0.42"/>
<rect x="356.3" y="224.3" width="1.0" height="1.0" fill-opacity="0.42"/>
<rect x="355.4" y="209.8" width="1.0" height="1.0" fill-opacity="0.42"/>
<rect x="360.9" y="235.7" width="1.0" height="1.0" fill-opacity="0.42"/>
<rect x="357.1" y="237.3" width="1.0" height="1.0" fill-opacity="0.42"/>
<rect x="359.0" y="209.8" width="1.0" height="1.0" fill-opacity="0.42"/>
<rect x="355.5" y="228.0" width="1.0" height="1.0" fill-opacity="0.42"/>
<rect x="359.0" y="226.5" width="1.0" height="1.0" fill-opacity="0.42"/>
<rect x="354.6" y="229.4" width="1.0" height="1.0" fill-opacity="0.42"/>
<rect x="360.6" y="216.5" width="1.0" height="1.0" fill-opacity="0.42"/>
<rect x="356.6" y="239.0" width="1.0" height="1.0" fill-opacity="0.42"/>
<rect x="356.9" y="220.7" width="1.0" height="1.0" fill-opacity="0.42"/>
<rect x="354.8" y="227.9" width="1.0" height="1.0" fill-opacity="0.42"/>
<rect x="358.9" y="221.1" width="1.0" height="1.0" fill-opacity="0.42"/>
<rect x="357.8" y="219.3" width="1.0" height="1.0" fill-opacity="0.42"/>
<rect x="355.6" y="233.2" width="1.0" height="1.0" fill-opacity="0.42"/>
<rect x="355.4" y="235.8" width="1.0" height="1.0" fill-opacity="0.42"/>
<rect x="356.1" y="239.4" width="1.0" height="1.0" fill-opacity="0.42"/>
<rect x="357.8" y="225.1" width="1.0" height="1.0" fill-opacity="0.42"/>
<rect x="356.7" y="224.8" width="1.0" height="1.0" fill-opacity="0.42"/>
<rect x="361.2" y="231.1" width="1.0" height="1.0" fill-opacity="0.42"/>
<rect x="358.8" y="210.9" width="1.0" height="1.0" fill-opacity="0.42"/>
<rect x="359.3" y="229.8" width="1.0" height="1.0" fill-opacity="0.42"/>
<rect x="361.6" y="228.8" width="1.0" height="1.0" fill-opacity="0.42"/>
<rect x="354.3" y="235.7" width="1.0" height="1.0" fill-opacity="0.42"/>
<rect x="357.2" y="232.1" width="1.0" height="1.0" fill-opacity="0.42"/>
<rect x="358.3" y="220.0" width="1.0" height="1.0" fill-opacity="0.42"/>
<rect x="362.0" y="214.3" width="1.0" height="1.0" fill-opacity="0.42"/>
<rect x="357.4" y="238.9" width="1.0" height="1.0" fill-opacity="0.42"/>
<rect x="358.4" y="212.0" width="1.0" height="1.0" fill-opacity="0.42"/>
<rect x="359.1" y="235.3" width="1.0" height="1.0" fill-opacity="0.42"/>
<rect x="356.5" y="231.7" width="1.0" height="1.0" fill-opacity="0.42"/>
<rect x="360.3" y="218.7" width="1.0" height="1.0" fill-opacity="0.42"/>
<rect x="355.0" y="214.7" width="1.0" height="1.0" fill-opacity="0.42"/>
<rect x="356.9" y="210.1" width="1.0" height="1.0" fill-opacity="0.42"/>
<rect x="356.7" y="236.7" width="1.0" height="1.0" fill-opacity="0.42"/>
<rect x="357.5" y="220.0" width="1.0" height="1.0" fill-opacity="0.42"/>
<rect x="360.4" y="220.9" width="1.0" height="1.0" fill-opacity="0.42"/>
<rect x="359.9" y="228.7" width="1.0" height="1.0" fill-opacity="0.42"/>
<rect x="361.6" y="221.1" width="1.0" height="1.0" fill-opacity="0.42"/>
<rect x="359.2" y="236.8" width="1.0" height="1.0" fill-opacity="0.42"/>
<rect x="359.9" y="240.6" width="1.0" height="1.0" fill-opacity="0.42"/>
<rect x="359.4" y="223.4" width="1.0" height="1.0" fill-opacity="0.42"/>
<rect x="357.6" y="231.1" width="1.0" height="1.0" fill-opacity="0.42"/>
<rect x="356.1" y="217.4" width="1.0" height="1.0" fill-opacity="0.42"/>
<rect x="356.9" y="225.7" width="1.0" height="1.0" fill-opacity="0.42"/>
<rect x="354.4" y="233.7" width="1.0" height="1.0" fill-opacity="0.42"/>
<rect x="358.9" y="212.9" width="1.0" height="1.0" fill-opacity="0.42"/>
<rect x="360.4" y="236.5" width="1.0" height="1.0" fill-opacity="0.42"/>
<rect x="360.0" y="241.0" width="1.0" height="1.0" fill-opacity="0.42"/>
<rect x="355.7" y="239.5" width="1.0" height="1.0" fill-opacity="0.42"/>
<rect x="356.9" y="221.9" width="1.0" height="1.0" fill-opacity="0.42"/>
<rect x="352.6" y="234.3" width="1.0" height="1.0" fill-opacity="0.42"/>
<rect x="357.3" y="211.9" width="1.0" height="1.0" fill-opacity="0.42"/>
<rect x="359.2" y="226.4" width="1.0" height="1.0" fill-opacity="0.42"/>
<rect x="355.0" y="228.1" width="1.0" height="1.0" fill-opacity="0.42"/>
<rect x="358.6" y="211.7" width="1.0" height="1.0" fill-opacity="0.42"/>
<rect x="358.4" y="238.2" width="1.0" height="1.0" fill-opacity="0.42"/>
<rect x="357.8" y="236.9" width="1.0" height="1.0" fill-opacity="0.42"/>
<rect x="363.3" y="208.7" width="1.0" height="1.0" fill-opacity="0.42"/>
<rect x="359.1" y="229.9" width="1.0" height="1.0" fill-opacity="0.42"/>
<rect x="356.9" y="239.6" width="1.0" height="1.0" fill-opacity="0.42"/>
<rect x="359.0" y="231.6" width="1.0" height="1.0" fill-opacity="0.42"/>
<rect x="357.8" y="225.3" width="1.0" height="1.0" fill-opacity="0.42"/>
<rect x="357.1" y="218.3" width="1.0" height="1.0" fill-opacity="0.42"/>
<rect x="356.0" y="235.3" width="1.0" height="1.0" fill-opacity="0.42"/>
<rect x="360.0" y="220.2" width="1.0" height="1.0" fill-opacity="0.42"/>
<rect x="358.6" y="212.0" width="1.0" height="1.0" fill-opacity="0.42"/>
<rect x="357.9" y="228.5" width="1.0" height="1.0" fill-opacity="0.42"/>
<rect x="354.2" y="225.7" width="1.0" height="1.0" fill-opacity="0.42"/>
<rect x="356.0" y="208.8" width="1.0" height="1.0" fill-opacity="0.42"/>
<rect x="357.1" y="231.3" width="1.0" height="1.0" fill-opacity="0.42"/>
<rect x="355.0" y="213.7" width="1.0" height="1.0" fill-opacity="0.42"/>
<rect x="356.2" y="222.8" width="1.0" height="1.0" fill-opacity="0.42"/>
<rect x="357.9" y="231.8" width="1.0" height="1.0" fill-opacity="0.42"/>
<rect x="358.2" y="239.5" width="1.0" height="1.0" fill-opacity="0.42"/>
<rect x="359.9" y="221.3" width="1.0" height="1.0" fill-opacity="0.42"/>
<rect x="353.4" y="226.2" width="1.0" height="1.0" fill-opacity="0.42"/>
<rect x="361.6" y="214.4" width="1.0" height="1.0" fill-opacity="0.42"/>
<rect x="360.2" y="213.0" width="1.0" height="1.0" fill-opacity="0.42"/>
<rect x="356.1" y="226.7" width="1.0" height="1.0" fill-opacity="0.42"/>
<rect x="356.9" y="225.9" width="1.0" height="1.0" fill-opacity="0.42"/>
<rect x="354.2" y="215.0" width="1.0" height="1.0" fill-opacity="0.42"/>
<rect x="356.6" y="222.5" width="1.0" height="1.0" fill-opacity="0.42"/>
<rect x="355.8" y="216.4" width="1.0" height="1.0" fill-opacity="0.42"/>
<rect x="358.2" y="213.5" width="1.0" height="1.0" fill-opacity="0.42"/>
<rect x="359.2" y="218.0" width="1.0" height="1.0" fill-opacity="0.42"/>
<rect x="355.6" y="238.2" width="1.0" height="1.0" fill-opacity="0.42"/>
<rect x="360.1" y="207.5" width="1.0" height="1.0" fill-opacity="0.42"/>
<rect x="356.4" y="235.4" width="1.0" height="1.0" fill-opacity="0.42"/>
<rect x="356.6" y="229.0" width="1.0" height="1.0" fill-opacity="0.42"/>
<rect x="355.9" y="234.3" width="1.0" height="1.0" fill-opacity="0.42"/>
<rect x="357.1" y="214.6" width="1.0" height="1.0" fill-opacity="0.42"/>
<rect x="357.8" y="223.4" width="1.0" height="1.0" fill-opacity="0.42"/>
<rect x="356.0" y="227.4" width="1.0" height="1.0" fill-opacity="0.42"/>
<rect x="362.7" y="211.5" width="1.0" height="1.0" fill-opacity="0.42"/>
<rect x="357.5" y="229.3" width="1.0" height="1.0" fill-opacity="0.42"/>
<rect x="359.8" y="235.2" width="1.0" height="1.0" fill-opacity="0.42"/>
<rect x="359.4" y="231.3" width="1.0" height="1.0" fill-opacity="0.3"/>
<rect x="358.1" y="227.2" width="1.0" height="1.0" fill-opacity="0.3"/>
<rect x="361.9" y="240.5" width="1.0" height="1.0" fill-opacity="0.3"/>
<rect x="358.3" y="230.6" width="1.0" height="1.0" fill-opacity="0.3"/>
<rect x="353.9" y="234.9" width="1.0" height="1.0" fill-opacity="0.3"/>
<rect x="361.5" y="221.8" width="1.0" height="1.0" fill-opacity="0.3"/>
<rect x="365.3" y="238.5" width="1.0" height="1.0" fill-opacity="0.3"/>
<rect x="357.6" y="219.8" width="1.0" height="1.0" fill-opacity="0.3"/>
<rect x="359.0" y="219.6" width="1.0" height="1.0" fill-opacity="0.3"/>
<rect x="358.5" y="232.1" width="1.0" height="1.0" fill-opacity="0.3"/>
<rect x="358.9" y="230.1" width="1.0" height="1.0" fill-opacity="0.3"/>
<rect x="358.9" y="206.7" width="1.0" height="1.0" fill-opacity="0.3"/>
<rect x="357.6" y="209.8" width="1.0" height="1.0" fill-opacity="0.3"/>
<rect x="360.3" y="240.3" width="1.0" height="1.0" fill-opacity="0.3"/>
<rect x="358.2" y="241.0" width="1.0" height="1.0" fill-opacity="0.3"/>
<rect x="354.0" y="223.3" width="1.0" height="1.0" fill-opacity="0.3"/>
<rect x="361.7" y="233.7" width="1.0" height="1.0" fill-opacity="0.3"/>
<rect x="354.4" y="228.6" width="1.0" height="1.0" fill-opacity="0.3"/>
<rect x="353.9" y="209.9" width="1.0" height="1.0" fill-opacity="0.3"/>
<rect x="352.7" y="234.0" width="1.0" height="1.0" fill-opacity="0.3"/>
<rect x="356.8" y="203.7" width="1.0" height="1.0" fill-opacity="0.3"/>
<rect x="355.1" y="207.9" width="1.0" height="1.0" fill-opacity="0.3"/>
<rect x="354.5" y="240.0" width="1.0" height="1.0" fill-opacity="0.3"/>
<rect x="353.8" y="206.3" width="1.0" height="1.0" fill-opacity="0.3"/>
<rect x="363.8" y="235.4" width="1.0" height="1.0" fill-opacity="0.3"/>
<rect x="354.5" y="232.5" width="1.0" height="1.0" fill-opacity="0.3"/>
<rect x="358.6" y="235.5" width="1.0" height="1.0" fill-opacity="0.3"/>
<rect x="353.7" y="220.8" width="1.0" height="1.0" fill-opacity="0.3"/>
<rect x="358.6" y="235.3" width="1.0" height="1.0" fill-opacity="0.3"/>
<rect x="352.1" y="214.8" width="1.0" height="1.0" fill-opacity="0.3"/>
<rect x="349.0" y="239.8" width="1.0" height="1.0" fill-opacity="0.3"/>
<rect x="356.1" y="205.2" width="1.0" height="1.0" fill-opacity="0.3"/>
<rect x="357.8" y="240.1" width="1.0" height="1.0" fill-opacity="0.3"/>
<rect x="354.7" y="235.7" width="1.0" height="1.0" fill-opacity="0.3"/>
<rect x="358.1" y="211.6" width="1.0" height="1.0" fill-opacity="0.3"/>
<rect x="359.8" y="211.8" width="1.0" height="1.0" fill-opacity="0.3"/>
<rect x="360.9" y="223.1" width="1.0" height="1.0" fill-opacity="0.3"/>
<rect x="354.6" y="231.3" width="1.0" height="1.0" fill-opacity="0.3"/>
<rect x="358.2" y="218.9" width="1.0" height="1.0" fill-opacity="0.3"/>
<rect x="351.8" y="230.3" width="1.0" height="1.0" fill-opacity="0.3"/>
<rect x="358.8" y="239.2" width="1.0" height="1.0" fill-opacity="0.3"/>
<rect x="355.2" y="203.4" width="1.0" height="1.0" fill-opacity="0.3"/>
<rect x="358.7" y="229.2" width="1.0" height="1.0" fill-opacity="0.3"/>
<rect x="354.8" y="227.0" width="1.0" height="1.0" fill-opacity="0.3"/>
<rect x="357.3" y="235.7" width="1.0" height="1.0" fill-opacity="0.3"/>
<rect x="356.9" y="222.9" width="1.0" height="1.0" fill-opacity="0.3"/>
<rect x="360.0" y="197.6" width="1.0" height="1.0" fill-opacity="0.3"/>
<rect x="360.5" y="220.1" width="1.0" height="1.0" fill-opacity="0.3"/>
<rect x="354.6" y="227.4" width="1.0" height="1.0" fill-opacity="0.3"/>
<rect x="357.8" y="210.6" width="1.0" height="1.0" fill-opacity="0.3"/>
<rect x="359.3" y="217.3" width="1.0" height="1.0" fill-opacity="0.3"/>
<rect x="354.2" y="214.5" width="1.0" height="1.0" fill-opacity="0.3"/>
<rect x="356.7" y="203.4" width="1.0" height="1.0" fill-opacity="0.3"/>
<rect x="361.5" y="221.0" width="1.0" height="1.0" fill-opacity="0.3"/>
<rect x="357.8" y="229.5" width="1.0" height="1.0" fill-opacity="0.3"/>
<rect x="355.7" y="230.3" width="1.0" height="1.0" fill-opacity="0.3"/>
<rect x="357.8" y="200.0" width="1.0" height="1.0" fill-opacity="0.3"/>
<rect x="355.7" y="213.5" width="1.0" height="1.0" fill-opacity="0.3"/>
<rect x="355.6" y="239.7" width="1.0" height="1.0" fill-opacity="0.3"/>
<rect x="359.0" y="237.5" width="1.0" height="1.0" fill-opacity="0.3"/>
<rect x="359.6" y="227.6" width="1.0" height="1.0" fill-opacity="0.3"/>
<rect x="355.4" y="223.4" width="1.0" height="1.0" fill-opacity="0.3"/>
<rect x="346.9" y="239.7" width="1.0" height="1.0" fill-opacity="0.3"/>
<rect x="356.9" y="209.4" width="1.0" height="1.0" fill-opacity="0.3"/>
<rect x="359.3" y="235.5" width="1.0" height="1.0" fill-opacity="0.3"/>
<rect x="359.2" y="195.2" width="1.0" height="1.0" fill-opacity="0.3"/>
<rect x="359.7" y="208.6" width="1.0" height="1.0" fill-opacity="0.3"/>
<rect x="356.0" y="234.8" width="1.0" height="1.0" fill-opacity="0.3"/>
<rect x="356.5" y="212.5" width="1.0" height="1.0" fill-opacity="0.3"/>
<rect x="358.3" y="225.4" width="1.0" height="1.0" fill-opacity="0.3"/>
<rect x="354.0" y="236.6" width="1.0" height="1.0" fill-opacity="0.3"/>
<rect x="356.9" y="238.8" width="1.0" height="1.0" fill-opacity="0.3"/>
<rect x="356.5" y="237.6" width="1.0" height="1.0" fill-opacity="0.3"/>
<rect x="356.1" y="228.1" width="1.0" height="1.0" fill-opacity="0.3"/>
<rect x="359.8" y="221.1" width="1.0" height="1.0" fill-opacity="0.3"/>
<rect x="356.4" y="229.5" width="1.0" height="1.0" fill-opacity="0.3"/>
<rect x="354.5" y="228.4" width="1.0" height="1.0" fill-opacity="0.3"/>
<rect x="359.9" y="230.1" width="1.0" height="1.0" fill-opacity="0.3"/>
<rect x="354.0" y="238.1" width="1.0" height="1.0" fill-opacity="0.3"/>
<rect x="357.2" y="240.3" width="1.0" height="1.0" fill-opacity="0.3"/>
<rect x="358.8" y="201.2" width="1.0" height="1.0" fill-opacity="0.3"/>
<rect x="353.3" y="225.6" width="1.0" height="1.0" fill-opacity="0.3"/>
<rect x="357.2" y="221.3" width="1.0" height="1.0" fill-opacity="0.3"/>
<rect x="350.5" y="231.9" width="1.0" height="1.0" fill-opacity="0.3"/>
<rect x="360.0" y="232.7" width="1.0" height="1.0" fill-opacity="0.3"/>
<rect x="357.6" y="206.5" width="1.0" height="1.0" fill-opacity="0.3"/>
<rect x="358.7" y="239.6" width="1.0" height="1.0" fill-opacity="0.3"/>
<rect x="356.1" y="226.8" width="1.0" height="1.0" fill-opacity="0.3"/>
<rect x="360.1" y="226.4" width="1.0" height="1.0" fill-opacity="0.3"/>
<rect x="358.1" y="232.6" width="1.0" height="1.0" fill-opacity="0.3"/>
<rect x="356.2" y="228.8" width="1.0" height="1.0" fill-opacity="0.3"/>
<rect x="361.5" y="214.4" width="1.0" height="1.0" fill-opacity="0.3"/>
<rect x="350.0" y="225.1" width="1.0" height="1.0" fill-opacity="0.3"/>
<rect x="361.3" y="229.1" width="1.0" height="1.0" fill-opacity="0.3"/>
<rect x="355.8" y="234.6" width="1.0" height="1.0" fill-opacity="0.3"/>
<rect x="354.2" y="239.9" width="1.0" height="1.0" fill-opacity="0.3"/>
<rect x="356.3" y="231.3" width="1.0" height="1.0" fill-opacity="0.3"/>
<rect x="355.4" y="207.9" width="1.0" height="1.0" fill-opacity="0.3"/>
<rect x="359.6" y="226.3" width="1.0" height="1.0" fill-opacity="0.3"/>
<rect x="353.0" y="217.0" width="1.0" height="1.0" fill-opacity="0.3"/>
<rect x="352.5" y="206.6" width="1.0" height="1.0" fill-opacity="0.3"/>
<rect x="356.7" y="207.9" width="1.0" height="1.0" fill-opacity="0.3"/>
<rect x="358.5" y="232.3" width="1.0" height="1.0" fill-opacity="0.3"/>
<rect x="358.8" y="200.9" width="1.0" height="1.0" fill-opacity="0.3"/>
<rect x="352.2" y="214.7" width="1.0" height="1.0" fill-opacity="0.3"/>
<rect x="363.3" y="239.9" width="1.0" height="1.0" fill-opacity="0.3"/>
<rect x="355.1" y="209.3" width="1.0" height="1.0" fill-opacity="0.3"/>
<rect x="362.6" y="209.8" width="1.0" height="1.0" fill-opacity="0.3"/>
<rect x="356.0" y="215.8" width="1.0" height="1.0" fill-opacity="0.3"/>
<rect x="357.7" y="213.0" width="1.0" height="1.0" fill-opacity="0.3"/>
<rect x="351.9" y="219.0" width="1.0" height="1.0" fill-opacity="0.3"/>
<rect x="361.5" y="213.3" width="1.0" height="1.0" fill-opacity="0.3"/>
<rect x="359.4" y="210.1" width="1.0" height="1.0" fill-opacity="0.3"/>
<rect x="355.2" y="235.7" width="1.0" height="1.0" fill-opacity="0.3"/>
<rect x="357.7" y="228.6" width="1.0" height="1.0" fill-opacity="0.3"/>
<rect x="355.2" y="207.3" width="1.0" height="1.0" fill-opacity="0.3"/>
<rect x="353.2" y="232.9" width="1.0" height="1.0" fill-opacity="0.3"/>
<rect x="357.9" y="229.9" width="1.0" height="1.0" fill-opacity="0.3"/>
<rect x="356.7" y="232.8" width="1.0" height="1.0" fill-opacity="0.3"/>
<rect x="360.4" y="238.4" width="1.0" height="1.0" fill-opacity="0.3"/>
<rect x="356.2" y="224.5" width="1.0" height="1.0" fill-opacity="0.3"/>
<rect x="360.7" y="212.9" width="1.0" height="1.0" fill-opacity="0.3"/>
<rect x="363.1" y="233.4" width="1.0" height="1.0" fill-opacity="0.3"/>
<rect x="358.6" y="226.0" width="1.0" height="1.0" fill-opacity="0.3"/>
<rect x="359.2" y="217.3" width="1.0" height="1.0" fill-opacity="0.3"/>
<rect x="356.5" y="212.1" width="1.0" height="1.0" fill-opacity="0.3"/>
<rect x="353.7" y="202.2" width="1.0" height="1.0" fill-opacity="0.3"/>
<rect x="355.6" y="230.1" width="1.0" height="1.0" fill-opacity="0.3"/>
<rect x="357.7" y="219.8" width="1.0" height="1.0" fill-opacity="0.3"/>
<rect x="356.0" y="215.2" width="1.0" height="1.0" fill-opacity="0.3"/>
<rect x="361.5" y="228.9" width="1.0" height="1.0" fill-opacity="0.3"/>
<rect x="356.3" y="230.6" width="1.0" height="1.0" fill-opacity="0.3"/>
<rect x="351.1" y="233.6" width="1.0" height="1.0" fill-opacity="0.3"/>
<rect x="361.9" y="232.4" width="1.0" height="1.0" fill-opacity="0.3"/>
<rect x="353.4" y="216.7" width="1.0" height="1.0" fill-opacity="0.3"/>
<rect x="360.2" y="217.1" width="1.0" height="1.0" fill-opacity="0.3"/>
<rect x="359.3" y="209.2" width="1.0" height="1.0" fill-opacity="0.3"/>
<rect x="354.6" y="224.2" width="1.0" height="1.0" fill-opacity="0.3"/>
<rect x="358.6" y="229.8" width="1.0" height="1.0" fill-opacity="0.3"/>
<rect x="356.4" y="216.6" width="1.0" height="1.0" fill-opacity="0.3"/>
<rect x="355.0" y="201.9" width="1.0" height="1.0" fill-opacity="0.3"/>
<rect x="359.2" y="236.2" width="1.0" height="1.0" fill-opacity="0.3"/>
<rect x="354.4" y="229.8" width="1.0" height="1.0" fill-opacity="0.3"/>
<rect x="355.8" y="226.2" width="1.0" height="1.0" fill-opacity="0.3"/>
<rect x="359.7" y="213.6" width="1.0" height="1.0" fill-opacity="0.3"/>
<rect x="352.4" y="235.7" width="1.0" height="1.0" fill-opacity="0.3"/>
<rect x="355.3" y="207.3" width="1.0" height="1.0" fill-opacity="0.3"/>
<rect x="352.9" y="223.4" width="1.0" height="1.0" fill-opacity="0.3"/>
<rect x="361.7" y="237.8" width="1.0" height="1.0" fill-opacity="0.3"/>
<rect x="354.0" y="235.2" width="1.0" height="1.0" fill-opacity="0.3"/>
<rect x="358.4" y="229.1" width="1.0" height="1.0" fill-opacity="0.3"/>
<rect x="356.0" y="231.1" width="1.0" height="1.0" fill-opacity="0.3"/>
<rect x="355.3" y="231.1" width="1.0" height="1.0" fill-opacity="0.3"/>
<rect x="356.1" y="202.0" width="1.0" height="1.0" fill-opacity="0.3"/>
<rect x="358.3" y="227.4" width="1.0" height="1.0" fill-opacity="0.3"/>
<rect x="355.4" y="210.6" width="1.0" height="1.0" fill-opacity="0.3"/>
<rect x="360.3" y="211.2" width="1.0" height="1.0" fill-opacity="0.3"/>
<rect x="360.1" y="240.3" width="1.0" height="1.0" fill-opacity="0.3"/>
<rect x="354.0" y="234.5" width="1.0" height="1.0" fill-opacity="0.3"/>
<rect x="359.8" y="202.3" width="1.0" height="1.0" fill-opacity="0.3"/>
<rect x="357.1" y="235.8" width="1.0" height="1.0" fill-opacity="0.3"/>
<rect x="357.4" y="228.3" width="1.0" height="1.0" fill-opacity="0.3"/>
<rect x="357.1" y="206.6" width="1.0" height="1.0" fill-opacity="0.3"/>
<rect x="358.2" y="221.2" width="1.0" height="1.0" fill-opacity="0.3"/>
<rect x="357.5" y="225.5" width="1.0" height="1.0" fill-opacity="0.3"/>
<rect x="356.3" y="235.4" width="1.0" height="1.0" fill-opacity="0.3"/>
<rect x="357.7" y="204.9" width="1.0" height="1.0" fill-opacity="0.3"/>
<rect x="360.9" y="216.7" width="1.0" height="1.0" fill-opacity="0.3"/>
<rect x="355.5" y="216.3" width="1.0" height="1.0" fill-opacity="0.3"/>
<rect x="356.2" y="234.2" width="1.0" height="1.0" fill-opacity="0.3"/>
<rect x="359.6" y="210.4" width="1.0" height="1.0" fill-opacity="0.3"/>
<rect x="352.7" y="224.8" width="1.0" height="1.0" fill-opacity="0.3"/>
<rect x="357.3" y="199.0" width="1.0" height="1.0" fill-opacity="0.3"/>
<rect x="356.5" y="223.6" width="1.0" height="1.0" fill-opacity="0.3"/>
<rect x="360.8" y="220.3" width="1.0" height="1.0" fill-opacity="0.3"/>
<rect x="358.9" y="231.8" width="1.0" height="1.0" fill-opacity="0.3"/>
<rect x="354.3" y="226.7" width="1.0" height="1.0" fill-opacity="0.3"/>
<rect x="359.3" y="226.8" width="1.0" height="1.0" fill-opacity="0.3"/>
<rect x="362.7" y="211.3" width="1.0" height="1.0" fill-opacity="0.3"/>
<rect x="349.2" y="234.6" width="1.0" height="1.0" fill-opacity="0.3"/>
<rect x="352.4" y="239.8" width="1.0" height="1.0" fill-opacity="0.3"/>
<rect x="362.8" y="202.3" width="1.0" height="1.0" fill-opacity="0.3"/>
<rect x="359.3" y="222.5" width="1.0" height="1.0" fill-opacity="0.3"/>
<rect x="359.8" y="230.3" width="1.0" height="1.0" fill-opacity="0.3"/>
<rect x="354.4" y="231.2" width="1.0" height="1.0" fill-opacity="0.3"/>
<rect x="357.8" y="209.4" width="1.0" height="1.0" fill-opacity="0.3"/>
<rect x="356.8" y="219.4" width="1.0" height="1.0" fill-opacity="0.3"/>
<rect x="359.3" y="232.2" width="1.0" height="1.0" fill-opacity="0.3"/>
<rect x="355.4" y="224.0" width="1.0" height="1.0" fill-opacity="0.3"/>
<rect x="358.0" y="231.0" width="1.0" height="1.0" fill-opacity="0.3"/>
<rect x="356.9" y="209.8" width="1.0" height="1.0" fill-opacity="0.3"/>
<rect x="361.2" y="231.0" width="1.0" height="1.0" fill-opacity="0.3"/>
<rect x="357.1" y="240.2" width="1.0" height="1.0" fill-opacity="0.3"/>
<rect x="348.9" y="238.5" width="1.0" height="1.0" fill-opacity="0.3"/>
<rect x="357.0" y="231.7" width="1.0" height="1.0" fill-opacity="0.3"/>
<rect x="356.3" y="210.2" width="1.0" height="1.0" fill-opacity="0.3"/>
<rect x="359.3" y="197.2" width="1.0" height="1.0" fill-opacity="0.3"/>
<rect x="353.5" y="228.4" width="1.0" height="1.0" fill-opacity="0.3"/>
<rect x="356.3" y="213.1" width="1.0" height="1.0" fill-opacity="0.3"/>
<rect x="358.6" y="228.4" width="1.0" height="1.0" fill-opacity="0.3"/>
<rect x="356.8" y="240.8" width="1.0" height="1.0" fill-opacity="0.3"/>
<rect x="357.9" y="208.6" width="1.0" height="1.0" fill-opacity="0.3"/>
<rect x="361.1" y="217.3" width="1.0" height="1.0" fill-opacity="0.3"/>
<rect x="354.2" y="221.6" width="1.0" height="1.0" fill-opacity="0.3"/>
<rect x="358.2" y="204.3" width="1.0" height="1.0" fill-opacity="0.3"/>
<rect x="358.4" y="233.7" width="1.0" height="1.0" fill-opacity="0.3"/>
<rect x="363.5" y="222.2" width="1.0" height="1.0" fill-opacity="0.3"/>
<rect x="356.8" y="234.3" width="1.0" height="1.0" fill-opacity="0.3"/>
<rect x="357.9" y="222.4" width="1.0" height="1.0" fill-opacity="0.3"/>
<rect x="356.1" y="204.8" width="1.0" height="1.0" fill-opacity="0.3"/>
<rect x="355.2" y="225.9" width="1.0" height="1.0" fill-opacity="0.3"/>
<rect x="357.1" y="212.6" width="1.0" height="1.0" fill-opacity="0.3"/>
<rect x="359.9" y="198.1" width="1.0" height="1.0" fill-opacity="0.3"/>
<rect x="354.3" y="239.3" width="1.0" height="1.0" fill-opacity="0.3"/>
<rect x="352.0" y="240.5" width="1.0" height="1.0" fill-opacity="0.3"/>
<rect x="358.9" y="218.6" width="1.0" height="1.0" fill-opacity="0.3"/>
<rect x="358.2" y="234.8" width="1.0" height="1.0" fill-opacity="0.3"/>
<rect x="356.3" y="197.2" width="1.0" height="1.0" fill-opacity="0.3"/>
<rect x="355.1" y="210.7" width="1.0" height="1.0" fill-opacity="0.3"/>
<rect x="356.2" y="196.7" width="1.0" height="1.0" fill-opacity="0.3"/>
<rect x="358.0" y="235.5" width="1.0" height="1.0" fill-opacity="0.3"/>
<rect x="354.9" y="200.1" width="1.0" height="1.0" fill-opacity="0.3"/>
<rect x="355.9" y="237.5" width="1.0" height="1.0" fill-opacity="0.3"/>
<rect x="357.0" y="215.9" width="1.0" height="1.0" fill-opacity="0.3"/>
<rect x="359.8" y="228.2" width="1.0" height="1.0" fill-opacity="0.3"/>
<rect x="354.9" y="228.7" width="1.0" height="1.0" fill-opacity="0.3"/>
<rect x="357.4" y="210.2" width="1.0" height="1.0" fill-opacity="0.3"/>
<rect x="363.1" y="218.5" width="1.0" height="1.0" fill-opacity="0.3"/>
<rect x="356.2" y="204.5" width="1.0" height="1.0" fill-opacity="0.3"/>
<rect x="356.5" y="209.9" width="1.0" height="1.0" fill-opacity="0.3"/>
<rect x="353.7" y="221.6" width="1.0" height="1.0" fill-opacity="0.3"/>
<rect x="354.9" y="231.2" width="1.0" height="1.0" fill-opacity="0.3"/>
<rect x="361.3" y="220.9" width="1.0" height="1.0" fill-opacity="0.3"/>
<rect x="358.6" y="201.0" width="1.0" height="1.0" fill-opacity="0.3"/>
<rect x="353.7" y="222.2" width="1.0" height="1.0" fill-opacity="0.3"/>
<rect x="360.0" y="231.4" width="1.0" height="1.0" fill-opacity="0.3"/>
<rect x="354.9" y="212.0" width="1.0" height="1.0" fill-opacity="0.3"/>
<rect x="353.7" y="222.2" width="1.0" height="1.0" fill-opacity="0.3"/>
<rect x="359.8" y="206.7" width="1.0" height="1.0" fill-opacity="0.3"/>
<rect x="355.6" y="201.6" width="1.0" height="1.0" fill-opacity="0.3"/>
<rect x="372.3" y="194.2" width="1.0" height="1.0" fill-opacity="0.5"/>
<rect x="373.4" y="196.4" width="1.0" height="1.0" fill-opacity="0.5"/>
<rect x="371.5" y="198.4" width="1.0" height="1.0" fill-opacity="0.5"/>
<rect x="376.0" y="203.7" width="1.0" height="1.0" fill-opacity="0.5"/>
<rect x="374.5" y="195.5" width="1.0" height="1.0" fill-opacity="0.5"/>
<rect x="325.4" y="183.3" width="58.2" height="59" fill="none" stroke="#555" stroke-width="0.9"/>
<line x1="325.4" y1="187.51" x2="326.7" y2="187.51" stroke="#444" stroke-width="0.7"/>
<line x1="329.56" y1="242.3" x2="329.56" y2="241" stroke="#444" stroke-width="0.7"/>
<line x1="325.4" y1="191.73" x2="326.7" y2="191.73" stroke="#444" stroke-width="0.7"/>
<line x1="333.71" y1="242.3" x2="333.71" y2="241" stroke="#444" stroke-width="0.7"/>
<line x1="325.4" y1="195.94" x2="326.7" y2="195.94" stroke="#444" stroke-width="0.7"/>
<line x1="337.87" y1="242.3" x2="337.87" y2="241" stroke="#444" stroke-width="0.7"/>
<line x1="325.4" y1="200.16" x2="326.7" y2="200.16" stroke="#444" stroke-width="0.7"/>
<line x1="342.03" y1="242.3" x2="342.03" y2="241" stroke="#444" stroke-width="0.7"/>
<line x1="325.4" y1="204.37" x2="326.7" y2="204.37" stroke="#444" stroke-width="0.7"/>
<line x1="346.19" y1="242.3" x2="346.19" y2="241" stroke="#444" stroke-width="0.7"/>
<line x1="325.4" y1="208.59" x2="326.7" y2="208.59" stroke="#444" stroke-width="0.7"/>
<line x1="350.34" y1="242.3" x2="350.34" y2="241" stroke="#444" stroke-width="0.7"/>
<line x1="325.4" y1="212.8" x2="326.7" y2="212.8" stroke="#444" stroke-width="0.7"/>
<line x1="354.5" y1="242.3" x2="354.5" y2="241" stroke="#444" stroke-width="0.7"/>
<line x1="325.4" y1="217.01" x2="326.7" y2="217.01" stroke="#444" stroke-width="0.7"/>
<line x1="358.66" y1="242.3" x2="358.66" y2="241" stroke="#444" stroke-width="0.7"/>
<line x1="325.4" y1="221.23" x2="326.7" y2="221.23" stroke="#444" stroke-width="0.7"/>
<line x1="362.81" y1="242.3" x2="362.81" y2="241" stroke="#444" stroke-width="0.7"/>
<line x1="325.4" y1="225.44" x2="326.7" y2="225.44" stroke="#444" stroke-width="0.7"/>
<line x1="366.97" y1="242.3" x2="366.97" y2="241" stroke="#444" stroke-width="0.7"/>
<line x1="325.4" y1="229.66" x2="326.7" y2="229.66" stroke="#444" stroke-width="0.7"/>
<line x1="371.13" y1="242.3" x2="371.13" y2="241" stroke="#444" stroke-width="0.7"/>
<line x1="325.4" y1="233.87" x2="326.7" y2="233.87" stroke="#444" stroke-width="0.7"/>
<line x1="375.29" y1="242.3" x2="375.29" y2="241" stroke="#444" stroke-width="0.7"/>
<line x1="325.4" y1="238.09" x2="326.7" y2="238.09" stroke="#444" stroke-width="0.7"/>
<line x1="379.44" y1="242.3" x2="379.44" y2="241" stroke="#444" stroke-width="0.7"/>
<rect x="366" y="189" width="15.2" height="19.9" fill="none" stroke="#111" stroke-width="1.3"/>
<text transform="translate(375.2 221) scale(1 1.04)" font-size="9.7" text-anchor="middle" fill="#000">2.4</text>
<text transform="translate(183.8 225.3) rotate(-90) scale(1 1.04)" font-size="9.3" text-anchor="middle" fill="#000">H2Kd</text>
<text transform="translate(205.3 253.8) scale(1 1.04)" font-size="9.3" text-anchor="middle" fill="#000">CFSE</text>
<line x1="410.6" y1="160" x2="412.6" y2="160" stroke="#000" stroke-width="1"/>
<text transform="translate(410.2 165.3) scale(1 1.04)" font-size="9.6" text-anchor="end" fill="#000">60</text>
<line x1="410.6" y1="170.8" x2="412.6" y2="170.8" stroke="#000" stroke-width="1"/>
<text transform="translate(410.2 176.1) scale(1 1.04)" font-size="9.6" text-anchor="end" fill="#000">50</text>
<line x1="410.6" y1="181.6" x2="412.6" y2="181.6" stroke="#000" stroke-width="1"/>
<text transform="translate(410.2 186.9) scale(1 1.04)" font-size="9.6" text-anchor="end" fill="#000">40</text>
<line x1="410.6" y1="192.4" x2="412.6" y2="192.4" stroke="#000" stroke-width="1"/>
<text transform="translate(410.2 197.7) scale(1 1.04)" font-size="9.6" text-anchor="end" fill="#000">30</text>
<line x1="410.6" y1="203.2" x2="412.6" y2="203.2" stroke="#000" stroke-width="1"/>
<text transform="translate(410.2 208.5) scale(1 1.04)" font-size="9.6" text-anchor="end" fill="#000">20</text>
<line x1="410.6" y1="214" x2="412.6" y2="214" stroke="#000" stroke-width="1"/>
<text transform="translate(410.2 219.3) scale(1 1.04)" font-size="9.6" text-anchor="end" fill="#000">10</text>
<line x1="410.6" y1="224.8" x2="412.6" y2="224.8" stroke="#000" stroke-width="1"/>
<text transform="translate(410.2 230.1) scale(1 1.04)" font-size="9.6" text-anchor="end" fill="#000">0</text>
<line x1="412.6" y1="159.5" x2="412.6" y2="224.8" stroke="#000" stroke-width="1.2"/>
<line x1="412.6" y1="224.8" x2="511.5" y2="224.8" stroke="#000" stroke-width="1.2"/>
<line x1="430" y1="224.8" x2="430" y2="226.8" stroke="#000" stroke-width="1"/>
<line x1="462.8" y1="224.8" x2="462.8" y2="226.8" stroke="#000" stroke-width="1"/>
<line x1="495" y1="224.8" x2="495" y2="226.8" stroke="#000" stroke-width="1"/>
<line x1="412.6" y1="171.2" x2="509.5" y2="171.2" stroke="#000" stroke-width="1" stroke-dasharray="2.6 1.6"/>
<text transform="translate(461.3 155.9) scale(1 1.04)" font-size="9.5" text-anchor="middle" fill="#000">% H2Kd<tspan font-size="5.5" dy="-3.5">+</tspan><tspan dy="3.5"> CFSE</tspan><tspan font-size="5.5" dy="-3.8">hi</tspan></text>
<text transform="translate(462.6 165.8) scale(1 1.04)" font-size="9.6" text-anchor="middle" fill="#000">targets</text>
<circle cx="424" cy="179.7" r="2.1" fill="#333"/>
<circle cx="432.7" cy="178.7" r="2.1" fill="#333"/>
<circle cx="430" cy="182.1" r="2.1" fill="#333"/>
<circle cx="435.6" cy="182.7" r="2.1" fill="#333"/>
<circle cx="424" cy="187" r="2.1" fill="#333"/>
<circle cx="436" cy="185" r="2.1" fill="#333"/>
<circle cx="430" cy="189.6" r="2.1" fill="#333"/>
<circle cx="430" cy="197.1" r="2.1" fill="#333"/>
<line x1="418.7" y1="185.6" x2="440.5" y2="185.6" stroke="#000" stroke-width="1"/>
<circle cx="459.2" cy="213.1" r="1.95" fill="#fff" stroke="#000" stroke-width="0.9"/>
<circle cx="468.5" cy="214.2" r="1.95" fill="#fff" stroke="#000" stroke-width="0.9"/>
<circle cx="456.2" cy="216.2" r="1.95" fill="#fff" stroke="#000" stroke-width="0.9"/>
<circle cx="459.7" cy="217.0" r="1.95" fill="#fff" stroke="#000" stroke-width="0.9"/>
<circle cx="462.8" cy="218.2" r="1.95" fill="#fff" stroke="#000" stroke-width="0.9"/>
<circle cx="456.6" cy="223.0" r="1.95" fill="#fff" stroke="#000" stroke-width="0.9"/>
<circle cx="462.8" cy="223.0" r="1.95" fill="#fff" stroke="#000" stroke-width="0.9"/>
<circle cx="468.5" cy="223.0" r="1.95" fill="#fff" stroke="#000" stroke-width="0.9"/>
<line x1="451.5" y1="219.3" x2="473.5" y2="219.3" stroke="#000" stroke-width="1"/>
<circle cx="495.4" cy="209.5" r="1.9" fill="#000"/>
<circle cx="492.3" cy="213.5" r="1.9" fill="#000"/>
<circle cx="501.2" cy="214.6" r="1.9" fill="#000"/>
<circle cx="488.9" cy="216.2" r="1.9" fill="#000"/>
<circle cx="494.6" cy="217.2" r="1.9" fill="#000"/>
<circle cx="486.5" cy="220.3" r="1.9" fill="#000"/>
<circle cx="493.8" cy="220" r="1.9" fill="#000"/>
<circle cx="496.5" cy="220.5" r="1.9" fill="#000"/>
<circle cx="489" cy="223.5" r="1.9" fill="#000"/>
<circle cx="492.3" cy="223" r="1.9" fill="#000"/>
<circle cx="497.7" cy="223" r="1.9" fill="#000"/>
<circle cx="501.5" cy="223.2" r="1.9" fill="#000"/>
<circle cx="504.6" cy="222.3" r="1.9" fill="#000"/>
<line x1="486" y1="219.7" x2="506" y2="219.7" stroke="#000" stroke-width="1"/>
<text transform="translate(430.5 237.1) scale(1 1.0)" font-size="9.6" text-anchor="middle" fill="#000">TCD</text>
<text transform="translate(430.4 248.5) scale(1 1.0)" font-size="9.6" text-anchor="middle" fill="#000">BM</text>
<text transform="translate(463.5 237.1) scale(1 1.0)" font-size="9.6" text-anchor="middle" fill="#000">WT</text>
<text transform="translate(463.1 248.5) scale(1 1.0)" font-size="9.6" text-anchor="middle" fill="#000">CD4</text>
<text transform="translate(495.2 237.1) scale(1 1.0)" font-size="9.15" text-anchor="middle" fill="#000">DNMAML</text>
<text transform="translate(496.4 248.5) scale(1 1.0)" font-size="9.6" text-anchor="middle" fill="#000">CD4</text>
<text transform="translate(166 275.5) scale(1 0.98)" font-size="17" text-anchor="start" font-weight="bold" fill="#000">D</text>
<line x1="197.5" y1="297.5" x2="199.3" y2="297.5" stroke="#aaa" stroke-width="1"/>
<text transform="translate(197.8 303.1) scale(1 1.04)" font-size="9.4" text-anchor="end" fill="#000">60</text>
<line x1="197.5" y1="310.3" x2="199.3" y2="310.3" stroke="#aaa" stroke-width="1"/>
<text transform="translate(197.8 315.9) scale(1 1.04)" font-size="9.4" text-anchor="end" fill="#000">50</text>
<line x1="197.5" y1="323.1" x2="199.3" y2="323.1" stroke="#aaa" stroke-width="1"/>
<text transform="translate(197.8 328.7) scale(1 1.04)" font-size="9.4" text-anchor="end" fill="#000">40</text>
<line x1="197.5" y1="335.9" x2="199.3" y2="335.9" stroke="#aaa" stroke-width="1"/>
<text transform="translate(197.8 341.5) scale(1 1.04)" font-size="9.4" text-anchor="end" fill="#000">30</text>
<line x1="197.5" y1="348.7" x2="199.3" y2="348.7" stroke="#aaa" stroke-width="1"/>
<text transform="translate(197.8 354.3) scale(1 1.04)" font-size="9.4" text-anchor="end" fill="#000">20</text>
<line x1="197.5" y1="361.5" x2="199.3" y2="361.5" stroke="#aaa" stroke-width="1"/>
<text transform="translate(197.8 367.1) scale(1 1.04)" font-size="9.4" text-anchor="end" fill="#000">10</text>
<line x1="197.5" y1="374.3" x2="199.3" y2="374.3" stroke="#aaa" stroke-width="1"/>
<text transform="translate(197.8 379.9) scale(1 1.04)" font-size="9.4" text-anchor="end" fill="#000">0</text>
<line x1="199.3" y1="297" x2="199.3" y2="374.3" stroke="#b4b4b4" stroke-width="1"/>
<line x1="199.3" y1="374.3" x2="320" y2="374.3" stroke="#b4b4b4" stroke-width="1"/>
<text transform="translate(219.8 387) scale(1 1.0)" font-size="9.6" text-anchor="middle" fill="#000">5</text>
<text transform="translate(260.6 387) scale(1 1.0)" font-size="9.6" text-anchor="middle" fill="#000">10</text>
<text transform="translate(301.2 387) scale(1 1.0)" font-size="9.6" text-anchor="middle" fill="#000">20</text>
<text transform="translate(259.4 400.2) scale(1 1.04)" font-size="9.8" text-anchor="middle" fill="#000">Effector : Target ratio</text>
<text transform="translate(182.9 337.6) rotate(-90) scale(1 1.04)" font-size="10.1" text-anchor="middle" fill="#000">% killing</text>
<polyline points="219.8,338 260.5,327.8 301,307.5" fill="none" stroke="#222" stroke-width="0.95"/>
<polyline points="219.8,354.3 260.5,343.7 301,324.7" fill="none" stroke="#222" stroke-width="0.95"/>
<polyline points="219.8,358.9 260.5,356 301,356.6" fill="none" stroke="#222" stroke-width="0.95"/>
<line x1="300.6" y1="300.2" x2="300.6" y2="345.5" stroke="#444" stroke-width="0.9"/>
<line x1="299.6" y1="300.2" x2="301.6" y2="300.2" stroke="#444" stroke-width="0.9"/>
<line x1="299.6" y1="345.5" x2="301.6" y2="345.5" stroke="#444" stroke-width="0.9"/>
<line x1="260.5" y1="325" x2="260.5" y2="362" stroke="#444" stroke-width="0.9"/>
<line x1="259.5" y1="325" x2="261.5" y2="325" stroke="#444" stroke-width="0.9"/>
<line x1="259.5" y1="362" x2="261.5" y2="362" stroke="#444" stroke-width="0.9"/>
<line x1="219.6" y1="351" x2="219.6" y2="364.3" stroke="#444" stroke-width="0.9"/>
<line x1="218.6" y1="351" x2="220.6" y2="351" stroke="#444" stroke-width="0.9"/>
<line x1="218.6" y1="364.3" x2="220.6" y2="364.3" stroke="#444" stroke-width="0.9"/>
<ellipse cx="219.8" cy="338" rx="2.3" ry="2.7" fill="#000"/>
<ellipse cx="260.5" cy="327.8" rx="2.3" ry="2.7" fill="#000"/>
<ellipse cx="301" cy="307.5" rx="2.3" ry="2.7" fill="#000"/>
<rect x="217.4" y="351.8" width="4.8" height="5" fill="#000" stroke="none" stroke-width="1"/>
<rect x="258.1" y="341.2" width="4.8" height="5" fill="#000" stroke="none" stroke-width="1"/>
<rect x="298.6" y="322.2" width="4.8" height="5" fill="#000" stroke="none" stroke-width="1"/>
<path d="M219.8,355.59999999999997 L222.4,361.29999999999995 L217.20000000000002,361.29999999999995 Z" fill="#000"/>
<path d="M260.5,352.7 L263.1,358.4 L257.9,358.4 Z" fill="#000"/>
<path d="M301,353.3 L303.6,359.0 L298.4,359.0 Z" fill="#000"/>
<ellipse cx="301" cy="357.6" rx="2.3" ry="2.2" fill="#000"/>
<circle cx="219.2" cy="322.5" r="1.5" fill="#000"/>
<ellipse cx="219.5" cy="265.9" rx="2.3" ry="2.7" fill="#000"/>
<rect x="217.1" y="276.1" width="4.8" height="5" fill="#000" stroke="none" stroke-width="1"/>
<path d="M219.5,289.7 L222.1,295.4 L216.9,295.4 Z" fill="#000"/>
<text transform="translate(233.4 269.8) scale(1 1.04)" font-size="9.7" text-anchor="start" fill="#000">WT CD4</text>
<text transform="translate(233.4 282.7) scale(1 1.04)" font-size="9.6" text-anchor="start" fill="#000">DNMAML CD4</text>
<text transform="translate(233.4 297.5) scale(1 1.04)" font-size="9.7" text-anchor="start" fill="#000">Naive CD4</text>
<text transform="translate(325.5 275.5) scale(1 0.98)" font-size="17" text-anchor="start" font-weight="bold" fill="#000">E</text>
<defs>
<pattern id="dots" width="2" height="2" patternUnits="userSpaceOnUse"><rect width="2" height="2" fill="#e4e4e4"/><rect width="1" height="1" fill="#c4c4c4"/><rect x="1" y="1" width="1" height="1" fill="#c4c4c4"/></pattern>
<pattern id="hatch" width="3" height="3" patternUnits="userSpaceOnUse"><rect width="3" height="3" fill="#b8b8b8"/><rect x="0" y="0" width="1" height="1" fill="#1a1a1a"/><rect x="2" y="1" width="1" height="1" fill="#1a1a1a"/><rect x="1" y="2" width="1" height="1" fill="#1a1a1a"/><rect x="1" y="0" width="1" height="1" fill="#777"/><rect x="0" y="1" width="1" height="1" fill="#777"/><rect x="2" y="2" width="1" height="1" fill="#777"/></pattern>
</defs>
<line x1="367.5" y1="288.6" x2="369.3" y2="288.6" stroke="#aaa" stroke-width="1"/>
<text transform="translate(365.8 294.2) scale(1 1.04)" font-size="9.4" text-anchor="end" fill="#000">45</text>
<line x1="367.5" y1="299.6" x2="369.3" y2="299.6" stroke="#aaa" stroke-width="1"/>
<text transform="translate(365.8 305.2) scale(1 1.04)" font-size="9.4" text-anchor="end" fill="#000">40</text>
<line x1="367.5" y1="310.6" x2="369.3" y2="310.6" stroke="#aaa" stroke-width="1"/>
<text transform="translate(365.8 316.2) scale(1 1.04)" font-size="9.4" text-anchor="end" fill="#000">35</text>
<line x1="367.5" y1="321.6" x2="369.3" y2="321.6" stroke="#aaa" stroke-width="1"/>
<text transform="translate(365.8 327.2) scale(1 1.04)" font-size="9.4" text-anchor="end" fill="#000">30</text>
<line x1="367.5" y1="332.6" x2="369.3" y2="332.6" stroke="#aaa" stroke-width="1"/>
<text transform="translate(365.8 338.2) scale(1 1.04)" font-size="9.4" text-anchor="end" fill="#000">25</text>
<line x1="367.5" y1="343.6" x2="369.3" y2="343.6" stroke="#aaa" stroke-width="1"/>
<text transform="translate(365.8 349.2) scale(1 1.04)" font-size="9.4" text-anchor="end" fill="#000">20</text>
<line x1="367.5" y1="354.6" x2="369.3" y2="354.6" stroke="#aaa" stroke-width="1"/>
<text transform="translate(365.8 360.2) scale(1 1.04)" font-size="9.4" text-anchor="end" fill="#000">15</text>
<line x1="367.5" y1="365.6" x2="369.3" y2="365.6" stroke="#aaa" stroke-width="1"/>
<text transform="translate(365.8 371.2) scale(1 1.04)" font-size="9.4" text-anchor="end" fill="#000">10</text>
<line x1="367.5" y1="376.6" x2="369.3" y2="376.6" stroke="#aaa" stroke-width="1"/>
<text transform="translate(365.8 382.2) scale(1 1.04)" font-size="9.4" text-anchor="end" fill="#000">5</text>
<line x1="367.5" y1="387.6" x2="369.3" y2="387.6" stroke="#aaa" stroke-width="1"/>
<text transform="translate(365.8 393.2) scale(1 1.04)" font-size="9.4" text-anchor="end" fill="#000">0</text>
<line x1="385.5" y1="309.3" x2="385.5" y2="315.3" stroke="#333" stroke-width="1"/>
<line x1="383.3" y1="309.3" x2="387.7" y2="309.3" stroke="#333" stroke-width="1"/>
<rect x="379.1" y="315.3" width="13.2" height="72.3" fill="#fff" stroke="#000" stroke-width="1"/>
<line x1="399.5" y1="345.1" x2="399.5" y2="348.4" stroke="#333" stroke-width="1"/>
<line x1="397.3" y1="345.1" x2="401.7" y2="345.1" stroke="#333" stroke-width="1"/>
<rect x="393.3" y="348.4" width="11.5" height="39.2" fill="url(#dots)" stroke="#000" stroke-width="1"/>
<line x1="412.5" y1="292.9" x2="412.5" y2="308.1" stroke="#333" stroke-width="1"/>
<line x1="410.3" y1="292.9" x2="414.7" y2="292.9" stroke="#333" stroke-width="1"/>
<rect x="405.8" y="308.1" width="12.6" height="79.5" fill="url(#hatch)" stroke="#000" stroke-width="1"/>
<line x1="425.5" y1="325.3" x2="425.5" y2="329" stroke="#333" stroke-width="1"/>
<line x1="423.3" y1="325.3" x2="427.7" y2="325.3" stroke="#333" stroke-width="1"/>
<rect x="419.4" y="329" width="12.2" height="58.6" fill="#000" stroke="#000" stroke-width="1"/>
<line x1="458.5" y1="327.2" x2="458.5" y2="338.7" stroke="#333" stroke-width="1"/>
<line x1="456.3" y1="327.2" x2="460.7" y2="327.2" stroke="#333" stroke-width="1"/>
<rect x="451.8" y="338.7" width="12.4" height="48.9" fill="#fff" stroke="#000" stroke-width="1"/>
<line x1="471.5" y1="360.8" x2="471.5" y2="361.5" stroke="#333" stroke-width="1"/>
<line x1="469.3" y1="360.8" x2="473.7" y2="360.8" stroke="#333" stroke-width="1"/>
<rect x="465.2" y="361.5" width="11.8" height="26.1" fill="url(#dots)" stroke="#000" stroke-width="1"/>
<line x1="484.5" y1="337.3" x2="484.5" y2="353.2" stroke="#333" stroke-width="1"/>
<line x1="482.3" y1="337.3" x2="486.7" y2="337.3" stroke="#333" stroke-width="1"/>
<rect x="478" y="353.2" width="12.4" height="34.4" fill="url(#hatch)" stroke="#000" stroke-width="1"/>
<line x1="497.5" y1="377.2" x2="497.5" y2="387.6" stroke="#333" stroke-width="1"/>
<line x1="495.5" y1="377.2" x2="499.5" y2="377.2" stroke="#333" stroke-width="1"/>
<line x1="369.3" y1="288.1" x2="369.3" y2="387.6" stroke="#b8b8b8" stroke-width="1"/>
<line x1="369.3" y1="387.6" x2="511.7" y2="387.6" stroke="#aaa" stroke-width="1"/>
<circle cx="399.5" cy="338.5" r="1.5" fill="#000"/>
<circle cx="425.9" cy="320" r="1.5" fill="#000"/>
<circle cx="471.4" cy="354.8" r="1.5" fill="#000"/>
<circle cx="498.3" cy="370" r="1.5" fill="#000"/>
<text transform="translate(407 400.2) scale(1 1.0)" font-size="9.6" text-anchor="middle" fill="#000">WT</text>
<text transform="translate(480.2 400.2) scale(1 1.0)" font-size="9.6" text-anchor="middle" fill="#000">DNMAML</text>
<text transform="translate(348.4 333) rotate(-90) scale(1 1.04)" font-size="9.8" text-anchor="middle" fill="#000">Cytolytic activity (%)</text>
<rect x="374" y="263.6" width="13.5" height="6.6" fill="#fff" stroke="#000" stroke-width="1"/>
<rect x="374" y="277.1" width="13.5" height="6.6" fill="url(#dots)" stroke="#000" stroke-width="1"/>
<rect x="449" y="263.6" width="12.4" height="6.6" fill="url(#hatch)" stroke="#000" stroke-width="1"/>
<rect x="449" y="277.1" width="12.4" height="6.6" fill="#000" stroke="#000" stroke-width="1"/>
<text transform="translate(391.2 270.3) scale(1 1.04)" font-size="9.6" text-anchor="start" fill="#000">Control IgG</text>
<text transform="translate(392.6 283.8) scale(1 1.04)" font-size="9.6" text-anchor="start" fill="#000">Anti-FasL</text>
<text transform="translate(466.2 270.3) scale(1 1.04)" font-size="9.6" text-anchor="start" fill="#000">Anti-Trail</text>
<text transform="translate(466.2 283.8) scale(1 1.04)" font-size="9.6" text-anchor="start" fill="#000">Anti-FasL</text>
<text transform="translate(466.2 296) scale(1 1.04)" font-size="10" text-anchor="start" fill="#000">+anti-Trail</text>
</svg></body></html>
